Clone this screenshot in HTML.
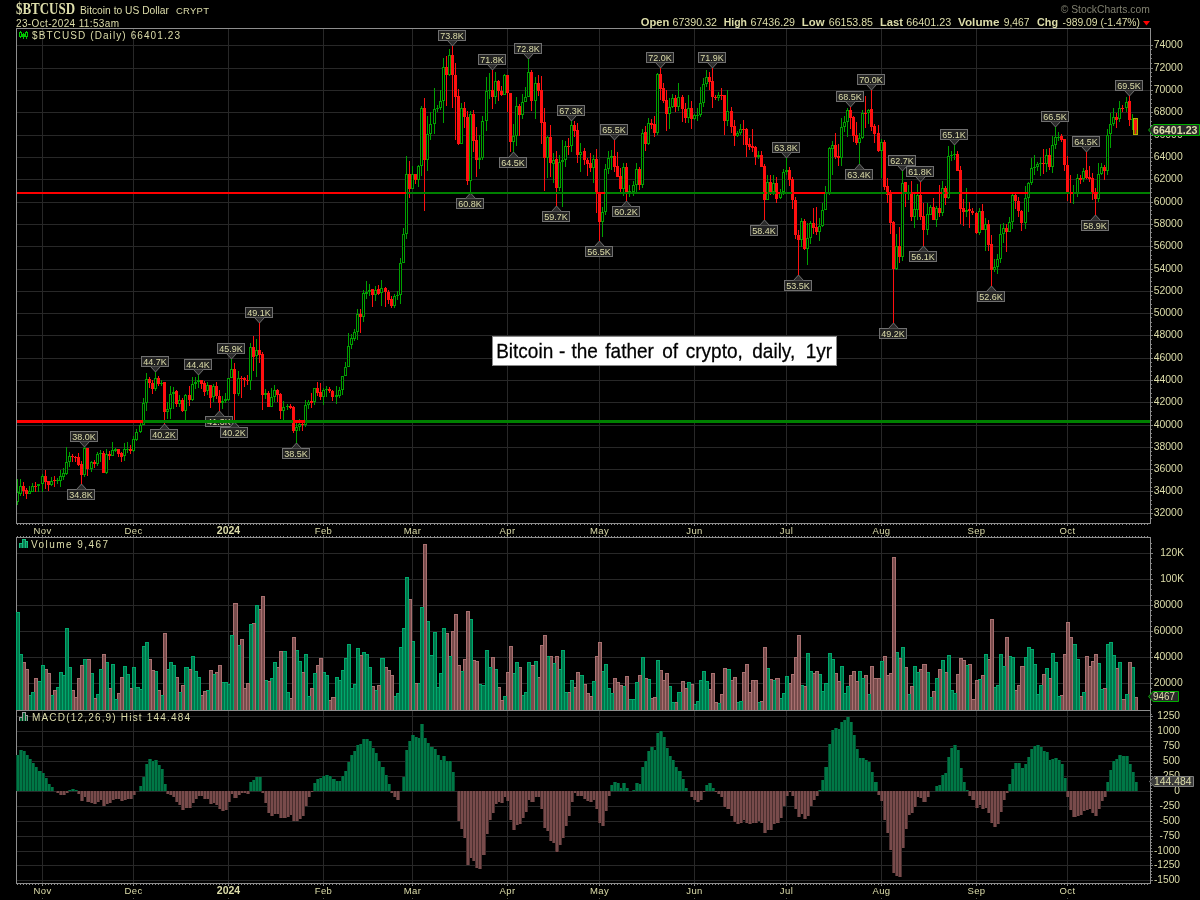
<!DOCTYPE html><html><head><meta charset="utf-8"><title>$BTCUSD</title><style>html,body{margin:0;padding:0;background:#000;width:1200px;height:900px;overflow:hidden}</style></head><body><svg width="1200" height="900" viewBox="0 0 1200 900" style="position:absolute;left:0;top:0;will-change:transform" font-family="Liberation Sans, sans-serif">
<rect width="1200" height="900" fill="#000"/>
<g fill="#282828" shape-rendering="crispEdges">
<rect x="17" y="45" width="1133" height="1"/>
<rect x="17" y="68" width="1133" height="1"/>
<rect x="17" y="90" width="1133" height="1"/>
<rect x="17" y="112" width="1133" height="1"/>
<rect x="17" y="135" width="1133" height="1"/>
<rect x="17" y="157" width="1133" height="1"/>
<rect x="17" y="179" width="1133" height="1"/>
<rect x="17" y="202" width="1133" height="1"/>
<rect x="17" y="224" width="1133" height="1"/>
<rect x="17" y="246" width="1133" height="1"/>
<rect x="17" y="269" width="1133" height="1"/>
<rect x="17" y="291" width="1133" height="1"/>
<rect x="17" y="313" width="1133" height="1"/>
<rect x="17" y="335" width="1133" height="1"/>
<rect x="17" y="358" width="1133" height="1"/>
<rect x="17" y="380" width="1133" height="1"/>
<rect x="17" y="402" width="1133" height="1"/>
<rect x="17" y="425" width="1133" height="1"/>
<rect x="17" y="447" width="1133" height="1"/>
<rect x="17" y="469" width="1133" height="1"/>
<rect x="17" y="491" width="1133" height="1"/>
<rect x="17" y="513" width="1133" height="1"/>
<rect x="42" y="29" width="1" height="494"/>
<rect x="42" y="538" width="1" height="172"/>
<rect x="42" y="711" width="1" height="172"/>
<rect x="133" y="29" width="1" height="494"/>
<rect x="133" y="538" width="1" height="172"/>
<rect x="133" y="711" width="1" height="172"/>
<rect x="228" y="29" width="1" height="494"/>
<rect x="228" y="538" width="1" height="172"/>
<rect x="228" y="711" width="1" height="172"/>
<rect x="323" y="29" width="1" height="494"/>
<rect x="323" y="538" width="1" height="172"/>
<rect x="323" y="711" width="1" height="172"/>
<rect x="412" y="29" width="1" height="494"/>
<rect x="412" y="538" width="1" height="172"/>
<rect x="412" y="711" width="1" height="172"/>
<rect x="507" y="29" width="1" height="494"/>
<rect x="507" y="538" width="1" height="172"/>
<rect x="507" y="711" width="1" height="172"/>
<rect x="599" y="29" width="1" height="494"/>
<rect x="599" y="538" width="1" height="172"/>
<rect x="599" y="711" width="1" height="172"/>
<rect x="694" y="29" width="1" height="494"/>
<rect x="694" y="538" width="1" height="172"/>
<rect x="694" y="711" width="1" height="172"/>
<rect x="786" y="29" width="1" height="494"/>
<rect x="786" y="538" width="1" height="172"/>
<rect x="786" y="711" width="1" height="172"/>
<rect x="881" y="29" width="1" height="494"/>
<rect x="881" y="538" width="1" height="172"/>
<rect x="881" y="711" width="1" height="172"/>
<rect x="976" y="29" width="1" height="494"/>
<rect x="976" y="538" width="1" height="172"/>
<rect x="976" y="711" width="1" height="172"/>
<rect x="1067" y="29" width="1" height="494"/>
<rect x="1067" y="538" width="1" height="172"/>
<rect x="1067" y="711" width="1" height="172"/>
<rect x="17" y="553" width="1133" height="1"/>
<rect x="17" y="579" width="1133" height="1"/>
<rect x="17" y="605" width="1133" height="1"/>
<rect x="17" y="631" width="1133" height="1"/>
<rect x="17" y="657" width="1133" height="1"/>
<rect x="17" y="683" width="1133" height="1"/>
<rect x="17" y="716" width="1133" height="1"/>
<rect x="17" y="731" width="1133" height="1"/>
<rect x="17" y="746" width="1133" height="1"/>
<rect x="17" y="761" width="1133" height="1"/>
<rect x="17" y="776" width="1133" height="1"/>
<rect x="17" y="791" width="1133" height="1"/>
<rect x="17" y="806" width="1133" height="1"/>
<rect x="17" y="821" width="1133" height="1"/>
<rect x="17" y="836" width="1133" height="1"/>
<rect x="17" y="851" width="1133" height="1"/>
<rect x="17" y="865" width="1133" height="1"/>
<rect x="17" y="880" width="1133" height="1"/>
</g>
<g shape-rendering="crispEdges">
<rect x="17" y="479" width="1" height="13" fill="#00a000"/>
<rect x="17" y="502" width="1" height="3" fill="#00a000"/>
<rect x="16" y="492" width="3" height="10" fill="#00a000"/>
<rect x="17" y="493" width="1" height="8" fill="#000"/>
<rect x="20" y="479" width="1" height="7" fill="#00a000"/>
<rect x="20" y="494" width="1" height="2" fill="#00a000"/>
<rect x="19" y="486" width="3" height="8" fill="#00a000"/>
<rect x="20" y="487" width="1" height="6" fill="#000"/>
<rect x="23" y="482" width="1" height="14" fill="#ff1010"/>
<rect x="22" y="486" width="3" height="5" fill="#ff1010"/>
<rect x="26" y="488" width="1" height="11" fill="#ff1010"/>
<rect x="25" y="490" width="3" height="4" fill="#ff1010"/>
<rect x="29" y="486" width="1" height="5" fill="#00a000"/>
<rect x="28" y="491" width="3" height="3" fill="#00a000"/>
<rect x="29" y="492" width="1" height="1" fill="#000"/>
<rect x="32" y="483" width="1" height="3" fill="#00a000"/>
<rect x="31" y="486" width="3" height="6" fill="#00a000"/>
<rect x="32" y="487" width="1" height="4" fill="#000"/>
<rect x="35" y="482" width="1" height="10" fill="#ff1010"/>
<rect x="34" y="486" width="3" height="1" fill="#ff1010"/>
<rect x="38" y="486" width="1" height="6" fill="#00a000"/>
<rect x="37" y="484" width="3" height="2" fill="#00a000"/>
<rect x="42" y="474" width="1" height="2" fill="#00a000"/>
<rect x="42" y="484" width="1" height="8" fill="#00a000"/>
<rect x="41" y="476" width="3" height="8" fill="#00a000"/>
<rect x="42" y="477" width="1" height="6" fill="#000"/>
<rect x="45" y="470" width="1" height="19" fill="#ff1010"/>
<rect x="44" y="476" width="3" height="6" fill="#ff1010"/>
<rect x="48" y="481" width="1" height="10" fill="#ff1010"/>
<rect x="47" y="481" width="3" height="4" fill="#ff1010"/>
<rect x="51" y="477" width="1" height="4" fill="#00a000"/>
<rect x="51" y="485" width="1" height="1" fill="#00a000"/>
<rect x="50" y="481" width="3" height="4" fill="#00a000"/>
<rect x="51" y="482" width="1" height="2" fill="#000"/>
<rect x="54" y="476" width="1" height="11" fill="#ff1010"/>
<rect x="53" y="480" width="3" height="1" fill="#ff1010"/>
<rect x="57" y="478" width="1" height="2" fill="#00a000"/>
<rect x="57" y="481" width="1" height="3" fill="#00a000"/>
<rect x="56" y="480" width="3" height="1" fill="#00a000"/>
<rect x="60" y="470" width="1" height="6" fill="#00a000"/>
<rect x="60" y="481" width="1" height="6" fill="#00a000"/>
<rect x="59" y="476" width="3" height="5" fill="#00a000"/>
<rect x="60" y="477" width="1" height="3" fill="#000"/>
<rect x="63" y="468" width="1" height="5" fill="#00a000"/>
<rect x="63" y="477" width="1" height="3" fill="#00a000"/>
<rect x="62" y="473" width="3" height="4" fill="#00a000"/>
<rect x="63" y="474" width="1" height="2" fill="#000"/>
<rect x="66" y="447" width="1" height="15" fill="#00a000"/>
<rect x="66" y="474" width="1" height="1" fill="#00a000"/>
<rect x="65" y="462" width="3" height="12" fill="#00a000"/>
<rect x="66" y="463" width="1" height="10" fill="#000"/>
<rect x="69" y="452" width="1" height="4" fill="#00a000"/>
<rect x="69" y="462" width="1" height="5" fill="#00a000"/>
<rect x="68" y="456" width="3" height="6" fill="#00a000"/>
<rect x="69" y="457" width="1" height="4" fill="#000"/>
<rect x="72" y="454" width="1" height="8" fill="#ff1010"/>
<rect x="71" y="456" width="3" height="1" fill="#ff1010"/>
<rect x="75" y="456" width="1" height="6" fill="#ff1010"/>
<rect x="74" y="457" width="3" height="1" fill="#ff1010"/>
<rect x="78" y="453" width="1" height="13" fill="#ff1010"/>
<rect x="77" y="457" width="3" height="8" fill="#ff1010"/>
<rect x="81" y="461" width="1" height="23" fill="#ff1010"/>
<rect x="80" y="464" width="3" height="11" fill="#ff1010"/>
<rect x="84" y="447" width="1" height="1" fill="#00a000"/>
<rect x="84" y="475" width="1" height="2" fill="#00a000"/>
<rect x="83" y="448" width="3" height="27" fill="#00a000"/>
<rect x="84" y="449" width="1" height="25" fill="#000"/>
<rect x="87" y="448" width="1" height="28" fill="#ff1010"/>
<rect x="86" y="448" width="3" height="21" fill="#ff1010"/>
<rect x="91" y="461" width="1" height="1" fill="#00a000"/>
<rect x="91" y="469" width="1" height="3" fill="#00a000"/>
<rect x="90" y="462" width="3" height="7" fill="#00a000"/>
<rect x="91" y="463" width="1" height="5" fill="#000"/>
<rect x="94" y="460" width="1" height="8" fill="#ff1010"/>
<rect x="93" y="462" width="3" height="2" fill="#ff1010"/>
<rect x="97" y="452" width="1" height="2" fill="#00a000"/>
<rect x="97" y="464" width="1" height="2" fill="#00a000"/>
<rect x="96" y="454" width="3" height="10" fill="#00a000"/>
<rect x="97" y="455" width="1" height="8" fill="#000"/>
<rect x="100" y="450" width="1" height="3" fill="#00a000"/>
<rect x="100" y="454" width="1" height="8" fill="#00a000"/>
<rect x="99" y="453" width="3" height="1" fill="#00a000"/>
<rect x="103" y="451" width="1" height="22" fill="#ff1010"/>
<rect x="102" y="453" width="3" height="20" fill="#ff1010"/>
<rect x="106" y="449" width="1" height="5" fill="#00a000"/>
<rect x="106" y="473" width="1" height="1" fill="#00a000"/>
<rect x="105" y="454" width="3" height="19" fill="#00a000"/>
<rect x="106" y="455" width="1" height="17" fill="#000"/>
<rect x="109" y="451" width="1" height="9" fill="#ff1010"/>
<rect x="108" y="454" width="3" height="2" fill="#ff1010"/>
<rect x="112" y="442" width="1" height="8" fill="#00a000"/>
<rect x="111" y="450" width="3" height="6" fill="#00a000"/>
<rect x="112" y="451" width="1" height="4" fill="#000"/>
<rect x="115" y="448" width="1" height="1" fill="#00a000"/>
<rect x="115" y="451" width="1" height="1" fill="#00a000"/>
<rect x="114" y="449" width="3" height="2" fill="#00a000"/>
<rect x="118" y="449" width="1" height="8" fill="#ff1010"/>
<rect x="117" y="449" width="3" height="5" fill="#ff1010"/>
<rect x="121" y="452" width="1" height="10" fill="#ff1010"/>
<rect x="120" y="453" width="3" height="4" fill="#ff1010"/>
<rect x="124" y="443" width="1" height="6" fill="#00a000"/>
<rect x="124" y="456" width="1" height="5" fill="#00a000"/>
<rect x="123" y="449" width="3" height="7" fill="#00a000"/>
<rect x="124" y="450" width="1" height="5" fill="#000"/>
<rect x="127" y="442" width="1" height="7" fill="#00a000"/>
<rect x="127" y="450" width="1" height="3" fill="#00a000"/>
<rect x="126" y="449" width="3" height="1" fill="#00a000"/>
<rect x="130" y="445" width="1" height="9" fill="#ff1010"/>
<rect x="129" y="449" width="3" height="2" fill="#ff1010"/>
<rect x="133" y="436" width="1" height="3" fill="#00a000"/>
<rect x="133" y="451" width="1" height="1" fill="#00a000"/>
<rect x="132" y="439" width="3" height="12" fill="#00a000"/>
<rect x="133" y="440" width="1" height="10" fill="#000"/>
<rect x="136" y="429" width="1" height="3" fill="#00a000"/>
<rect x="136" y="440" width="1" height="1" fill="#00a000"/>
<rect x="135" y="432" width="3" height="8" fill="#00a000"/>
<rect x="136" y="433" width="1" height="6" fill="#000"/>
<rect x="140" y="423" width="1" height="2" fill="#00a000"/>
<rect x="140" y="432" width="1" height="1" fill="#00a000"/>
<rect x="139" y="425" width="3" height="7" fill="#00a000"/>
<rect x="140" y="426" width="1" height="5" fill="#000"/>
<rect x="143" y="398" width="1" height="5" fill="#00a000"/>
<rect x="142" y="403" width="3" height="22" fill="#00a000"/>
<rect x="143" y="404" width="1" height="20" fill="#000"/>
<rect x="146" y="373" width="1" height="6" fill="#00a000"/>
<rect x="146" y="403" width="1" height="8" fill="#00a000"/>
<rect x="145" y="379" width="3" height="24" fill="#00a000"/>
<rect x="146" y="380" width="1" height="22" fill="#000"/>
<rect x="149" y="377" width="1" height="11" fill="#ff1010"/>
<rect x="148" y="379" width="3" height="4" fill="#ff1010"/>
<rect x="152" y="380" width="1" height="14" fill="#ff1010"/>
<rect x="151" y="383" width="3" height="6" fill="#ff1010"/>
<rect x="155" y="372" width="1" height="6" fill="#00a000"/>
<rect x="155" y="389" width="1" height="2" fill="#00a000"/>
<rect x="154" y="378" width="3" height="11" fill="#00a000"/>
<rect x="155" y="379" width="1" height="9" fill="#000"/>
<rect x="158" y="376" width="1" height="10" fill="#ff1010"/>
<rect x="157" y="378" width="3" height="6" fill="#ff1010"/>
<rect x="161" y="380" width="1" height="3" fill="#00a000"/>
<rect x="161" y="384" width="1" height="2" fill="#00a000"/>
<rect x="160" y="383" width="3" height="1" fill="#00a000"/>
<rect x="164" y="382" width="1" height="42" fill="#ff1010"/>
<rect x="163" y="382" width="3" height="30" fill="#ff1010"/>
<rect x="167" y="402" width="1" height="7" fill="#00a000"/>
<rect x="167" y="412" width="1" height="7" fill="#00a000"/>
<rect x="166" y="409" width="3" height="3" fill="#00a000"/>
<rect x="167" y="410" width="1" height="1" fill="#000"/>
<rect x="170" y="386" width="1" height="8" fill="#00a000"/>
<rect x="170" y="409" width="1" height="10" fill="#00a000"/>
<rect x="169" y="394" width="3" height="15" fill="#00a000"/>
<rect x="170" y="395" width="1" height="13" fill="#000"/>
<rect x="173" y="387" width="1" height="5" fill="#00a000"/>
<rect x="173" y="394" width="1" height="15" fill="#00a000"/>
<rect x="172" y="392" width="3" height="2" fill="#00a000"/>
<rect x="176" y="390" width="1" height="17" fill="#ff1010"/>
<rect x="175" y="391" width="3" height="13" fill="#ff1010"/>
<rect x="179" y="395" width="1" height="5" fill="#00a000"/>
<rect x="179" y="404" width="1" height="3" fill="#00a000"/>
<rect x="178" y="400" width="3" height="4" fill="#00a000"/>
<rect x="179" y="401" width="1" height="2" fill="#000"/>
<rect x="182" y="398" width="1" height="14" fill="#ff1010"/>
<rect x="181" y="400" width="3" height="11" fill="#ff1010"/>
<rect x="185" y="394" width="1" height="1" fill="#00a000"/>
<rect x="185" y="411" width="1" height="9" fill="#00a000"/>
<rect x="184" y="395" width="3" height="16" fill="#00a000"/>
<rect x="185" y="396" width="1" height="14" fill="#000"/>
<rect x="189" y="386" width="1" height="20" fill="#ff1010"/>
<rect x="188" y="395" width="3" height="5" fill="#ff1010"/>
<rect x="192" y="377" width="1" height="7" fill="#00a000"/>
<rect x="192" y="400" width="1" height="1" fill="#00a000"/>
<rect x="191" y="384" width="3" height="16" fill="#00a000"/>
<rect x="192" y="385" width="1" height="14" fill="#000"/>
<rect x="195" y="377" width="1" height="5" fill="#00a000"/>
<rect x="195" y="384" width="1" height="5" fill="#00a000"/>
<rect x="194" y="382" width="3" height="2" fill="#00a000"/>
<rect x="198" y="375" width="1" height="5" fill="#00a000"/>
<rect x="198" y="382" width="1" height="6" fill="#00a000"/>
<rect x="197" y="380" width="3" height="2" fill="#00a000"/>
<rect x="201" y="380" width="1" height="9" fill="#ff1010"/>
<rect x="200" y="380" width="3" height="4" fill="#ff1010"/>
<rect x="204" y="381" width="1" height="15" fill="#ff1010"/>
<rect x="203" y="383" width="3" height="9" fill="#ff1010"/>
<rect x="207" y="382" width="1" height="3" fill="#00a000"/>
<rect x="207" y="391" width="1" height="4" fill="#00a000"/>
<rect x="206" y="385" width="3" height="6" fill="#00a000"/>
<rect x="207" y="386" width="1" height="4" fill="#000"/>
<rect x="210" y="385" width="1" height="23" fill="#ff1010"/>
<rect x="209" y="385" width="3" height="13" fill="#ff1010"/>
<rect x="213" y="384" width="1" height="2" fill="#00a000"/>
<rect x="213" y="397" width="1" height="5" fill="#00a000"/>
<rect x="212" y="386" width="3" height="11" fill="#00a000"/>
<rect x="213" y="387" width="1" height="9" fill="#000"/>
<rect x="216" y="382" width="1" height="17" fill="#ff1010"/>
<rect x="215" y="386" width="3" height="10" fill="#ff1010"/>
<rect x="219" y="390" width="1" height="21" fill="#ff1010"/>
<rect x="218" y="396" width="3" height="7" fill="#ff1010"/>
<rect x="222" y="396" width="1" height="5" fill="#00a000"/>
<rect x="222" y="403" width="1" height="6" fill="#00a000"/>
<rect x="221" y="401" width="3" height="2" fill="#00a000"/>
<rect x="225" y="393" width="1" height="6" fill="#00a000"/>
<rect x="225" y="401" width="1" height="2" fill="#00a000"/>
<rect x="224" y="399" width="3" height="2" fill="#00a000"/>
<rect x="228" y="400" width="1" height="1" fill="#00a000"/>
<rect x="227" y="378" width="3" height="22" fill="#00a000"/>
<rect x="228" y="379" width="1" height="20" fill="#000"/>
<rect x="231" y="359" width="1" height="10" fill="#00a000"/>
<rect x="230" y="369" width="3" height="9" fill="#00a000"/>
<rect x="231" y="370" width="1" height="7" fill="#000"/>
<rect x="234" y="363" width="1" height="59" fill="#ff1010"/>
<rect x="233" y="369" width="3" height="25" fill="#ff1010"/>
<rect x="238" y="371" width="1" height="7" fill="#00a000"/>
<rect x="238" y="394" width="1" height="2" fill="#00a000"/>
<rect x="237" y="378" width="3" height="16" fill="#00a000"/>
<rect x="238" y="379" width="1" height="14" fill="#000"/>
<rect x="241" y="376" width="1" height="22" fill="#ff1010"/>
<rect x="240" y="378" width="3" height="1" fill="#ff1010"/>
<rect x="244" y="377" width="1" height="10" fill="#ff1010"/>
<rect x="243" y="378" width="3" height="2" fill="#ff1010"/>
<rect x="247" y="375" width="1" height="10" fill="#ff1010"/>
<rect x="246" y="380" width="3" height="1" fill="#ff1010"/>
<rect x="250" y="343" width="1" height="4" fill="#00a000"/>
<rect x="250" y="381" width="1" height="9" fill="#00a000"/>
<rect x="249" y="347" width="3" height="34" fill="#00a000"/>
<rect x="250" y="348" width="1" height="32" fill="#000"/>
<rect x="253" y="336" width="1" height="35" fill="#ff1010"/>
<rect x="252" y="347" width="3" height="10" fill="#ff1010"/>
<rect x="256" y="339" width="1" height="11" fill="#00a000"/>
<rect x="256" y="356" width="1" height="21" fill="#00a000"/>
<rect x="255" y="350" width="3" height="6" fill="#00a000"/>
<rect x="256" y="351" width="1" height="4" fill="#000"/>
<rect x="259" y="323" width="1" height="40" fill="#ff1010"/>
<rect x="258" y="350" width="3" height="5" fill="#ff1010"/>
<rect x="262" y="352" width="1" height="58" fill="#ff1010"/>
<rect x="261" y="354" width="3" height="41" fill="#ff1010"/>
<rect x="265" y="389" width="1" height="4" fill="#00a000"/>
<rect x="265" y="395" width="1" height="4" fill="#00a000"/>
<rect x="264" y="393" width="3" height="2" fill="#00a000"/>
<rect x="268" y="391" width="1" height="16" fill="#ff1010"/>
<rect x="267" y="393" width="3" height="14" fill="#ff1010"/>
<rect x="271" y="388" width="1" height="9" fill="#00a000"/>
<rect x="270" y="397" width="3" height="10" fill="#00a000"/>
<rect x="271" y="398" width="1" height="8" fill="#000"/>
<rect x="274" y="385" width="1" height="5" fill="#00a000"/>
<rect x="274" y="397" width="1" height="5" fill="#00a000"/>
<rect x="273" y="390" width="3" height="7" fill="#00a000"/>
<rect x="274" y="391" width="1" height="5" fill="#000"/>
<rect x="277" y="389" width="1" height="13" fill="#ff1010"/>
<rect x="276" y="390" width="3" height="5" fill="#ff1010"/>
<rect x="280" y="393" width="1" height="26" fill="#ff1010"/>
<rect x="279" y="394" width="3" height="17" fill="#ff1010"/>
<rect x="283" y="401" width="1" height="6" fill="#00a000"/>
<rect x="283" y="411" width="1" height="10" fill="#00a000"/>
<rect x="282" y="407" width="3" height="4" fill="#00a000"/>
<rect x="283" y="408" width="1" height="2" fill="#000"/>
<rect x="287" y="404" width="1" height="2" fill="#00a000"/>
<rect x="287" y="407" width="1" height="3" fill="#00a000"/>
<rect x="286" y="406" width="3" height="1" fill="#00a000"/>
<rect x="290" y="404" width="1" height="5" fill="#ff1010"/>
<rect x="289" y="406" width="3" height="2" fill="#ff1010"/>
<rect x="293" y="406" width="1" height="27" fill="#ff1010"/>
<rect x="292" y="407" width="3" height="24" fill="#ff1010"/>
<rect x="296" y="423" width="1" height="4" fill="#00a000"/>
<rect x="296" y="431" width="1" height="12" fill="#00a000"/>
<rect x="295" y="427" width="3" height="4" fill="#00a000"/>
<rect x="296" y="428" width="1" height="2" fill="#000"/>
<rect x="299" y="419" width="1" height="5" fill="#00a000"/>
<rect x="299" y="427" width="1" height="4" fill="#00a000"/>
<rect x="298" y="424" width="3" height="3" fill="#00a000"/>
<rect x="299" y="425" width="1" height="1" fill="#000"/>
<rect x="302" y="423" width="1" height="8" fill="#ff1010"/>
<rect x="301" y="424" width="3" height="1" fill="#ff1010"/>
<rect x="305" y="400" width="1" height="5" fill="#00a000"/>
<rect x="305" y="425" width="1" height="2" fill="#00a000"/>
<rect x="304" y="405" width="3" height="20" fill="#00a000"/>
<rect x="305" y="406" width="1" height="18" fill="#000"/>
<rect x="308" y="400" width="1" height="2" fill="#00a000"/>
<rect x="308" y="405" width="1" height="4" fill="#00a000"/>
<rect x="307" y="402" width="3" height="3" fill="#00a000"/>
<rect x="308" y="403" width="1" height="1" fill="#000"/>
<rect x="311" y="393" width="1" height="15" fill="#ff1010"/>
<rect x="310" y="401" width="3" height="2" fill="#ff1010"/>
<rect x="314" y="402" width="1" height="3" fill="#00a000"/>
<rect x="313" y="388" width="3" height="14" fill="#00a000"/>
<rect x="314" y="389" width="1" height="12" fill="#000"/>
<rect x="317" y="382" width="1" height="14" fill="#ff1010"/>
<rect x="316" y="388" width="3" height="5" fill="#ff1010"/>
<rect x="320" y="383" width="1" height="17" fill="#ff1010"/>
<rect x="319" y="392" width="3" height="5" fill="#ff1010"/>
<rect x="323" y="388" width="1" height="2" fill="#00a000"/>
<rect x="323" y="397" width="1" height="8" fill="#00a000"/>
<rect x="322" y="390" width="3" height="7" fill="#00a000"/>
<rect x="323" y="391" width="1" height="5" fill="#000"/>
<rect x="326" y="386" width="1" height="3" fill="#00a000"/>
<rect x="326" y="390" width="1" height="7" fill="#00a000"/>
<rect x="325" y="389" width="3" height="1" fill="#00a000"/>
<rect x="329" y="387" width="1" height="6" fill="#ff1010"/>
<rect x="328" y="389" width="3" height="2" fill="#ff1010"/>
<rect x="332" y="390" width="1" height="11" fill="#ff1010"/>
<rect x="331" y="391" width="3" height="6" fill="#ff1010"/>
<rect x="336" y="386" width="1" height="9" fill="#00a000"/>
<rect x="336" y="397" width="1" height="7" fill="#00a000"/>
<rect x="335" y="395" width="3" height="2" fill="#00a000"/>
<rect x="339" y="387" width="1" height="3" fill="#00a000"/>
<rect x="339" y="396" width="1" height="2" fill="#00a000"/>
<rect x="338" y="390" width="3" height="6" fill="#00a000"/>
<rect x="339" y="391" width="1" height="4" fill="#000"/>
<rect x="342" y="390" width="1" height="5" fill="#00a000"/>
<rect x="341" y="376" width="3" height="14" fill="#00a000"/>
<rect x="342" y="377" width="1" height="12" fill="#000"/>
<rect x="345" y="362" width="1" height="5" fill="#00a000"/>
<rect x="344" y="367" width="3" height="9" fill="#00a000"/>
<rect x="345" y="368" width="1" height="7" fill="#000"/>
<rect x="348" y="333" width="1" height="13" fill="#00a000"/>
<rect x="347" y="346" width="3" height="21" fill="#00a000"/>
<rect x="348" y="347" width="1" height="19" fill="#000"/>
<rect x="351" y="334" width="1" height="4" fill="#00a000"/>
<rect x="351" y="345" width="1" height="4" fill="#00a000"/>
<rect x="350" y="338" width="3" height="7" fill="#00a000"/>
<rect x="351" y="339" width="1" height="5" fill="#000"/>
<rect x="354" y="329" width="1" height="3" fill="#00a000"/>
<rect x="354" y="339" width="1" height="2" fill="#00a000"/>
<rect x="353" y="332" width="3" height="7" fill="#00a000"/>
<rect x="354" y="333" width="1" height="5" fill="#000"/>
<rect x="357" y="309" width="1" height="5" fill="#00a000"/>
<rect x="357" y="332" width="1" height="8" fill="#00a000"/>
<rect x="356" y="314" width="3" height="18" fill="#00a000"/>
<rect x="357" y="315" width="1" height="16" fill="#000"/>
<rect x="360" y="309" width="1" height="24" fill="#ff1010"/>
<rect x="359" y="314" width="3" height="3" fill="#ff1010"/>
<rect x="363" y="290" width="1" height="3" fill="#00a000"/>
<rect x="363" y="317" width="1" height="5" fill="#00a000"/>
<rect x="362" y="293" width="3" height="24" fill="#00a000"/>
<rect x="363" y="294" width="1" height="22" fill="#000"/>
<rect x="366" y="281" width="1" height="11" fill="#00a000"/>
<rect x="366" y="294" width="1" height="5" fill="#00a000"/>
<rect x="365" y="292" width="3" height="2" fill="#00a000"/>
<rect x="369" y="284" width="1" height="6" fill="#00a000"/>
<rect x="369" y="292" width="1" height="4" fill="#00a000"/>
<rect x="368" y="290" width="3" height="2" fill="#00a000"/>
<rect x="372" y="289" width="1" height="18" fill="#ff1010"/>
<rect x="371" y="289" width="3" height="6" fill="#ff1010"/>
<rect x="375" y="286" width="1" height="4" fill="#00a000"/>
<rect x="375" y="295" width="1" height="6" fill="#00a000"/>
<rect x="374" y="290" width="3" height="5" fill="#00a000"/>
<rect x="375" y="291" width="1" height="3" fill="#000"/>
<rect x="378" y="285" width="1" height="10" fill="#ff1010"/>
<rect x="377" y="289" width="3" height="5" fill="#ff1010"/>
<rect x="381" y="280" width="1" height="8" fill="#00a000"/>
<rect x="381" y="293" width="1" height="13" fill="#00a000"/>
<rect x="380" y="288" width="3" height="5" fill="#00a000"/>
<rect x="381" y="289" width="1" height="3" fill="#000"/>
<rect x="385" y="287" width="1" height="20" fill="#ff1010"/>
<rect x="384" y="288" width="3" height="4" fill="#ff1010"/>
<rect x="388" y="290" width="1" height="14" fill="#ff1010"/>
<rect x="387" y="292" width="3" height="8" fill="#ff1010"/>
<rect x="391" y="296" width="1" height="12" fill="#ff1010"/>
<rect x="390" y="299" width="3" height="7" fill="#ff1010"/>
<rect x="394" y="294" width="1" height="2" fill="#00a000"/>
<rect x="394" y="306" width="1" height="2" fill="#00a000"/>
<rect x="393" y="296" width="3" height="10" fill="#00a000"/>
<rect x="394" y="297" width="1" height="8" fill="#000"/>
<rect x="397" y="291" width="1" height="4" fill="#00a000"/>
<rect x="397" y="296" width="1" height="4" fill="#00a000"/>
<rect x="396" y="295" width="3" height="1" fill="#00a000"/>
<rect x="400" y="258" width="1" height="5" fill="#00a000"/>
<rect x="400" y="295" width="1" height="9" fill="#00a000"/>
<rect x="399" y="263" width="3" height="32" fill="#00a000"/>
<rect x="400" y="264" width="1" height="30" fill="#000"/>
<rect x="403" y="228" width="1" height="6" fill="#00a000"/>
<rect x="402" y="234" width="3" height="29" fill="#00a000"/>
<rect x="403" y="235" width="1" height="27" fill="#000"/>
<rect x="406" y="156" width="1" height="18" fill="#00a000"/>
<rect x="406" y="234" width="1" height="5" fill="#00a000"/>
<rect x="405" y="174" width="3" height="60" fill="#00a000"/>
<rect x="406" y="175" width="1" height="58" fill="#000"/>
<rect x="409" y="161" width="1" height="37" fill="#ff1010"/>
<rect x="408" y="174" width="3" height="15" fill="#ff1010"/>
<rect x="412" y="166" width="1" height="8" fill="#00a000"/>
<rect x="411" y="174" width="3" height="15" fill="#00a000"/>
<rect x="412" y="175" width="1" height="13" fill="#000"/>
<rect x="415" y="174" width="1" height="10" fill="#ff1010"/>
<rect x="414" y="174" width="3" height="6" fill="#ff1010"/>
<rect x="418" y="165" width="1" height="1" fill="#00a000"/>
<rect x="418" y="180" width="1" height="7" fill="#00a000"/>
<rect x="417" y="166" width="3" height="14" fill="#00a000"/>
<rect x="418" y="167" width="1" height="12" fill="#000"/>
<rect x="421" y="106" width="1" height="2" fill="#00a000"/>
<rect x="421" y="166" width="1" height="10" fill="#00a000"/>
<rect x="420" y="108" width="3" height="58" fill="#00a000"/>
<rect x="421" y="109" width="1" height="56" fill="#000"/>
<rect x="424" y="98" width="1" height="113" fill="#ff1010"/>
<rect x="423" y="108" width="3" height="52" fill="#ff1010"/>
<rect x="427" y="116" width="1" height="18" fill="#00a000"/>
<rect x="427" y="160" width="1" height="11" fill="#00a000"/>
<rect x="426" y="134" width="3" height="26" fill="#00a000"/>
<rect x="427" y="135" width="1" height="24" fill="#000"/>
<rect x="430" y="112" width="1" height="12" fill="#00a000"/>
<rect x="430" y="134" width="1" height="6" fill="#00a000"/>
<rect x="429" y="124" width="3" height="10" fill="#00a000"/>
<rect x="430" y="125" width="1" height="8" fill="#000"/>
<rect x="434" y="88" width="1" height="21" fill="#00a000"/>
<rect x="434" y="124" width="1" height="10" fill="#00a000"/>
<rect x="433" y="109" width="3" height="15" fill="#00a000"/>
<rect x="434" y="110" width="1" height="13" fill="#000"/>
<rect x="437" y="105" width="1" height="3" fill="#00a000"/>
<rect x="437" y="109" width="1" height="3" fill="#00a000"/>
<rect x="436" y="108" width="3" height="1" fill="#00a000"/>
<rect x="440" y="90" width="1" height="11" fill="#00a000"/>
<rect x="440" y="108" width="1" height="2" fill="#00a000"/>
<rect x="439" y="101" width="3" height="7" fill="#00a000"/>
<rect x="440" y="102" width="1" height="5" fill="#000"/>
<rect x="443" y="58" width="1" height="9" fill="#00a000"/>
<rect x="443" y="101" width="1" height="22" fill="#00a000"/>
<rect x="442" y="67" width="3" height="34" fill="#00a000"/>
<rect x="443" y="68" width="1" height="32" fill="#000"/>
<rect x="446" y="56" width="1" height="50" fill="#ff1010"/>
<rect x="445" y="67" width="3" height="8" fill="#ff1010"/>
<rect x="449" y="49" width="1" height="6" fill="#00a000"/>
<rect x="449" y="75" width="1" height="1" fill="#00a000"/>
<rect x="448" y="55" width="3" height="20" fill="#00a000"/>
<rect x="449" y="56" width="1" height="18" fill="#000"/>
<rect x="452" y="46" width="1" height="62" fill="#ff1010"/>
<rect x="451" y="55" width="3" height="20" fill="#ff1010"/>
<rect x="455" y="63" width="1" height="77" fill="#ff1010"/>
<rect x="454" y="75" width="3" height="22" fill="#ff1010"/>
<rect x="458" y="89" width="1" height="56" fill="#ff1010"/>
<rect x="457" y="96" width="3" height="48" fill="#ff1010"/>
<rect x="461" y="103" width="1" height="5" fill="#00a000"/>
<rect x="460" y="108" width="3" height="36" fill="#00a000"/>
<rect x="461" y="109" width="1" height="34" fill="#000"/>
<rect x="464" y="102" width="1" height="26" fill="#ff1010"/>
<rect x="463" y="108" width="3" height="9" fill="#ff1010"/>
<rect x="467" y="111" width="1" height="74" fill="#ff1010"/>
<rect x="466" y="117" width="3" height="64" fill="#ff1010"/>
<rect x="470" y="111" width="1" height="3" fill="#00a000"/>
<rect x="470" y="181" width="1" height="12" fill="#00a000"/>
<rect x="469" y="114" width="3" height="67" fill="#00a000"/>
<rect x="470" y="115" width="1" height="65" fill="#000"/>
<rect x="473" y="110" width="1" height="42" fill="#ff1010"/>
<rect x="472" y="114" width="3" height="27" fill="#ff1010"/>
<rect x="476" y="127" width="1" height="50" fill="#ff1010"/>
<rect x="475" y="140" width="3" height="20" fill="#ff1010"/>
<rect x="479" y="135" width="1" height="23" fill="#00a000"/>
<rect x="479" y="160" width="1" height="9" fill="#00a000"/>
<rect x="478" y="158" width="3" height="2" fill="#00a000"/>
<rect x="482" y="116" width="1" height="5" fill="#00a000"/>
<rect x="482" y="158" width="1" height="2" fill="#00a000"/>
<rect x="481" y="121" width="3" height="37" fill="#00a000"/>
<rect x="482" y="122" width="1" height="35" fill="#000"/>
<rect x="486" y="77" width="1" height="14" fill="#00a000"/>
<rect x="486" y="121" width="1" height="10" fill="#00a000"/>
<rect x="485" y="91" width="3" height="30" fill="#00a000"/>
<rect x="486" y="92" width="1" height="28" fill="#000"/>
<rect x="489" y="73" width="1" height="17" fill="#00a000"/>
<rect x="489" y="91" width="1" height="8" fill="#00a000"/>
<rect x="488" y="90" width="3" height="1" fill="#00a000"/>
<rect x="492" y="70" width="1" height="39" fill="#ff1010"/>
<rect x="491" y="90" width="3" height="7" fill="#ff1010"/>
<rect x="495" y="72" width="1" height="9" fill="#00a000"/>
<rect x="495" y="97" width="1" height="7" fill="#00a000"/>
<rect x="494" y="81" width="3" height="16" fill="#00a000"/>
<rect x="495" y="82" width="1" height="14" fill="#000"/>
<rect x="498" y="80" width="1" height="21" fill="#ff1010"/>
<rect x="497" y="81" width="3" height="10" fill="#ff1010"/>
<rect x="501" y="86" width="1" height="10" fill="#ff1010"/>
<rect x="500" y="91" width="3" height="4" fill="#ff1010"/>
<rect x="504" y="74" width="1" height="1" fill="#00a000"/>
<rect x="503" y="75" width="3" height="20" fill="#00a000"/>
<rect x="504" y="76" width="1" height="18" fill="#000"/>
<rect x="507" y="75" width="1" height="37" fill="#ff1010"/>
<rect x="506" y="75" width="3" height="18" fill="#ff1010"/>
<rect x="510" y="93" width="1" height="59" fill="#ff1010"/>
<rect x="509" y="93" width="3" height="49" fill="#ff1010"/>
<rect x="513" y="124" width="1" height="12" fill="#00a000"/>
<rect x="513" y="142" width="1" height="10" fill="#00a000"/>
<rect x="512" y="136" width="3" height="6" fill="#00a000"/>
<rect x="513" y="137" width="1" height="4" fill="#000"/>
<rect x="516" y="97" width="1" height="9" fill="#00a000"/>
<rect x="516" y="136" width="1" height="10" fill="#00a000"/>
<rect x="515" y="106" width="3" height="30" fill="#00a000"/>
<rect x="516" y="107" width="1" height="28" fill="#000"/>
<rect x="519" y="104" width="1" height="32" fill="#ff1010"/>
<rect x="518" y="106" width="3" height="9" fill="#ff1010"/>
<rect x="522" y="94" width="1" height="8" fill="#00a000"/>
<rect x="522" y="115" width="1" height="4" fill="#00a000"/>
<rect x="521" y="102" width="3" height="13" fill="#00a000"/>
<rect x="522" y="103" width="1" height="11" fill="#000"/>
<rect x="525" y="87" width="1" height="10" fill="#00a000"/>
<rect x="524" y="97" width="3" height="5" fill="#00a000"/>
<rect x="525" y="98" width="1" height="3" fill="#000"/>
<rect x="528" y="59" width="1" height="13" fill="#00a000"/>
<rect x="527" y="72" width="3" height="25" fill="#00a000"/>
<rect x="528" y="73" width="1" height="23" fill="#000"/>
<rect x="531" y="70" width="1" height="41" fill="#ff1010"/>
<rect x="530" y="72" width="3" height="29" fill="#ff1010"/>
<rect x="535" y="77" width="1" height="6" fill="#00a000"/>
<rect x="535" y="101" width="1" height="18" fill="#00a000"/>
<rect x="534" y="83" width="3" height="18" fill="#00a000"/>
<rect x="535" y="84" width="1" height="16" fill="#000"/>
<rect x="538" y="75" width="1" height="21" fill="#ff1010"/>
<rect x="537" y="83" width="3" height="8" fill="#ff1010"/>
<rect x="541" y="76" width="1" height="68" fill="#ff1010"/>
<rect x="540" y="90" width="3" height="33" fill="#ff1010"/>
<rect x="544" y="108" width="1" height="83" fill="#ff1010"/>
<rect x="543" y="122" width="3" height="36" fill="#ff1010"/>
<rect x="547" y="136" width="1" height="1" fill="#00a000"/>
<rect x="547" y="158" width="1" height="20" fill="#00a000"/>
<rect x="546" y="137" width="3" height="21" fill="#00a000"/>
<rect x="547" y="138" width="1" height="19" fill="#000"/>
<rect x="550" y="125" width="1" height="52" fill="#ff1010"/>
<rect x="549" y="137" width="3" height="26" fill="#ff1010"/>
<rect x="553" y="153" width="1" height="7" fill="#00a000"/>
<rect x="553" y="164" width="1" height="19" fill="#00a000"/>
<rect x="552" y="160" width="3" height="4" fill="#00a000"/>
<rect x="553" y="161" width="1" height="2" fill="#000"/>
<rect x="556" y="151" width="1" height="55" fill="#ff1010"/>
<rect x="555" y="159" width="3" height="29" fill="#ff1010"/>
<rect x="559" y="155" width="1" height="7" fill="#00a000"/>
<rect x="559" y="188" width="1" height="3" fill="#00a000"/>
<rect x="558" y="162" width="3" height="26" fill="#00a000"/>
<rect x="559" y="163" width="1" height="24" fill="#000"/>
<rect x="562" y="140" width="1" height="20" fill="#00a000"/>
<rect x="562" y="162" width="1" height="45" fill="#00a000"/>
<rect x="561" y="160" width="3" height="2" fill="#00a000"/>
<rect x="565" y="141" width="1" height="5" fill="#00a000"/>
<rect x="565" y="160" width="1" height="7" fill="#00a000"/>
<rect x="564" y="146" width="3" height="14" fill="#00a000"/>
<rect x="565" y="147" width="1" height="12" fill="#000"/>
<rect x="568" y="138" width="1" height="17" fill="#ff1010"/>
<rect x="567" y="146" width="3" height="1" fill="#ff1010"/>
<rect x="571" y="121" width="1" height="4" fill="#00a000"/>
<rect x="571" y="146" width="1" height="6" fill="#00a000"/>
<rect x="570" y="125" width="3" height="21" fill="#00a000"/>
<rect x="571" y="126" width="1" height="19" fill="#000"/>
<rect x="574" y="121" width="1" height="16" fill="#ff1010"/>
<rect x="573" y="125" width="3" height="6" fill="#ff1010"/>
<rect x="577" y="123" width="1" height="40" fill="#ff1010"/>
<rect x="576" y="130" width="3" height="25" fill="#ff1010"/>
<rect x="580" y="143" width="1" height="9" fill="#00a000"/>
<rect x="580" y="155" width="1" height="17" fill="#00a000"/>
<rect x="579" y="152" width="3" height="3" fill="#00a000"/>
<rect x="580" y="153" width="1" height="1" fill="#000"/>
<rect x="584" y="148" width="1" height="17" fill="#ff1010"/>
<rect x="583" y="151" width="3" height="9" fill="#ff1010"/>
<rect x="587" y="158" width="1" height="18" fill="#ff1010"/>
<rect x="586" y="160" width="3" height="4" fill="#ff1010"/>
<rect x="590" y="153" width="1" height="19" fill="#ff1010"/>
<rect x="589" y="163" width="3" height="5" fill="#ff1010"/>
<rect x="593" y="155" width="1" height="4" fill="#00a000"/>
<rect x="593" y="168" width="1" height="15" fill="#00a000"/>
<rect x="592" y="159" width="3" height="9" fill="#00a000"/>
<rect x="593" y="160" width="1" height="7" fill="#000"/>
<rect x="596" y="149" width="1" height="64" fill="#ff1010"/>
<rect x="595" y="159" width="3" height="34" fill="#ff1010"/>
<rect x="599" y="193" width="1" height="48" fill="#ff1010"/>
<rect x="598" y="193" width="3" height="29" fill="#ff1010"/>
<rect x="602" y="207" width="1" height="5" fill="#00a000"/>
<rect x="602" y="222" width="1" height="15" fill="#00a000"/>
<rect x="601" y="212" width="3" height="10" fill="#00a000"/>
<rect x="602" y="213" width="1" height="8" fill="#000"/>
<rect x="605" y="164" width="1" height="5" fill="#00a000"/>
<rect x="605" y="212" width="1" height="3" fill="#00a000"/>
<rect x="604" y="169" width="3" height="43" fill="#00a000"/>
<rect x="605" y="170" width="1" height="41" fill="#000"/>
<rect x="608" y="151" width="1" height="7" fill="#00a000"/>
<rect x="608" y="169" width="1" height="5" fill="#00a000"/>
<rect x="607" y="158" width="3" height="11" fill="#00a000"/>
<rect x="608" y="159" width="1" height="9" fill="#000"/>
<rect x="611" y="150" width="1" height="6" fill="#00a000"/>
<rect x="611" y="158" width="1" height="12" fill="#00a000"/>
<rect x="610" y="156" width="3" height="2" fill="#00a000"/>
<rect x="614" y="140" width="1" height="32" fill="#ff1010"/>
<rect x="613" y="156" width="3" height="11" fill="#ff1010"/>
<rect x="617" y="152" width="1" height="25" fill="#ff1010"/>
<rect x="616" y="166" width="3" height="11" fill="#ff1010"/>
<rect x="620" y="168" width="1" height="24" fill="#ff1010"/>
<rect x="619" y="176" width="3" height="13" fill="#ff1010"/>
<rect x="623" y="163" width="1" height="4" fill="#00a000"/>
<rect x="623" y="189" width="1" height="7" fill="#00a000"/>
<rect x="622" y="167" width="3" height="22" fill="#00a000"/>
<rect x="623" y="168" width="1" height="20" fill="#000"/>
<rect x="626" y="163" width="1" height="38" fill="#ff1010"/>
<rect x="625" y="167" width="3" height="25" fill="#ff1010"/>
<rect x="629" y="185" width="1" height="6" fill="#00a000"/>
<rect x="629" y="192" width="1" height="5" fill="#00a000"/>
<rect x="628" y="191" width="3" height="1" fill="#00a000"/>
<rect x="633" y="181" width="1" height="4" fill="#00a000"/>
<rect x="633" y="192" width="1" height="4" fill="#00a000"/>
<rect x="632" y="185" width="3" height="7" fill="#00a000"/>
<rect x="633" y="186" width="1" height="5" fill="#000"/>
<rect x="636" y="163" width="1" height="6" fill="#00a000"/>
<rect x="636" y="185" width="1" height="7" fill="#00a000"/>
<rect x="635" y="169" width="3" height="16" fill="#00a000"/>
<rect x="636" y="170" width="1" height="14" fill="#000"/>
<rect x="639" y="167" width="1" height="23" fill="#ff1010"/>
<rect x="638" y="169" width="3" height="16" fill="#ff1010"/>
<rect x="642" y="129" width="1" height="4" fill="#00a000"/>
<rect x="642" y="185" width="1" height="3" fill="#00a000"/>
<rect x="641" y="133" width="3" height="52" fill="#00a000"/>
<rect x="642" y="134" width="1" height="50" fill="#000"/>
<rect x="645" y="126" width="1" height="25" fill="#ff1010"/>
<rect x="644" y="132" width="3" height="12" fill="#ff1010"/>
<rect x="648" y="118" width="1" height="5" fill="#00a000"/>
<rect x="648" y="144" width="1" height="1" fill="#00a000"/>
<rect x="647" y="123" width="3" height="21" fill="#00a000"/>
<rect x="648" y="124" width="1" height="19" fill="#000"/>
<rect x="651" y="119" width="1" height="10" fill="#ff1010"/>
<rect x="650" y="123" width="3" height="2" fill="#ff1010"/>
<rect x="654" y="116" width="1" height="21" fill="#ff1010"/>
<rect x="653" y="124" width="3" height="9" fill="#ff1010"/>
<rect x="657" y="73" width="1" height="1" fill="#00a000"/>
<rect x="657" y="133" width="1" height="2" fill="#00a000"/>
<rect x="656" y="74" width="3" height="59" fill="#00a000"/>
<rect x="657" y="75" width="1" height="57" fill="#000"/>
<rect x="660" y="68" width="1" height="32" fill="#ff1010"/>
<rect x="659" y="74" width="3" height="15" fill="#ff1010"/>
<rect x="663" y="83" width="1" height="20" fill="#ff1010"/>
<rect x="662" y="88" width="3" height="13" fill="#ff1010"/>
<rect x="666" y="90" width="1" height="41" fill="#ff1010"/>
<rect x="665" y="100" width="3" height="14" fill="#ff1010"/>
<rect x="669" y="98" width="1" height="9" fill="#00a000"/>
<rect x="669" y="114" width="1" height="15" fill="#00a000"/>
<rect x="668" y="107" width="3" height="7" fill="#00a000"/>
<rect x="669" y="108" width="1" height="5" fill="#000"/>
<rect x="672" y="94" width="1" height="4" fill="#00a000"/>
<rect x="672" y="107" width="1" height="1" fill="#00a000"/>
<rect x="671" y="98" width="3" height="9" fill="#00a000"/>
<rect x="672" y="99" width="1" height="7" fill="#000"/>
<rect x="675" y="95" width="1" height="17" fill="#ff1010"/>
<rect x="674" y="98" width="3" height="9" fill="#ff1010"/>
<rect x="678" y="83" width="1" height="14" fill="#00a000"/>
<rect x="678" y="107" width="1" height="4" fill="#00a000"/>
<rect x="677" y="97" width="3" height="10" fill="#00a000"/>
<rect x="678" y="98" width="1" height="8" fill="#000"/>
<rect x="682" y="95" width="1" height="27" fill="#ff1010"/>
<rect x="681" y="97" width="3" height="12" fill="#ff1010"/>
<rect x="685" y="103" width="1" height="20" fill="#ff1010"/>
<rect x="684" y="109" width="3" height="9" fill="#ff1010"/>
<rect x="688" y="95" width="1" height="13" fill="#00a000"/>
<rect x="688" y="118" width="1" height="5" fill="#00a000"/>
<rect x="687" y="108" width="3" height="10" fill="#00a000"/>
<rect x="688" y="109" width="1" height="8" fill="#000"/>
<rect x="691" y="101" width="1" height="28" fill="#ff1010"/>
<rect x="690" y="108" width="3" height="11" fill="#ff1010"/>
<rect x="694" y="114" width="1" height="1" fill="#00a000"/>
<rect x="694" y="119" width="1" height="1" fill="#00a000"/>
<rect x="693" y="115" width="3" height="4" fill="#00a000"/>
<rect x="694" y="116" width="1" height="2" fill="#000"/>
<rect x="697" y="108" width="1" height="7" fill="#00a000"/>
<rect x="697" y="116" width="1" height="5" fill="#00a000"/>
<rect x="696" y="115" width="3" height="1" fill="#00a000"/>
<rect x="700" y="87" width="1" height="16" fill="#00a000"/>
<rect x="700" y="115" width="1" height="2" fill="#00a000"/>
<rect x="699" y="103" width="3" height="12" fill="#00a000"/>
<rect x="700" y="104" width="1" height="10" fill="#000"/>
<rect x="703" y="78" width="1" height="6" fill="#00a000"/>
<rect x="703" y="103" width="1" height="4" fill="#00a000"/>
<rect x="702" y="84" width="3" height="19" fill="#00a000"/>
<rect x="703" y="85" width="1" height="17" fill="#000"/>
<rect x="706" y="70" width="1" height="7" fill="#00a000"/>
<rect x="706" y="84" width="1" height="3" fill="#00a000"/>
<rect x="705" y="77" width="3" height="7" fill="#00a000"/>
<rect x="706" y="78" width="1" height="5" fill="#000"/>
<rect x="709" y="72" width="1" height="18" fill="#ff1010"/>
<rect x="708" y="77" width="3" height="5" fill="#ff1010"/>
<rect x="712" y="68" width="1" height="40" fill="#ff1010"/>
<rect x="711" y="81" width="3" height="16" fill="#ff1010"/>
<rect x="715" y="95" width="1" height="5" fill="#ff1010"/>
<rect x="714" y="97" width="3" height="1" fill="#ff1010"/>
<rect x="718" y="92" width="1" height="3" fill="#00a000"/>
<rect x="718" y="98" width="1" height="3" fill="#00a000"/>
<rect x="717" y="95" width="3" height="3" fill="#00a000"/>
<rect x="718" y="96" width="1" height="1" fill="#000"/>
<rect x="721" y="88" width="1" height="12" fill="#ff1010"/>
<rect x="720" y="95" width="3" height="1" fill="#ff1010"/>
<rect x="724" y="95" width="1" height="40" fill="#ff1010"/>
<rect x="723" y="95" width="3" height="26" fill="#ff1010"/>
<rect x="727" y="90" width="1" height="21" fill="#00a000"/>
<rect x="727" y="121" width="1" height="5" fill="#00a000"/>
<rect x="726" y="111" width="3" height="10" fill="#00a000"/>
<rect x="727" y="112" width="1" height="8" fill="#000"/>
<rect x="731" y="107" width="1" height="26" fill="#ff1010"/>
<rect x="730" y="111" width="3" height="16" fill="#ff1010"/>
<rect x="734" y="120" width="1" height="26" fill="#ff1010"/>
<rect x="733" y="126" width="3" height="10" fill="#ff1010"/>
<rect x="737" y="131" width="1" height="2" fill="#00a000"/>
<rect x="737" y="136" width="1" height="1" fill="#00a000"/>
<rect x="736" y="133" width="3" height="3" fill="#00a000"/>
<rect x="737" y="134" width="1" height="1" fill="#000"/>
<rect x="740" y="124" width="1" height="5" fill="#00a000"/>
<rect x="740" y="133" width="1" height="2" fill="#00a000"/>
<rect x="739" y="129" width="3" height="4" fill="#00a000"/>
<rect x="740" y="130" width="1" height="2" fill="#000"/>
<rect x="743" y="120" width="1" height="25" fill="#ff1010"/>
<rect x="742" y="129" width="3" height="1" fill="#ff1010"/>
<rect x="746" y="128" width="1" height="29" fill="#ff1010"/>
<rect x="745" y="129" width="3" height="16" fill="#ff1010"/>
<rect x="749" y="138" width="1" height="12" fill="#ff1010"/>
<rect x="748" y="144" width="3" height="3" fill="#ff1010"/>
<rect x="752" y="129" width="1" height="23" fill="#ff1010"/>
<rect x="751" y="146" width="3" height="2" fill="#ff1010"/>
<rect x="755" y="146" width="1" height="19" fill="#ff1010"/>
<rect x="754" y="147" width="3" height="10" fill="#ff1010"/>
<rect x="758" y="151" width="1" height="4" fill="#00a000"/>
<rect x="758" y="157" width="1" height="2" fill="#00a000"/>
<rect x="757" y="155" width="3" height="2" fill="#00a000"/>
<rect x="761" y="151" width="1" height="16" fill="#ff1010"/>
<rect x="760" y="155" width="3" height="12" fill="#ff1010"/>
<rect x="764" y="164" width="1" height="56" fill="#ff1010"/>
<rect x="763" y="166" width="3" height="34" fill="#ff1010"/>
<rect x="767" y="175" width="1" height="7" fill="#00a000"/>
<rect x="766" y="182" width="3" height="18" fill="#00a000"/>
<rect x="767" y="183" width="1" height="16" fill="#000"/>
<rect x="770" y="175" width="1" height="20" fill="#ff1010"/>
<rect x="769" y="182" width="3" height="10" fill="#ff1010"/>
<rect x="773" y="175" width="1" height="8" fill="#00a000"/>
<rect x="773" y="192" width="1" height="3" fill="#00a000"/>
<rect x="772" y="183" width="3" height="9" fill="#00a000"/>
<rect x="773" y="184" width="1" height="7" fill="#000"/>
<rect x="776" y="177" width="1" height="26" fill="#ff1010"/>
<rect x="775" y="183" width="3" height="16" fill="#ff1010"/>
<rect x="780" y="189" width="1" height="3" fill="#00a000"/>
<rect x="780" y="198" width="1" height="1" fill="#00a000"/>
<rect x="779" y="192" width="3" height="6" fill="#00a000"/>
<rect x="780" y="193" width="1" height="4" fill="#000"/>
<rect x="783" y="169" width="1" height="3" fill="#00a000"/>
<rect x="783" y="192" width="1" height="3" fill="#00a000"/>
<rect x="782" y="172" width="3" height="20" fill="#00a000"/>
<rect x="783" y="173" width="1" height="18" fill="#000"/>
<rect x="786" y="158" width="1" height="12" fill="#00a000"/>
<rect x="786" y="172" width="1" height="3" fill="#00a000"/>
<rect x="785" y="170" width="3" height="2" fill="#00a000"/>
<rect x="789" y="167" width="1" height="19" fill="#ff1010"/>
<rect x="788" y="170" width="3" height="10" fill="#ff1010"/>
<rect x="792" y="177" width="1" height="32" fill="#ff1010"/>
<rect x="791" y="179" width="3" height="21" fill="#ff1010"/>
<rect x="795" y="197" width="1" height="42" fill="#ff1010"/>
<rect x="794" y="200" width="3" height="35" fill="#ff1010"/>
<rect x="798" y="230" width="1" height="45" fill="#ff1010"/>
<rect x="797" y="235" width="3" height="5" fill="#ff1010"/>
<rect x="801" y="218" width="1" height="3" fill="#00a000"/>
<rect x="801" y="240" width="1" height="7" fill="#00a000"/>
<rect x="800" y="221" width="3" height="19" fill="#00a000"/>
<rect x="801" y="222" width="1" height="17" fill="#000"/>
<rect x="804" y="219" width="1" height="31" fill="#ff1010"/>
<rect x="803" y="221" width="3" height="28" fill="#ff1010"/>
<rect x="807" y="223" width="1" height="15" fill="#00a000"/>
<rect x="807" y="249" width="1" height="16" fill="#00a000"/>
<rect x="806" y="238" width="3" height="11" fill="#00a000"/>
<rect x="807" y="239" width="1" height="9" fill="#000"/>
<rect x="810" y="221" width="1" height="2" fill="#00a000"/>
<rect x="810" y="238" width="1" height="6" fill="#00a000"/>
<rect x="809" y="223" width="3" height="15" fill="#00a000"/>
<rect x="810" y="224" width="1" height="13" fill="#000"/>
<rect x="813" y="208" width="1" height="26" fill="#ff1010"/>
<rect x="812" y="223" width="3" height="5" fill="#ff1010"/>
<rect x="816" y="207" width="1" height="28" fill="#ff1010"/>
<rect x="815" y="227" width="3" height="5" fill="#ff1010"/>
<rect x="819" y="218" width="1" height="8" fill="#00a000"/>
<rect x="819" y="232" width="1" height="9" fill="#00a000"/>
<rect x="818" y="226" width="3" height="6" fill="#00a000"/>
<rect x="819" y="227" width="1" height="4" fill="#000"/>
<rect x="822" y="203" width="1" height="7" fill="#00a000"/>
<rect x="822" y="226" width="1" height="1" fill="#00a000"/>
<rect x="821" y="210" width="3" height="16" fill="#00a000"/>
<rect x="822" y="211" width="1" height="14" fill="#000"/>
<rect x="825" y="186" width="1" height="7" fill="#00a000"/>
<rect x="824" y="193" width="3" height="17" fill="#00a000"/>
<rect x="825" y="194" width="1" height="15" fill="#000"/>
<rect x="829" y="147" width="1" height="1" fill="#00a000"/>
<rect x="829" y="193" width="1" height="2" fill="#00a000"/>
<rect x="828" y="148" width="3" height="45" fill="#00a000"/>
<rect x="829" y="149" width="1" height="43" fill="#000"/>
<rect x="832" y="141" width="1" height="4" fill="#00a000"/>
<rect x="832" y="149" width="1" height="26" fill="#00a000"/>
<rect x="831" y="145" width="3" height="4" fill="#00a000"/>
<rect x="832" y="146" width="1" height="2" fill="#000"/>
<rect x="835" y="133" width="1" height="26" fill="#ff1010"/>
<rect x="834" y="145" width="3" height="12" fill="#ff1010"/>
<rect x="838" y="144" width="1" height="22" fill="#ff1010"/>
<rect x="837" y="156" width="3" height="2" fill="#ff1010"/>
<rect x="841" y="118" width="1" height="9" fill="#00a000"/>
<rect x="841" y="158" width="1" height="8" fill="#00a000"/>
<rect x="840" y="127" width="3" height="31" fill="#00a000"/>
<rect x="841" y="128" width="1" height="29" fill="#000"/>
<rect x="844" y="116" width="1" height="6" fill="#00a000"/>
<rect x="844" y="127" width="1" height="5" fill="#00a000"/>
<rect x="843" y="122" width="3" height="5" fill="#00a000"/>
<rect x="844" y="123" width="1" height="3" fill="#000"/>
<rect x="847" y="108" width="1" height="2" fill="#00a000"/>
<rect x="847" y="122" width="1" height="15" fill="#00a000"/>
<rect x="846" y="110" width="3" height="12" fill="#00a000"/>
<rect x="847" y="111" width="1" height="10" fill="#000"/>
<rect x="850" y="107" width="1" height="22" fill="#ff1010"/>
<rect x="849" y="110" width="3" height="8" fill="#ff1010"/>
<rect x="853" y="116" width="1" height="26" fill="#ff1010"/>
<rect x="852" y="117" width="3" height="19" fill="#ff1010"/>
<rect x="856" y="122" width="1" height="23" fill="#ff1010"/>
<rect x="855" y="135" width="3" height="8" fill="#ff1010"/>
<rect x="859" y="133" width="1" height="5" fill="#00a000"/>
<rect x="859" y="143" width="1" height="21" fill="#00a000"/>
<rect x="858" y="138" width="3" height="5" fill="#00a000"/>
<rect x="859" y="139" width="1" height="3" fill="#000"/>
<rect x="862" y="110" width="1" height="3" fill="#00a000"/>
<rect x="862" y="138" width="1" height="1" fill="#00a000"/>
<rect x="861" y="113" width="3" height="25" fill="#00a000"/>
<rect x="862" y="114" width="1" height="23" fill="#000"/>
<rect x="865" y="96" width="1" height="32" fill="#ff1010"/>
<rect x="864" y="113" width="3" height="1" fill="#ff1010"/>
<rect x="868" y="109" width="1" height="1" fill="#00a000"/>
<rect x="868" y="113" width="1" height="11" fill="#00a000"/>
<rect x="867" y="110" width="3" height="3" fill="#00a000"/>
<rect x="868" y="111" width="1" height="1" fill="#000"/>
<rect x="871" y="90" width="1" height="41" fill="#ff1010"/>
<rect x="870" y="109" width="3" height="18" fill="#ff1010"/>
<rect x="874" y="124" width="1" height="19" fill="#ff1010"/>
<rect x="873" y="126" width="3" height="8" fill="#ff1010"/>
<rect x="878" y="125" width="1" height="27" fill="#ff1010"/>
<rect x="877" y="133" width="3" height="18" fill="#ff1010"/>
<rect x="881" y="139" width="1" height="3" fill="#00a000"/>
<rect x="881" y="151" width="1" height="27" fill="#00a000"/>
<rect x="880" y="142" width="3" height="9" fill="#00a000"/>
<rect x="881" y="143" width="1" height="7" fill="#000"/>
<rect x="884" y="140" width="1" height="50" fill="#ff1010"/>
<rect x="883" y="142" width="3" height="45" fill="#ff1010"/>
<rect x="887" y="178" width="1" height="25" fill="#ff1010"/>
<rect x="886" y="186" width="3" height="9" fill="#ff1010"/>
<rect x="890" y="190" width="1" height="44" fill="#ff1010"/>
<rect x="889" y="194" width="3" height="29" fill="#ff1010"/>
<rect x="893" y="221" width="1" height="102" fill="#ff1010"/>
<rect x="892" y="222" width="3" height="47" fill="#ff1010"/>
<rect x="896" y="234" width="1" height="12" fill="#00a000"/>
<rect x="896" y="269" width="1" height="1" fill="#00a000"/>
<rect x="895" y="246" width="3" height="23" fill="#00a000"/>
<rect x="896" y="247" width="1" height="21" fill="#000"/>
<rect x="899" y="227" width="1" height="36" fill="#ff1010"/>
<rect x="898" y="246" width="3" height="11" fill="#ff1010"/>
<rect x="902" y="171" width="1" height="12" fill="#00a000"/>
<rect x="902" y="257" width="1" height="4" fill="#00a000"/>
<rect x="901" y="183" width="3" height="74" fill="#00a000"/>
<rect x="902" y="184" width="1" height="72" fill="#000"/>
<rect x="905" y="182" width="1" height="25" fill="#ff1010"/>
<rect x="904" y="182" width="3" height="10" fill="#ff1010"/>
<rect x="908" y="185" width="1" height="7" fill="#00a000"/>
<rect x="908" y="193" width="1" height="7" fill="#00a000"/>
<rect x="907" y="192" width="3" height="1" fill="#00a000"/>
<rect x="911" y="181" width="1" height="40" fill="#ff1010"/>
<rect x="910" y="192" width="3" height="25" fill="#ff1010"/>
<rect x="914" y="194" width="1" height="15" fill="#00a000"/>
<rect x="914" y="217" width="1" height="11" fill="#00a000"/>
<rect x="913" y="209" width="3" height="8" fill="#00a000"/>
<rect x="914" y="210" width="1" height="6" fill="#000"/>
<rect x="917" y="184" width="1" height="11" fill="#00a000"/>
<rect x="917" y="210" width="1" height="10" fill="#00a000"/>
<rect x="916" y="195" width="3" height="15" fill="#00a000"/>
<rect x="917" y="196" width="1" height="13" fill="#000"/>
<rect x="920" y="182" width="1" height="38" fill="#ff1010"/>
<rect x="919" y="195" width="3" height="22" fill="#ff1010"/>
<rect x="923" y="203" width="1" height="43" fill="#ff1010"/>
<rect x="922" y="216" width="3" height="14" fill="#ff1010"/>
<rect x="927" y="203" width="1" height="11" fill="#00a000"/>
<rect x="927" y="230" width="1" height="5" fill="#00a000"/>
<rect x="926" y="214" width="3" height="16" fill="#00a000"/>
<rect x="927" y="215" width="1" height="14" fill="#000"/>
<rect x="930" y="205" width="1" height="2" fill="#00a000"/>
<rect x="929" y="207" width="3" height="8" fill="#00a000"/>
<rect x="930" y="208" width="1" height="6" fill="#000"/>
<rect x="933" y="198" width="1" height="22" fill="#ff1010"/>
<rect x="932" y="207" width="3" height="13" fill="#ff1010"/>
<rect x="936" y="206" width="1" height="2" fill="#00a000"/>
<rect x="936" y="220" width="1" height="7" fill="#00a000"/>
<rect x="935" y="208" width="3" height="12" fill="#00a000"/>
<rect x="936" y="209" width="1" height="10" fill="#000"/>
<rect x="939" y="185" width="1" height="32" fill="#ff1010"/>
<rect x="938" y="208" width="3" height="5" fill="#ff1010"/>
<rect x="942" y="181" width="1" height="7" fill="#00a000"/>
<rect x="942" y="213" width="1" height="3" fill="#00a000"/>
<rect x="941" y="188" width="3" height="25" fill="#00a000"/>
<rect x="942" y="189" width="1" height="23" fill="#000"/>
<rect x="945" y="186" width="1" height="19" fill="#ff1010"/>
<rect x="944" y="188" width="3" height="10" fill="#ff1010"/>
<rect x="948" y="146" width="1" height="10" fill="#00a000"/>
<rect x="948" y="198" width="1" height="1" fill="#00a000"/>
<rect x="947" y="156" width="3" height="42" fill="#00a000"/>
<rect x="948" y="157" width="1" height="40" fill="#000"/>
<rect x="951" y="151" width="1" height="4" fill="#00a000"/>
<rect x="951" y="156" width="1" height="5" fill="#00a000"/>
<rect x="950" y="155" width="3" height="1" fill="#00a000"/>
<rect x="954" y="145" width="1" height="9" fill="#00a000"/>
<rect x="954" y="155" width="1" height="5" fill="#00a000"/>
<rect x="953" y="154" width="3" height="1" fill="#00a000"/>
<rect x="957" y="151" width="1" height="20" fill="#ff1010"/>
<rect x="956" y="154" width="3" height="17" fill="#ff1010"/>
<rect x="960" y="166" width="1" height="58" fill="#ff1010"/>
<rect x="959" y="170" width="3" height="39" fill="#ff1010"/>
<rect x="963" y="199" width="1" height="27" fill="#ff1010"/>
<rect x="962" y="208" width="3" height="4" fill="#ff1010"/>
<rect x="966" y="188" width="1" height="22" fill="#00a000"/>
<rect x="966" y="212" width="1" height="5" fill="#00a000"/>
<rect x="965" y="210" width="3" height="2" fill="#00a000"/>
<rect x="969" y="202" width="1" height="26" fill="#ff1010"/>
<rect x="968" y="209" width="3" height="2" fill="#ff1010"/>
<rect x="972" y="208" width="1" height="7" fill="#ff1010"/>
<rect x="971" y="211" width="3" height="2" fill="#ff1010"/>
<rect x="976" y="212" width="1" height="22" fill="#ff1010"/>
<rect x="975" y="213" width="3" height="20" fill="#ff1010"/>
<rect x="979" y="208" width="1" height="3" fill="#00a000"/>
<rect x="979" y="233" width="1" height="2" fill="#00a000"/>
<rect x="978" y="211" width="3" height="22" fill="#00a000"/>
<rect x="979" y="212" width="1" height="20" fill="#000"/>
<rect x="982" y="204" width="1" height="26" fill="#ff1010"/>
<rect x="981" y="211" width="3" height="19" fill="#ff1010"/>
<rect x="985" y="218" width="1" height="6" fill="#00a000"/>
<rect x="985" y="230" width="1" height="21" fill="#00a000"/>
<rect x="984" y="224" width="3" height="6" fill="#00a000"/>
<rect x="985" y="225" width="1" height="4" fill="#000"/>
<rect x="988" y="220" width="1" height="31" fill="#ff1010"/>
<rect x="987" y="224" width="3" height="21" fill="#ff1010"/>
<rect x="991" y="235" width="1" height="51" fill="#ff1010"/>
<rect x="990" y="244" width="3" height="26" fill="#ff1010"/>
<rect x="994" y="259" width="1" height="8" fill="#00a000"/>
<rect x="994" y="270" width="1" height="2" fill="#00a000"/>
<rect x="993" y="267" width="3" height="3" fill="#00a000"/>
<rect x="994" y="268" width="1" height="1" fill="#000"/>
<rect x="997" y="254" width="1" height="5" fill="#00a000"/>
<rect x="997" y="267" width="1" height="7" fill="#00a000"/>
<rect x="996" y="259" width="3" height="8" fill="#00a000"/>
<rect x="997" y="260" width="1" height="6" fill="#000"/>
<rect x="1000" y="224" width="1" height="10" fill="#00a000"/>
<rect x="1000" y="259" width="1" height="4" fill="#00a000"/>
<rect x="999" y="234" width="3" height="25" fill="#00a000"/>
<rect x="1000" y="235" width="1" height="23" fill="#000"/>
<rect x="1003" y="223" width="1" height="5" fill="#00a000"/>
<rect x="1003" y="234" width="1" height="9" fill="#00a000"/>
<rect x="1002" y="228" width="3" height="6" fill="#00a000"/>
<rect x="1003" y="229" width="1" height="4" fill="#000"/>
<rect x="1006" y="224" width="1" height="28" fill="#ff1010"/>
<rect x="1005" y="228" width="3" height="4" fill="#ff1010"/>
<rect x="1009" y="217" width="1" height="5" fill="#00a000"/>
<rect x="1008" y="222" width="3" height="10" fill="#00a000"/>
<rect x="1009" y="223" width="1" height="8" fill="#000"/>
<rect x="1012" y="194" width="1" height="1" fill="#00a000"/>
<rect x="1012" y="222" width="1" height="7" fill="#00a000"/>
<rect x="1011" y="195" width="3" height="27" fill="#00a000"/>
<rect x="1012" y="196" width="1" height="25" fill="#000"/>
<rect x="1015" y="194" width="1" height="15" fill="#ff1010"/>
<rect x="1014" y="195" width="3" height="6" fill="#ff1010"/>
<rect x="1018" y="197" width="1" height="20" fill="#ff1010"/>
<rect x="1017" y="201" width="3" height="10" fill="#ff1010"/>
<rect x="1021" y="210" width="1" height="21" fill="#ff1010"/>
<rect x="1020" y="211" width="3" height="12" fill="#ff1010"/>
<rect x="1025" y="186" width="1" height="12" fill="#00a000"/>
<rect x="1025" y="223" width="1" height="6" fill="#00a000"/>
<rect x="1024" y="198" width="3" height="25" fill="#00a000"/>
<rect x="1025" y="199" width="1" height="23" fill="#000"/>
<rect x="1028" y="182" width="1" height="1" fill="#00a000"/>
<rect x="1028" y="198" width="1" height="14" fill="#00a000"/>
<rect x="1027" y="183" width="3" height="15" fill="#00a000"/>
<rect x="1028" y="184" width="1" height="13" fill="#000"/>
<rect x="1031" y="158" width="1" height="10" fill="#00a000"/>
<rect x="1031" y="183" width="1" height="2" fill="#00a000"/>
<rect x="1030" y="168" width="3" height="15" fill="#00a000"/>
<rect x="1031" y="169" width="1" height="13" fill="#000"/>
<rect x="1034" y="155" width="1" height="12" fill="#00a000"/>
<rect x="1034" y="168" width="1" height="7" fill="#00a000"/>
<rect x="1033" y="167" width="3" height="1" fill="#00a000"/>
<rect x="1037" y="162" width="1" height="2" fill="#00a000"/>
<rect x="1037" y="167" width="1" height="4" fill="#00a000"/>
<rect x="1036" y="164" width="3" height="3" fill="#00a000"/>
<rect x="1037" y="165" width="1" height="1" fill="#000"/>
<rect x="1040" y="157" width="1" height="6" fill="#00a000"/>
<rect x="1040" y="164" width="1" height="12" fill="#00a000"/>
<rect x="1039" y="163" width="3" height="1" fill="#00a000"/>
<rect x="1043" y="149" width="1" height="25" fill="#ff1010"/>
<rect x="1042" y="163" width="3" height="1" fill="#ff1010"/>
<rect x="1046" y="149" width="1" height="6" fill="#00a000"/>
<rect x="1046" y="164" width="1" height="8" fill="#00a000"/>
<rect x="1045" y="155" width="3" height="9" fill="#00a000"/>
<rect x="1046" y="156" width="1" height="7" fill="#000"/>
<rect x="1049" y="148" width="1" height="22" fill="#ff1010"/>
<rect x="1048" y="155" width="3" height="12" fill="#ff1010"/>
<rect x="1052" y="136" width="1" height="9" fill="#00a000"/>
<rect x="1052" y="167" width="1" height="6" fill="#00a000"/>
<rect x="1051" y="145" width="3" height="22" fill="#00a000"/>
<rect x="1052" y="146" width="1" height="20" fill="#000"/>
<rect x="1055" y="127" width="1" height="10" fill="#00a000"/>
<rect x="1055" y="145" width="1" height="4" fill="#00a000"/>
<rect x="1054" y="137" width="3" height="8" fill="#00a000"/>
<rect x="1055" y="138" width="1" height="6" fill="#000"/>
<rect x="1058" y="132" width="1" height="5" fill="#00a000"/>
<rect x="1058" y="138" width="1" height="3" fill="#00a000"/>
<rect x="1057" y="137" width="3" height="1" fill="#00a000"/>
<rect x="1061" y="134" width="1" height="8" fill="#ff1010"/>
<rect x="1060" y="136" width="3" height="4" fill="#ff1010"/>
<rect x="1064" y="139" width="1" height="32" fill="#ff1010"/>
<rect x="1063" y="139" width="3" height="26" fill="#ff1010"/>
<rect x="1067" y="156" width="1" height="45" fill="#ff1010"/>
<rect x="1066" y="165" width="3" height="28" fill="#ff1010"/>
<rect x="1070" y="175" width="1" height="28" fill="#ff1010"/>
<rect x="1069" y="193" width="3" height="1" fill="#ff1010"/>
<rect x="1073" y="185" width="1" height="8" fill="#00a000"/>
<rect x="1073" y="194" width="1" height="10" fill="#00a000"/>
<rect x="1072" y="193" width="3" height="1" fill="#00a000"/>
<rect x="1077" y="174" width="1" height="4" fill="#00a000"/>
<rect x="1077" y="193" width="1" height="4" fill="#00a000"/>
<rect x="1076" y="178" width="3" height="15" fill="#00a000"/>
<rect x="1077" y="179" width="1" height="13" fill="#000"/>
<rect x="1080" y="175" width="1" height="9" fill="#ff1010"/>
<rect x="1079" y="178" width="3" height="2" fill="#ff1010"/>
<rect x="1083" y="168" width="1" height="3" fill="#00a000"/>
<rect x="1083" y="179" width="1" height="3" fill="#00a000"/>
<rect x="1082" y="171" width="3" height="8" fill="#00a000"/>
<rect x="1083" y="172" width="1" height="6" fill="#000"/>
<rect x="1086" y="152" width="1" height="27" fill="#ff1010"/>
<rect x="1085" y="170" width="3" height="8" fill="#ff1010"/>
<rect x="1089" y="166" width="1" height="16" fill="#ff1010"/>
<rect x="1088" y="177" width="3" height="2" fill="#ff1010"/>
<rect x="1092" y="173" width="1" height="27" fill="#ff1010"/>
<rect x="1091" y="178" width="3" height="15" fill="#ff1010"/>
<rect x="1095" y="188" width="1" height="27" fill="#ff1010"/>
<rect x="1094" y="193" width="3" height="6" fill="#ff1010"/>
<rect x="1098" y="163" width="1" height="11" fill="#00a000"/>
<rect x="1098" y="199" width="1" height="3" fill="#00a000"/>
<rect x="1097" y="174" width="3" height="25" fill="#00a000"/>
<rect x="1098" y="175" width="1" height="23" fill="#000"/>
<rect x="1101" y="163" width="1" height="4" fill="#00a000"/>
<rect x="1101" y="174" width="1" height="1" fill="#00a000"/>
<rect x="1100" y="167" width="3" height="7" fill="#00a000"/>
<rect x="1101" y="168" width="1" height="5" fill="#000"/>
<rect x="1104" y="165" width="1" height="15" fill="#ff1010"/>
<rect x="1103" y="167" width="3" height="4" fill="#ff1010"/>
<rect x="1107" y="129" width="1" height="6" fill="#00a000"/>
<rect x="1107" y="171" width="1" height="4" fill="#00a000"/>
<rect x="1106" y="135" width="3" height="36" fill="#00a000"/>
<rect x="1107" y="136" width="1" height="34" fill="#000"/>
<rect x="1110" y="113" width="1" height="11" fill="#00a000"/>
<rect x="1110" y="134" width="1" height="14" fill="#00a000"/>
<rect x="1109" y="124" width="3" height="10" fill="#00a000"/>
<rect x="1110" y="125" width="1" height="8" fill="#000"/>
<rect x="1113" y="108" width="1" height="9" fill="#00a000"/>
<rect x="1113" y="124" width="1" height="2" fill="#00a000"/>
<rect x="1112" y="117" width="3" height="7" fill="#00a000"/>
<rect x="1113" y="118" width="1" height="5" fill="#000"/>
<rect x="1116" y="113" width="1" height="15" fill="#ff1010"/>
<rect x="1115" y="117" width="3" height="3" fill="#ff1010"/>
<rect x="1119" y="101" width="1" height="7" fill="#00a000"/>
<rect x="1119" y="119" width="1" height="3" fill="#00a000"/>
<rect x="1118" y="108" width="3" height="11" fill="#00a000"/>
<rect x="1119" y="109" width="1" height="9" fill="#000"/>
<rect x="1122" y="105" width="1" height="7" fill="#ff1010"/>
<rect x="1121" y="108" width="3" height="1" fill="#ff1010"/>
<rect x="1126" y="97" width="1" height="5" fill="#00a000"/>
<rect x="1126" y="108" width="1" height="4" fill="#00a000"/>
<rect x="1125" y="102" width="3" height="6" fill="#00a000"/>
<rect x="1126" y="103" width="1" height="4" fill="#000"/>
<rect x="1129" y="96" width="1" height="30" fill="#ff1010"/>
<rect x="1128" y="101" width="3" height="19" fill="#ff1010"/>
<rect x="1132" y="114" width="1" height="5" fill="#00a000"/>
<rect x="1132" y="120" width="1" height="10" fill="#00a000"/>
<rect x="1131" y="119" width="3" height="1" fill="#00a000"/>
<rect x="1135" y="119" width="1" height="15" fill="#ff1010"/>
<rect x="1134" y="120" width="3" height="10" fill="#ff1010"/>
</g>
<rect x="1133.5" y="118.5" width="4" height="16" fill="#6c6c00" stroke="#b0b000" stroke-width="1" shape-rendering="crispEdges"/>
<rect x="1135" y="119" width="1" height="15" fill="#ff1010" shape-rendering="crispEdges"/>
<rect x="1134" y="120" width="3" height="10" fill="#ff1010" shape-rendering="crispEdges"/>
<rect x="70.5" y="431.5" width="27" height="10" fill="#222" stroke="#707070" stroke-width="1" shape-rendering="crispEdges"/>
<path d="M79.5 441.5 L84.5 447.0 L89.5 441.5" fill="#2c2c2c" stroke="#707070" stroke-width="1"/>
<text x="84.0" y="440.3" font-size="9.5" fill="#ddddaa" text-anchor="middle" textLength="23.5" lengthAdjust="spacingAndGlyphs">38.0K</text>
<rect x="141.5" y="356.5" width="27" height="10" fill="#222" stroke="#707070" stroke-width="1" shape-rendering="crispEdges"/>
<path d="M150.5 366.5 L155.5 372.0 L160.5 366.5" fill="#2c2c2c" stroke="#707070" stroke-width="1"/>
<text x="155.0" y="365.3" font-size="9.5" fill="#ddddaa" text-anchor="middle" textLength="23.5" lengthAdjust="spacingAndGlyphs">44.7K</text>
<rect x="184.5" y="359.5" width="27" height="10" fill="#222" stroke="#707070" stroke-width="1" shape-rendering="crispEdges"/>
<path d="M193.5 369.5 L198.5 375.0 L203.5 369.5" fill="#2c2c2c" stroke="#707070" stroke-width="1"/>
<text x="198.0" y="368.3" font-size="9.5" fill="#ddddaa" text-anchor="middle" textLength="23.5" lengthAdjust="spacingAndGlyphs">44.4K</text>
<rect x="217.5" y="343.5" width="27" height="10" fill="#222" stroke="#707070" stroke-width="1" shape-rendering="crispEdges"/>
<path d="M226.5 353.5 L231.5 359.0 L236.5 353.5" fill="#2c2c2c" stroke="#707070" stroke-width="1"/>
<text x="231.0" y="352.3" font-size="9.5" fill="#ddddaa" text-anchor="middle" textLength="23.5" lengthAdjust="spacingAndGlyphs">45.9K</text>
<rect x="245.5" y="307.5" width="27" height="10" fill="#222" stroke="#707070" stroke-width="1" shape-rendering="crispEdges"/>
<path d="M254.5 317.5 L259.5 323.0 L264.5 317.5" fill="#2c2c2c" stroke="#707070" stroke-width="1"/>
<text x="259.0" y="316.3" font-size="9.5" fill="#ddddaa" text-anchor="middle" textLength="23.5" lengthAdjust="spacingAndGlyphs">49.1K</text>
<rect x="438.5" y="30.5" width="27" height="10" fill="#222" stroke="#707070" stroke-width="1" shape-rendering="crispEdges"/>
<path d="M447.5 40.5 L452.5 46.0 L457.5 40.5" fill="#2c2c2c" stroke="#707070" stroke-width="1"/>
<text x="452.0" y="39.3" font-size="9.5" fill="#ddddaa" text-anchor="middle" textLength="23.5" lengthAdjust="spacingAndGlyphs">73.8K</text>
<rect x="478.5" y="54.5" width="27" height="10" fill="#222" stroke="#707070" stroke-width="1" shape-rendering="crispEdges"/>
<path d="M487.5 64.5 L492.5 70.0 L497.5 64.5" fill="#2c2c2c" stroke="#707070" stroke-width="1"/>
<text x="492.0" y="63.3" font-size="9.5" fill="#ddddaa" text-anchor="middle" textLength="23.5" lengthAdjust="spacingAndGlyphs">71.8K</text>
<rect x="514.5" y="43.5" width="27" height="10" fill="#222" stroke="#707070" stroke-width="1" shape-rendering="crispEdges"/>
<path d="M523.5 53.5 L528.5 59.0 L533.5 53.5" fill="#2c2c2c" stroke="#707070" stroke-width="1"/>
<text x="528.0" y="52.3" font-size="9.5" fill="#ddddaa" text-anchor="middle" textLength="23.5" lengthAdjust="spacingAndGlyphs">72.8K</text>
<rect x="557.5" y="105.5" width="27" height="10" fill="#222" stroke="#707070" stroke-width="1" shape-rendering="crispEdges"/>
<path d="M566.5 115.5 L571.5 121.0 L576.5 115.5" fill="#2c2c2c" stroke="#707070" stroke-width="1"/>
<text x="571.0" y="114.3" font-size="9.5" fill="#ddddaa" text-anchor="middle" textLength="23.5" lengthAdjust="spacingAndGlyphs">67.3K</text>
<rect x="600.5" y="124.5" width="27" height="10" fill="#222" stroke="#707070" stroke-width="1" shape-rendering="crispEdges"/>
<path d="M609.5 134.5 L614.5 140.0 L619.5 134.5" fill="#2c2c2c" stroke="#707070" stroke-width="1"/>
<text x="614.0" y="133.3" font-size="9.5" fill="#ddddaa" text-anchor="middle" textLength="23.5" lengthAdjust="spacingAndGlyphs">65.5K</text>
<rect x="646.5" y="52.5" width="27" height="10" fill="#222" stroke="#707070" stroke-width="1" shape-rendering="crispEdges"/>
<path d="M655.5 62.5 L660.5 68.0 L665.5 62.5" fill="#2c2c2c" stroke="#707070" stroke-width="1"/>
<text x="660.0" y="61.3" font-size="9.5" fill="#ddddaa" text-anchor="middle" textLength="23.5" lengthAdjust="spacingAndGlyphs">72.0K</text>
<rect x="698.5" y="52.5" width="27" height="10" fill="#222" stroke="#707070" stroke-width="1" shape-rendering="crispEdges"/>
<path d="M707.5 62.5 L712.5 68.0 L717.5 62.5" fill="#2c2c2c" stroke="#707070" stroke-width="1"/>
<text x="712.0" y="61.3" font-size="9.5" fill="#ddddaa" text-anchor="middle" textLength="23.5" lengthAdjust="spacingAndGlyphs">71.9K</text>
<rect x="772.5" y="142.5" width="27" height="10" fill="#222" stroke="#707070" stroke-width="1" shape-rendering="crispEdges"/>
<path d="M781.5 152.5 L786.5 158.0 L791.5 152.5" fill="#2c2c2c" stroke="#707070" stroke-width="1"/>
<text x="786.0" y="151.3" font-size="9.5" fill="#ddddaa" text-anchor="middle" textLength="23.5" lengthAdjust="spacingAndGlyphs">63.8K</text>
<rect x="836.5" y="91.5" width="27" height="10" fill="#222" stroke="#707070" stroke-width="1" shape-rendering="crispEdges"/>
<path d="M845.5 101.5 L850.5 107.0 L855.5 101.5" fill="#2c2c2c" stroke="#707070" stroke-width="1"/>
<text x="850.0" y="100.3" font-size="9.5" fill="#ddddaa" text-anchor="middle" textLength="23.5" lengthAdjust="spacingAndGlyphs">68.5K</text>
<rect x="857.5" y="74.5" width="27" height="10" fill="#222" stroke="#707070" stroke-width="1" shape-rendering="crispEdges"/>
<path d="M866.5 84.5 L871.5 90.0 L876.5 84.5" fill="#2c2c2c" stroke="#707070" stroke-width="1"/>
<text x="871.0" y="83.3" font-size="9.5" fill="#ddddaa" text-anchor="middle" textLength="23.5" lengthAdjust="spacingAndGlyphs">70.0K</text>
<rect x="888.5" y="155.5" width="27" height="10" fill="#222" stroke="#707070" stroke-width="1" shape-rendering="crispEdges"/>
<path d="M897.5 165.5 L902.5 171.0 L907.5 165.5" fill="#2c2c2c" stroke="#707070" stroke-width="1"/>
<text x="902.0" y="164.3" font-size="9.5" fill="#ddddaa" text-anchor="middle" textLength="23.5" lengthAdjust="spacingAndGlyphs">62.7K</text>
<rect x="906.5" y="166.5" width="27" height="10" fill="#222" stroke="#707070" stroke-width="1" shape-rendering="crispEdges"/>
<path d="M915.5 176.5 L920.5 182.0 L925.5 176.5" fill="#2c2c2c" stroke="#707070" stroke-width="1"/>
<text x="920.0" y="175.3" font-size="9.5" fill="#ddddaa" text-anchor="middle" textLength="23.5" lengthAdjust="spacingAndGlyphs">61.8K</text>
<rect x="940.5" y="129.5" width="27" height="10" fill="#222" stroke="#707070" stroke-width="1" shape-rendering="crispEdges"/>
<path d="M949.5 139.5 L954.5 145.0 L959.5 139.5" fill="#2c2c2c" stroke="#707070" stroke-width="1"/>
<text x="954.0" y="138.3" font-size="9.5" fill="#ddddaa" text-anchor="middle" textLength="23.5" lengthAdjust="spacingAndGlyphs">65.1K</text>
<rect x="1041.5" y="111.5" width="27" height="10" fill="#222" stroke="#707070" stroke-width="1" shape-rendering="crispEdges"/>
<path d="M1050.5 121.5 L1055.5 127.0 L1060.5 121.5" fill="#2c2c2c" stroke="#707070" stroke-width="1"/>
<text x="1055.0" y="120.3" font-size="9.5" fill="#ddddaa" text-anchor="middle" textLength="23.5" lengthAdjust="spacingAndGlyphs">66.5K</text>
<rect x="1072.5" y="136.5" width="27" height="10" fill="#222" stroke="#707070" stroke-width="1" shape-rendering="crispEdges"/>
<path d="M1081.5 146.5 L1086.5 152.0 L1091.5 146.5" fill="#2c2c2c" stroke="#707070" stroke-width="1"/>
<text x="1086.0" y="145.3" font-size="9.5" fill="#ddddaa" text-anchor="middle" textLength="23.5" lengthAdjust="spacingAndGlyphs">64.5K</text>
<rect x="1115.5" y="80.5" width="27" height="10" fill="#222" stroke="#707070" stroke-width="1" shape-rendering="crispEdges"/>
<path d="M1124.5 90.5 L1129.5 96.0 L1134.5 90.5" fill="#2c2c2c" stroke="#707070" stroke-width="1"/>
<text x="1129.0" y="89.3" font-size="9.5" fill="#ddddaa" text-anchor="middle" textLength="23.5" lengthAdjust="spacingAndGlyphs">69.5K</text>
<rect x="67.5" y="489.5" width="27" height="10" fill="#222" stroke="#707070" stroke-width="1" shape-rendering="crispEdges"/>
<path d="M76.5 489.5 L81.5 484.0 L86.5 489.5" fill="#2c2c2c" stroke="#707070" stroke-width="1"/>
<text x="81.0" y="498.3" font-size="9.5" fill="#ddddaa" text-anchor="middle" textLength="23.5" lengthAdjust="spacingAndGlyphs">34.8K</text>
<rect x="150.5" y="429.5" width="27" height="10" fill="#222" stroke="#707070" stroke-width="1" shape-rendering="crispEdges"/>
<path d="M159.5 429.5 L164.5 424.0 L169.5 429.5" fill="#2c2c2c" stroke="#707070" stroke-width="1"/>
<text x="164.0" y="438.3" font-size="9.5" fill="#ddddaa" text-anchor="middle" textLength="23.5" lengthAdjust="spacingAndGlyphs">40.2K</text>
<rect x="205.5" y="416.5" width="27" height="10" fill="#222" stroke="#707070" stroke-width="1" shape-rendering="crispEdges"/>
<path d="M214.5 416.5 L219.5 411.0 L224.5 416.5" fill="#2c2c2c" stroke="#707070" stroke-width="1"/>
<text x="219.0" y="425.3" font-size="9.5" fill="#ddddaa" text-anchor="middle" textLength="23.5" lengthAdjust="spacingAndGlyphs">41.3K</text>
<rect x="220.5" y="427.5" width="27" height="10" fill="#222" stroke="#707070" stroke-width="1" shape-rendering="crispEdges"/>
<path d="M229.5 427.5 L234.5 422.0 L239.5 427.5" fill="#2c2c2c" stroke="#707070" stroke-width="1"/>
<text x="234.0" y="436.3" font-size="9.5" fill="#ddddaa" text-anchor="middle" textLength="23.5" lengthAdjust="spacingAndGlyphs">40.2K</text>
<rect x="282.5" y="448.5" width="27" height="10" fill="#222" stroke="#707070" stroke-width="1" shape-rendering="crispEdges"/>
<path d="M291.5 448.5 L296.5 443.0 L301.5 448.5" fill="#2c2c2c" stroke="#707070" stroke-width="1"/>
<text x="296.0" y="457.3" font-size="9.5" fill="#ddddaa" text-anchor="middle" textLength="23.5" lengthAdjust="spacingAndGlyphs">38.5K</text>
<rect x="456.5" y="198.5" width="27" height="10" fill="#222" stroke="#707070" stroke-width="1" shape-rendering="crispEdges"/>
<path d="M465.5 198.5 L470.5 193.0 L475.5 198.5" fill="#2c2c2c" stroke="#707070" stroke-width="1"/>
<text x="470.0" y="207.3" font-size="9.5" fill="#ddddaa" text-anchor="middle" textLength="23.5" lengthAdjust="spacingAndGlyphs">60.8K</text>
<rect x="499.5" y="157.5" width="27" height="10" fill="#222" stroke="#707070" stroke-width="1" shape-rendering="crispEdges"/>
<path d="M508.5 157.5 L513.5 152.0 L518.5 157.5" fill="#2c2c2c" stroke="#707070" stroke-width="1"/>
<text x="513.0" y="166.3" font-size="9.5" fill="#ddddaa" text-anchor="middle" textLength="23.5" lengthAdjust="spacingAndGlyphs">64.5K</text>
<rect x="542.5" y="211.5" width="27" height="10" fill="#222" stroke="#707070" stroke-width="1" shape-rendering="crispEdges"/>
<path d="M551.5 211.5 L556.5 206.0 L561.5 211.5" fill="#2c2c2c" stroke="#707070" stroke-width="1"/>
<text x="556.0" y="220.3" font-size="9.5" fill="#ddddaa" text-anchor="middle" textLength="23.5" lengthAdjust="spacingAndGlyphs">59.7K</text>
<rect x="585.5" y="246.5" width="27" height="10" fill="#222" stroke="#707070" stroke-width="1" shape-rendering="crispEdges"/>
<path d="M594.5 246.5 L599.5 241.0 L604.5 246.5" fill="#2c2c2c" stroke="#707070" stroke-width="1"/>
<text x="599.0" y="255.3" font-size="9.5" fill="#ddddaa" text-anchor="middle" textLength="23.5" lengthAdjust="spacingAndGlyphs">56.5K</text>
<rect x="612.5" y="206.5" width="27" height="10" fill="#222" stroke="#707070" stroke-width="1" shape-rendering="crispEdges"/>
<path d="M621.5 206.5 L626.5 201.0 L631.5 206.5" fill="#2c2c2c" stroke="#707070" stroke-width="1"/>
<text x="626.0" y="215.3" font-size="9.5" fill="#ddddaa" text-anchor="middle" textLength="23.5" lengthAdjust="spacingAndGlyphs">60.2K</text>
<rect x="750.5" y="225.5" width="27" height="10" fill="#222" stroke="#707070" stroke-width="1" shape-rendering="crispEdges"/>
<path d="M759.5 225.5 L764.5 220.0 L769.5 225.5" fill="#2c2c2c" stroke="#707070" stroke-width="1"/>
<text x="764.0" y="234.3" font-size="9.5" fill="#ddddaa" text-anchor="middle" textLength="23.5" lengthAdjust="spacingAndGlyphs">58.4K</text>
<rect x="784.5" y="280.5" width="27" height="10" fill="#222" stroke="#707070" stroke-width="1" shape-rendering="crispEdges"/>
<path d="M793.5 280.5 L798.5 275.0 L803.5 280.5" fill="#2c2c2c" stroke="#707070" stroke-width="1"/>
<text x="798.0" y="289.3" font-size="9.5" fill="#ddddaa" text-anchor="middle" textLength="23.5" lengthAdjust="spacingAndGlyphs">53.5K</text>
<rect x="845.5" y="169.5" width="27" height="10" fill="#222" stroke="#707070" stroke-width="1" shape-rendering="crispEdges"/>
<path d="M854.5 169.5 L859.5 164.0 L864.5 169.5" fill="#2c2c2c" stroke="#707070" stroke-width="1"/>
<text x="859.0" y="178.3" font-size="9.5" fill="#ddddaa" text-anchor="middle" textLength="23.5" lengthAdjust="spacingAndGlyphs">63.4K</text>
<rect x="879.5" y="328.5" width="27" height="10" fill="#222" stroke="#707070" stroke-width="1" shape-rendering="crispEdges"/>
<path d="M888.5 328.5 L893.5 323.0 L898.5 328.5" fill="#2c2c2c" stroke="#707070" stroke-width="1"/>
<text x="893.0" y="337.3" font-size="9.5" fill="#ddddaa" text-anchor="middle" textLength="23.5" lengthAdjust="spacingAndGlyphs">49.2K</text>
<rect x="909.5" y="251.5" width="27" height="10" fill="#222" stroke="#707070" stroke-width="1" shape-rendering="crispEdges"/>
<path d="M918.5 251.5 L923.5 246.0 L928.5 251.5" fill="#2c2c2c" stroke="#707070" stroke-width="1"/>
<text x="923.0" y="260.3" font-size="9.5" fill="#ddddaa" text-anchor="middle" textLength="23.5" lengthAdjust="spacingAndGlyphs">56.1K</text>
<rect x="977.5" y="291.5" width="27" height="10" fill="#222" stroke="#707070" stroke-width="1" shape-rendering="crispEdges"/>
<path d="M986.5 291.5 L991.5 286.0 L996.5 291.5" fill="#2c2c2c" stroke="#707070" stroke-width="1"/>
<text x="991.0" y="300.3" font-size="9.5" fill="#ddddaa" text-anchor="middle" textLength="23.5" lengthAdjust="spacingAndGlyphs">52.6K</text>
<rect x="1081.5" y="220.5" width="27" height="10" fill="#222" stroke="#707070" stroke-width="1" shape-rendering="crispEdges"/>
<path d="M1090.5 220.5 L1095.5 215.0 L1100.5 220.5" fill="#2c2c2c" stroke="#707070" stroke-width="1"/>
<text x="1095.0" y="229.3" font-size="9.5" fill="#ddddaa" text-anchor="middle" textLength="23.5" lengthAdjust="spacingAndGlyphs">58.9K</text>
<rect x="17.0" y="192" width="389.0" height="2" fill="#ff0000" shape-rendering="crispEdges"/>
<rect x="406.0" y="192" width="190.0" height="2" fill="#008000" shape-rendering="crispEdges"/>
<rect x="596.0" y="192" width="9.0" height="2" fill="#ff0000" shape-rendering="crispEdges"/>
<rect x="605.0" y="192" width="159.0" height="2" fill="#008000" shape-rendering="crispEdges"/>
<rect x="764.0" y="192" width="3.0" height="2" fill="#ff0000" shape-rendering="crispEdges"/>
<rect x="767.0" y="192" width="9.0" height="2" fill="#008000" shape-rendering="crispEdges"/>
<rect x="776.0" y="192" width="4.0" height="2" fill="#ff0000" shape-rendering="crispEdges"/>
<rect x="780.0" y="192" width="12.0" height="2" fill="#008000" shape-rendering="crispEdges"/>
<rect x="792.0" y="192" width="33.0" height="2" fill="#ff0000" shape-rendering="crispEdges"/>
<rect x="825.0" y="192" width="62.0" height="2" fill="#008000" shape-rendering="crispEdges"/>
<rect x="887.0" y="192" width="15.0" height="2" fill="#ff0000" shape-rendering="crispEdges"/>
<rect x="902.0" y="192" width="9.0" height="2" fill="#008000" shape-rendering="crispEdges"/>
<rect x="911.0" y="192" width="31.0" height="2" fill="#ff0000" shape-rendering="crispEdges"/>
<rect x="942.0" y="192" width="3.0" height="2" fill="#008000" shape-rendering="crispEdges"/>
<rect x="945.0" y="192" width="3.0" height="2" fill="#ff0000" shape-rendering="crispEdges"/>
<rect x="948.0" y="192" width="12.0" height="2" fill="#008000" shape-rendering="crispEdges"/>
<rect x="960.0" y="192" width="68.0" height="2" fill="#ff0000" shape-rendering="crispEdges"/>
<rect x="1028.0" y="192" width="42.0" height="2" fill="#008000" shape-rendering="crispEdges"/>
<rect x="1070.0" y="192" width="3.0" height="2" fill="#ff0000" shape-rendering="crispEdges"/>
<rect x="1073.0" y="192" width="19.0" height="2" fill="#008000" shape-rendering="crispEdges"/>
<rect x="1092.0" y="192" width="6.0" height="2" fill="#ff0000" shape-rendering="crispEdges"/>
<rect x="1098.0" y="192" width="52.0" height="2" fill="#008000" shape-rendering="crispEdges"/>
<rect x="17.0" y="420" width="126.0" height="3" fill="#ff0000" shape-rendering="crispEdges"/>
<rect x="143.0" y="420" width="150.0" height="3" fill="#008000" shape-rendering="crispEdges"/>
<rect x="293.0" y="420" width="12.0" height="3" fill="#ff0000" shape-rendering="crispEdges"/>
<rect x="305.0" y="420" width="845.0" height="3" fill="#008000" shape-rendering="crispEdges"/>
<g fill="none" stroke="#8e8e8e" stroke-width="1" shape-rendering="crispEdges">
<rect x="16.5" y="28.5" width="1134" height="495"/>
<rect x="16.5" y="537.5" width="1134" height="173"/>
<rect x="16.5" y="710.5" width="1134" height="173"/>
</g>
<g fill="#8e8e8e" shape-rendering="crispEdges">
<rect x="17" y="524" width="1" height="1"/>
<rect x="17" y="536" width="1" height="1"/>
<rect x="17" y="884" width="1" height="1"/>
<rect x="20" y="524" width="1" height="1"/>
<rect x="20" y="536" width="1" height="1"/>
<rect x="20" y="884" width="1" height="1"/>
<rect x="23" y="524" width="1" height="1"/>
<rect x="23" y="536" width="1" height="1"/>
<rect x="23" y="884" width="1" height="1"/>
<rect x="26" y="524" width="1" height="1"/>
<rect x="26" y="536" width="1" height="1"/>
<rect x="26" y="884" width="1" height="1"/>
<rect x="29" y="524" width="1" height="1"/>
<rect x="29" y="536" width="1" height="1"/>
<rect x="29" y="884" width="1" height="1"/>
<rect x="32" y="524" width="1" height="1"/>
<rect x="32" y="536" width="1" height="1"/>
<rect x="32" y="884" width="1" height="1"/>
<rect x="35" y="524" width="1" height="1"/>
<rect x="35" y="536" width="1" height="1"/>
<rect x="35" y="884" width="1" height="1"/>
<rect x="38" y="524" width="1" height="1"/>
<rect x="38" y="536" width="1" height="1"/>
<rect x="38" y="884" width="1" height="1"/>
<rect x="42" y="524" width="1" height="1"/>
<rect x="42" y="536" width="1" height="1"/>
<rect x="42" y="884" width="1" height="1"/>
<rect x="45" y="524" width="1" height="1"/>
<rect x="45" y="536" width="1" height="1"/>
<rect x="45" y="884" width="1" height="1"/>
<rect x="48" y="524" width="1" height="1"/>
<rect x="48" y="536" width="1" height="1"/>
<rect x="48" y="884" width="1" height="1"/>
<rect x="51" y="524" width="1" height="1"/>
<rect x="51" y="536" width="1" height="1"/>
<rect x="51" y="884" width="1" height="1"/>
<rect x="54" y="524" width="1" height="1"/>
<rect x="54" y="536" width="1" height="1"/>
<rect x="54" y="884" width="1" height="1"/>
<rect x="57" y="524" width="1" height="1"/>
<rect x="57" y="536" width="1" height="1"/>
<rect x="57" y="884" width="1" height="1"/>
<rect x="60" y="524" width="1" height="1"/>
<rect x="60" y="536" width="1" height="1"/>
<rect x="60" y="884" width="1" height="1"/>
<rect x="63" y="524" width="1" height="1"/>
<rect x="63" y="536" width="1" height="1"/>
<rect x="63" y="884" width="1" height="1"/>
<rect x="66" y="524" width="1" height="1"/>
<rect x="66" y="536" width="1" height="1"/>
<rect x="66" y="884" width="1" height="1"/>
<rect x="69" y="524" width="1" height="1"/>
<rect x="69" y="536" width="1" height="1"/>
<rect x="69" y="884" width="1" height="1"/>
<rect x="72" y="524" width="1" height="1"/>
<rect x="72" y="536" width="1" height="1"/>
<rect x="72" y="884" width="1" height="1"/>
<rect x="75" y="524" width="1" height="1"/>
<rect x="75" y="536" width="1" height="1"/>
<rect x="75" y="884" width="1" height="1"/>
<rect x="78" y="524" width="1" height="1"/>
<rect x="78" y="536" width="1" height="1"/>
<rect x="78" y="884" width="1" height="1"/>
<rect x="81" y="524" width="1" height="1"/>
<rect x="81" y="536" width="1" height="1"/>
<rect x="81" y="884" width="1" height="1"/>
<rect x="84" y="524" width="1" height="1"/>
<rect x="84" y="536" width="1" height="1"/>
<rect x="84" y="884" width="1" height="1"/>
<rect x="87" y="524" width="1" height="1"/>
<rect x="87" y="536" width="1" height="1"/>
<rect x="87" y="884" width="1" height="1"/>
<rect x="91" y="524" width="1" height="1"/>
<rect x="91" y="536" width="1" height="1"/>
<rect x="91" y="884" width="1" height="1"/>
<rect x="94" y="524" width="1" height="1"/>
<rect x="94" y="536" width="1" height="1"/>
<rect x="94" y="884" width="1" height="1"/>
<rect x="97" y="524" width="1" height="1"/>
<rect x="97" y="536" width="1" height="1"/>
<rect x="97" y="884" width="1" height="1"/>
<rect x="100" y="524" width="1" height="1"/>
<rect x="100" y="536" width="1" height="1"/>
<rect x="100" y="884" width="1" height="1"/>
<rect x="103" y="524" width="1" height="1"/>
<rect x="103" y="536" width="1" height="1"/>
<rect x="103" y="884" width="1" height="1"/>
<rect x="106" y="524" width="1" height="1"/>
<rect x="106" y="536" width="1" height="1"/>
<rect x="106" y="884" width="1" height="1"/>
<rect x="109" y="524" width="1" height="1"/>
<rect x="109" y="536" width="1" height="1"/>
<rect x="109" y="884" width="1" height="1"/>
<rect x="112" y="524" width="1" height="1"/>
<rect x="112" y="536" width="1" height="1"/>
<rect x="112" y="884" width="1" height="1"/>
<rect x="115" y="524" width="1" height="1"/>
<rect x="115" y="536" width="1" height="1"/>
<rect x="115" y="884" width="1" height="1"/>
<rect x="118" y="524" width="1" height="1"/>
<rect x="118" y="536" width="1" height="1"/>
<rect x="118" y="884" width="1" height="1"/>
<rect x="121" y="524" width="1" height="1"/>
<rect x="121" y="536" width="1" height="1"/>
<rect x="121" y="884" width="1" height="1"/>
<rect x="124" y="524" width="1" height="1"/>
<rect x="124" y="536" width="1" height="1"/>
<rect x="124" y="884" width="1" height="1"/>
<rect x="127" y="524" width="1" height="1"/>
<rect x="127" y="536" width="1" height="1"/>
<rect x="127" y="884" width="1" height="1"/>
<rect x="130" y="524" width="1" height="1"/>
<rect x="130" y="536" width="1" height="1"/>
<rect x="130" y="884" width="1" height="1"/>
<rect x="133" y="524" width="1" height="1"/>
<rect x="133" y="536" width="1" height="1"/>
<rect x="133" y="884" width="1" height="1"/>
<rect x="136" y="524" width="1" height="1"/>
<rect x="136" y="536" width="1" height="1"/>
<rect x="136" y="884" width="1" height="1"/>
<rect x="140" y="524" width="1" height="1"/>
<rect x="140" y="536" width="1" height="1"/>
<rect x="140" y="884" width="1" height="1"/>
<rect x="143" y="524" width="1" height="1"/>
<rect x="143" y="536" width="1" height="1"/>
<rect x="143" y="884" width="1" height="1"/>
<rect x="146" y="524" width="1" height="1"/>
<rect x="146" y="536" width="1" height="1"/>
<rect x="146" y="884" width="1" height="1"/>
<rect x="149" y="524" width="1" height="1"/>
<rect x="149" y="536" width="1" height="1"/>
<rect x="149" y="884" width="1" height="1"/>
<rect x="152" y="524" width="1" height="1"/>
<rect x="152" y="536" width="1" height="1"/>
<rect x="152" y="884" width="1" height="1"/>
<rect x="155" y="524" width="1" height="1"/>
<rect x="155" y="536" width="1" height="1"/>
<rect x="155" y="884" width="1" height="1"/>
<rect x="158" y="524" width="1" height="1"/>
<rect x="158" y="536" width="1" height="1"/>
<rect x="158" y="884" width="1" height="1"/>
<rect x="161" y="524" width="1" height="1"/>
<rect x="161" y="536" width="1" height="1"/>
<rect x="161" y="884" width="1" height="1"/>
<rect x="164" y="524" width="1" height="1"/>
<rect x="164" y="536" width="1" height="1"/>
<rect x="164" y="884" width="1" height="1"/>
<rect x="167" y="524" width="1" height="1"/>
<rect x="167" y="536" width="1" height="1"/>
<rect x="167" y="884" width="1" height="1"/>
<rect x="170" y="524" width="1" height="1"/>
<rect x="170" y="536" width="1" height="1"/>
<rect x="170" y="884" width="1" height="1"/>
<rect x="173" y="524" width="1" height="1"/>
<rect x="173" y="536" width="1" height="1"/>
<rect x="173" y="884" width="1" height="1"/>
<rect x="176" y="524" width="1" height="1"/>
<rect x="176" y="536" width="1" height="1"/>
<rect x="176" y="884" width="1" height="1"/>
<rect x="179" y="524" width="1" height="1"/>
<rect x="179" y="536" width="1" height="1"/>
<rect x="179" y="884" width="1" height="1"/>
<rect x="182" y="524" width="1" height="1"/>
<rect x="182" y="536" width="1" height="1"/>
<rect x="182" y="884" width="1" height="1"/>
<rect x="185" y="524" width="1" height="1"/>
<rect x="185" y="536" width="1" height="1"/>
<rect x="185" y="884" width="1" height="1"/>
<rect x="189" y="524" width="1" height="1"/>
<rect x="189" y="536" width="1" height="1"/>
<rect x="189" y="884" width="1" height="1"/>
<rect x="192" y="524" width="1" height="1"/>
<rect x="192" y="536" width="1" height="1"/>
<rect x="192" y="884" width="1" height="1"/>
<rect x="195" y="524" width="1" height="1"/>
<rect x="195" y="536" width="1" height="1"/>
<rect x="195" y="884" width="1" height="1"/>
<rect x="198" y="524" width="1" height="1"/>
<rect x="198" y="536" width="1" height="1"/>
<rect x="198" y="884" width="1" height="1"/>
<rect x="201" y="524" width="1" height="1"/>
<rect x="201" y="536" width="1" height="1"/>
<rect x="201" y="884" width="1" height="1"/>
<rect x="204" y="524" width="1" height="1"/>
<rect x="204" y="536" width="1" height="1"/>
<rect x="204" y="884" width="1" height="1"/>
<rect x="207" y="524" width="1" height="1"/>
<rect x="207" y="536" width="1" height="1"/>
<rect x="207" y="884" width="1" height="1"/>
<rect x="210" y="524" width="1" height="1"/>
<rect x="210" y="536" width="1" height="1"/>
<rect x="210" y="884" width="1" height="1"/>
<rect x="213" y="524" width="1" height="1"/>
<rect x="213" y="536" width="1" height="1"/>
<rect x="213" y="884" width="1" height="1"/>
<rect x="216" y="524" width="1" height="1"/>
<rect x="216" y="536" width="1" height="1"/>
<rect x="216" y="884" width="1" height="1"/>
<rect x="219" y="524" width="1" height="1"/>
<rect x="219" y="536" width="1" height="1"/>
<rect x="219" y="884" width="1" height="1"/>
<rect x="222" y="524" width="1" height="1"/>
<rect x="222" y="536" width="1" height="1"/>
<rect x="222" y="884" width="1" height="1"/>
<rect x="225" y="524" width="1" height="1"/>
<rect x="225" y="536" width="1" height="1"/>
<rect x="225" y="884" width="1" height="1"/>
<rect x="228" y="524" width="1" height="1"/>
<rect x="228" y="536" width="1" height="1"/>
<rect x="228" y="884" width="1" height="1"/>
<rect x="231" y="524" width="1" height="1"/>
<rect x="231" y="536" width="1" height="1"/>
<rect x="231" y="884" width="1" height="1"/>
<rect x="234" y="524" width="1" height="1"/>
<rect x="234" y="536" width="1" height="1"/>
<rect x="234" y="884" width="1" height="1"/>
<rect x="238" y="524" width="1" height="1"/>
<rect x="238" y="536" width="1" height="1"/>
<rect x="238" y="884" width="1" height="1"/>
<rect x="241" y="524" width="1" height="1"/>
<rect x="241" y="536" width="1" height="1"/>
<rect x="241" y="884" width="1" height="1"/>
<rect x="244" y="524" width="1" height="1"/>
<rect x="244" y="536" width="1" height="1"/>
<rect x="244" y="884" width="1" height="1"/>
<rect x="247" y="524" width="1" height="1"/>
<rect x="247" y="536" width="1" height="1"/>
<rect x="247" y="884" width="1" height="1"/>
<rect x="250" y="524" width="1" height="1"/>
<rect x="250" y="536" width="1" height="1"/>
<rect x="250" y="884" width="1" height="1"/>
<rect x="253" y="524" width="1" height="1"/>
<rect x="253" y="536" width="1" height="1"/>
<rect x="253" y="884" width="1" height="1"/>
<rect x="256" y="524" width="1" height="1"/>
<rect x="256" y="536" width="1" height="1"/>
<rect x="256" y="884" width="1" height="1"/>
<rect x="259" y="524" width="1" height="1"/>
<rect x="259" y="536" width="1" height="1"/>
<rect x="259" y="884" width="1" height="1"/>
<rect x="262" y="524" width="1" height="1"/>
<rect x="262" y="536" width="1" height="1"/>
<rect x="262" y="884" width="1" height="1"/>
<rect x="265" y="524" width="1" height="1"/>
<rect x="265" y="536" width="1" height="1"/>
<rect x="265" y="884" width="1" height="1"/>
<rect x="268" y="524" width="1" height="1"/>
<rect x="268" y="536" width="1" height="1"/>
<rect x="268" y="884" width="1" height="1"/>
<rect x="271" y="524" width="1" height="1"/>
<rect x="271" y="536" width="1" height="1"/>
<rect x="271" y="884" width="1" height="1"/>
<rect x="274" y="524" width="1" height="1"/>
<rect x="274" y="536" width="1" height="1"/>
<rect x="274" y="884" width="1" height="1"/>
<rect x="277" y="524" width="1" height="1"/>
<rect x="277" y="536" width="1" height="1"/>
<rect x="277" y="884" width="1" height="1"/>
<rect x="280" y="524" width="1" height="1"/>
<rect x="280" y="536" width="1" height="1"/>
<rect x="280" y="884" width="1" height="1"/>
<rect x="283" y="524" width="1" height="1"/>
<rect x="283" y="536" width="1" height="1"/>
<rect x="283" y="884" width="1" height="1"/>
<rect x="287" y="524" width="1" height="1"/>
<rect x="287" y="536" width="1" height="1"/>
<rect x="287" y="884" width="1" height="1"/>
<rect x="290" y="524" width="1" height="1"/>
<rect x="290" y="536" width="1" height="1"/>
<rect x="290" y="884" width="1" height="1"/>
<rect x="293" y="524" width="1" height="1"/>
<rect x="293" y="536" width="1" height="1"/>
<rect x="293" y="884" width="1" height="1"/>
<rect x="296" y="524" width="1" height="1"/>
<rect x="296" y="536" width="1" height="1"/>
<rect x="296" y="884" width="1" height="1"/>
<rect x="299" y="524" width="1" height="1"/>
<rect x="299" y="536" width="1" height="1"/>
<rect x="299" y="884" width="1" height="1"/>
<rect x="302" y="524" width="1" height="1"/>
<rect x="302" y="536" width="1" height="1"/>
<rect x="302" y="884" width="1" height="1"/>
<rect x="305" y="524" width="1" height="1"/>
<rect x="305" y="536" width="1" height="1"/>
<rect x="305" y="884" width="1" height="1"/>
<rect x="308" y="524" width="1" height="1"/>
<rect x="308" y="536" width="1" height="1"/>
<rect x="308" y="884" width="1" height="1"/>
<rect x="311" y="524" width="1" height="1"/>
<rect x="311" y="536" width="1" height="1"/>
<rect x="311" y="884" width="1" height="1"/>
<rect x="314" y="524" width="1" height="1"/>
<rect x="314" y="536" width="1" height="1"/>
<rect x="314" y="884" width="1" height="1"/>
<rect x="317" y="524" width="1" height="1"/>
<rect x="317" y="536" width="1" height="1"/>
<rect x="317" y="884" width="1" height="1"/>
<rect x="320" y="524" width="1" height="1"/>
<rect x="320" y="536" width="1" height="1"/>
<rect x="320" y="884" width="1" height="1"/>
<rect x="323" y="524" width="1" height="1"/>
<rect x="323" y="536" width="1" height="1"/>
<rect x="323" y="884" width="1" height="1"/>
<rect x="326" y="524" width="1" height="1"/>
<rect x="326" y="536" width="1" height="1"/>
<rect x="326" y="884" width="1" height="1"/>
<rect x="329" y="524" width="1" height="1"/>
<rect x="329" y="536" width="1" height="1"/>
<rect x="329" y="884" width="1" height="1"/>
<rect x="332" y="524" width="1" height="1"/>
<rect x="332" y="536" width="1" height="1"/>
<rect x="332" y="884" width="1" height="1"/>
<rect x="336" y="524" width="1" height="1"/>
<rect x="336" y="536" width="1" height="1"/>
<rect x="336" y="884" width="1" height="1"/>
<rect x="339" y="524" width="1" height="1"/>
<rect x="339" y="536" width="1" height="1"/>
<rect x="339" y="884" width="1" height="1"/>
<rect x="342" y="524" width="1" height="1"/>
<rect x="342" y="536" width="1" height="1"/>
<rect x="342" y="884" width="1" height="1"/>
<rect x="345" y="524" width="1" height="1"/>
<rect x="345" y="536" width="1" height="1"/>
<rect x="345" y="884" width="1" height="1"/>
<rect x="348" y="524" width="1" height="1"/>
<rect x="348" y="536" width="1" height="1"/>
<rect x="348" y="884" width="1" height="1"/>
<rect x="351" y="524" width="1" height="1"/>
<rect x="351" y="536" width="1" height="1"/>
<rect x="351" y="884" width="1" height="1"/>
<rect x="354" y="524" width="1" height="1"/>
<rect x="354" y="536" width="1" height="1"/>
<rect x="354" y="884" width="1" height="1"/>
<rect x="357" y="524" width="1" height="1"/>
<rect x="357" y="536" width="1" height="1"/>
<rect x="357" y="884" width="1" height="1"/>
<rect x="360" y="524" width="1" height="1"/>
<rect x="360" y="536" width="1" height="1"/>
<rect x="360" y="884" width="1" height="1"/>
<rect x="363" y="524" width="1" height="1"/>
<rect x="363" y="536" width="1" height="1"/>
<rect x="363" y="884" width="1" height="1"/>
<rect x="366" y="524" width="1" height="1"/>
<rect x="366" y="536" width="1" height="1"/>
<rect x="366" y="884" width="1" height="1"/>
<rect x="369" y="524" width="1" height="1"/>
<rect x="369" y="536" width="1" height="1"/>
<rect x="369" y="884" width="1" height="1"/>
<rect x="372" y="524" width="1" height="1"/>
<rect x="372" y="536" width="1" height="1"/>
<rect x="372" y="884" width="1" height="1"/>
<rect x="375" y="524" width="1" height="1"/>
<rect x="375" y="536" width="1" height="1"/>
<rect x="375" y="884" width="1" height="1"/>
<rect x="378" y="524" width="1" height="1"/>
<rect x="378" y="536" width="1" height="1"/>
<rect x="378" y="884" width="1" height="1"/>
<rect x="381" y="524" width="1" height="1"/>
<rect x="381" y="536" width="1" height="1"/>
<rect x="381" y="884" width="1" height="1"/>
<rect x="385" y="524" width="1" height="1"/>
<rect x="385" y="536" width="1" height="1"/>
<rect x="385" y="884" width="1" height="1"/>
<rect x="388" y="524" width="1" height="1"/>
<rect x="388" y="536" width="1" height="1"/>
<rect x="388" y="884" width="1" height="1"/>
<rect x="391" y="524" width="1" height="1"/>
<rect x="391" y="536" width="1" height="1"/>
<rect x="391" y="884" width="1" height="1"/>
<rect x="394" y="524" width="1" height="1"/>
<rect x="394" y="536" width="1" height="1"/>
<rect x="394" y="884" width="1" height="1"/>
<rect x="397" y="524" width="1" height="1"/>
<rect x="397" y="536" width="1" height="1"/>
<rect x="397" y="884" width="1" height="1"/>
<rect x="400" y="524" width="1" height="1"/>
<rect x="400" y="536" width="1" height="1"/>
<rect x="400" y="884" width="1" height="1"/>
<rect x="403" y="524" width="1" height="1"/>
<rect x="403" y="536" width="1" height="1"/>
<rect x="403" y="884" width="1" height="1"/>
<rect x="406" y="524" width="1" height="1"/>
<rect x="406" y="536" width="1" height="1"/>
<rect x="406" y="884" width="1" height="1"/>
<rect x="409" y="524" width="1" height="1"/>
<rect x="409" y="536" width="1" height="1"/>
<rect x="409" y="884" width="1" height="1"/>
<rect x="412" y="524" width="1" height="1"/>
<rect x="412" y="536" width="1" height="1"/>
<rect x="412" y="884" width="1" height="1"/>
<rect x="415" y="524" width="1" height="1"/>
<rect x="415" y="536" width="1" height="1"/>
<rect x="415" y="884" width="1" height="1"/>
<rect x="418" y="524" width="1" height="1"/>
<rect x="418" y="536" width="1" height="1"/>
<rect x="418" y="884" width="1" height="1"/>
<rect x="421" y="524" width="1" height="1"/>
<rect x="421" y="536" width="1" height="1"/>
<rect x="421" y="884" width="1" height="1"/>
<rect x="424" y="524" width="1" height="1"/>
<rect x="424" y="536" width="1" height="1"/>
<rect x="424" y="884" width="1" height="1"/>
<rect x="427" y="524" width="1" height="1"/>
<rect x="427" y="536" width="1" height="1"/>
<rect x="427" y="884" width="1" height="1"/>
<rect x="430" y="524" width="1" height="1"/>
<rect x="430" y="536" width="1" height="1"/>
<rect x="430" y="884" width="1" height="1"/>
<rect x="434" y="524" width="1" height="1"/>
<rect x="434" y="536" width="1" height="1"/>
<rect x="434" y="884" width="1" height="1"/>
<rect x="437" y="524" width="1" height="1"/>
<rect x="437" y="536" width="1" height="1"/>
<rect x="437" y="884" width="1" height="1"/>
<rect x="440" y="524" width="1" height="1"/>
<rect x="440" y="536" width="1" height="1"/>
<rect x="440" y="884" width="1" height="1"/>
<rect x="443" y="524" width="1" height="1"/>
<rect x="443" y="536" width="1" height="1"/>
<rect x="443" y="884" width="1" height="1"/>
<rect x="446" y="524" width="1" height="1"/>
<rect x="446" y="536" width="1" height="1"/>
<rect x="446" y="884" width="1" height="1"/>
<rect x="449" y="524" width="1" height="1"/>
<rect x="449" y="536" width="1" height="1"/>
<rect x="449" y="884" width="1" height="1"/>
<rect x="452" y="524" width="1" height="1"/>
<rect x="452" y="536" width="1" height="1"/>
<rect x="452" y="884" width="1" height="1"/>
<rect x="455" y="524" width="1" height="1"/>
<rect x="455" y="536" width="1" height="1"/>
<rect x="455" y="884" width="1" height="1"/>
<rect x="458" y="524" width="1" height="1"/>
<rect x="458" y="536" width="1" height="1"/>
<rect x="458" y="884" width="1" height="1"/>
<rect x="461" y="524" width="1" height="1"/>
<rect x="461" y="536" width="1" height="1"/>
<rect x="461" y="884" width="1" height="1"/>
<rect x="464" y="524" width="1" height="1"/>
<rect x="464" y="536" width="1" height="1"/>
<rect x="464" y="884" width="1" height="1"/>
<rect x="467" y="524" width="1" height="1"/>
<rect x="467" y="536" width="1" height="1"/>
<rect x="467" y="884" width="1" height="1"/>
<rect x="470" y="524" width="1" height="1"/>
<rect x="470" y="536" width="1" height="1"/>
<rect x="470" y="884" width="1" height="1"/>
<rect x="473" y="524" width="1" height="1"/>
<rect x="473" y="536" width="1" height="1"/>
<rect x="473" y="884" width="1" height="1"/>
<rect x="476" y="524" width="1" height="1"/>
<rect x="476" y="536" width="1" height="1"/>
<rect x="476" y="884" width="1" height="1"/>
<rect x="479" y="524" width="1" height="1"/>
<rect x="479" y="536" width="1" height="1"/>
<rect x="479" y="884" width="1" height="1"/>
<rect x="482" y="524" width="1" height="1"/>
<rect x="482" y="536" width="1" height="1"/>
<rect x="482" y="884" width="1" height="1"/>
<rect x="486" y="524" width="1" height="1"/>
<rect x="486" y="536" width="1" height="1"/>
<rect x="486" y="884" width="1" height="1"/>
<rect x="489" y="524" width="1" height="1"/>
<rect x="489" y="536" width="1" height="1"/>
<rect x="489" y="884" width="1" height="1"/>
<rect x="492" y="524" width="1" height="1"/>
<rect x="492" y="536" width="1" height="1"/>
<rect x="492" y="884" width="1" height="1"/>
<rect x="495" y="524" width="1" height="1"/>
<rect x="495" y="536" width="1" height="1"/>
<rect x="495" y="884" width="1" height="1"/>
<rect x="498" y="524" width="1" height="1"/>
<rect x="498" y="536" width="1" height="1"/>
<rect x="498" y="884" width="1" height="1"/>
<rect x="501" y="524" width="1" height="1"/>
<rect x="501" y="536" width="1" height="1"/>
<rect x="501" y="884" width="1" height="1"/>
<rect x="504" y="524" width="1" height="1"/>
<rect x="504" y="536" width="1" height="1"/>
<rect x="504" y="884" width="1" height="1"/>
<rect x="507" y="524" width="1" height="1"/>
<rect x="507" y="536" width="1" height="1"/>
<rect x="507" y="884" width="1" height="1"/>
<rect x="510" y="524" width="1" height="1"/>
<rect x="510" y="536" width="1" height="1"/>
<rect x="510" y="884" width="1" height="1"/>
<rect x="513" y="524" width="1" height="1"/>
<rect x="513" y="536" width="1" height="1"/>
<rect x="513" y="884" width="1" height="1"/>
<rect x="516" y="524" width="1" height="1"/>
<rect x="516" y="536" width="1" height="1"/>
<rect x="516" y="884" width="1" height="1"/>
<rect x="519" y="524" width="1" height="1"/>
<rect x="519" y="536" width="1" height="1"/>
<rect x="519" y="884" width="1" height="1"/>
<rect x="522" y="524" width="1" height="1"/>
<rect x="522" y="536" width="1" height="1"/>
<rect x="522" y="884" width="1" height="1"/>
<rect x="525" y="524" width="1" height="1"/>
<rect x="525" y="536" width="1" height="1"/>
<rect x="525" y="884" width="1" height="1"/>
<rect x="528" y="524" width="1" height="1"/>
<rect x="528" y="536" width="1" height="1"/>
<rect x="528" y="884" width="1" height="1"/>
<rect x="531" y="524" width="1" height="1"/>
<rect x="531" y="536" width="1" height="1"/>
<rect x="531" y="884" width="1" height="1"/>
<rect x="535" y="524" width="1" height="1"/>
<rect x="535" y="536" width="1" height="1"/>
<rect x="535" y="884" width="1" height="1"/>
<rect x="538" y="524" width="1" height="1"/>
<rect x="538" y="536" width="1" height="1"/>
<rect x="538" y="884" width="1" height="1"/>
<rect x="541" y="524" width="1" height="1"/>
<rect x="541" y="536" width="1" height="1"/>
<rect x="541" y="884" width="1" height="1"/>
<rect x="544" y="524" width="1" height="1"/>
<rect x="544" y="536" width="1" height="1"/>
<rect x="544" y="884" width="1" height="1"/>
<rect x="547" y="524" width="1" height="1"/>
<rect x="547" y="536" width="1" height="1"/>
<rect x="547" y="884" width="1" height="1"/>
<rect x="550" y="524" width="1" height="1"/>
<rect x="550" y="536" width="1" height="1"/>
<rect x="550" y="884" width="1" height="1"/>
<rect x="553" y="524" width="1" height="1"/>
<rect x="553" y="536" width="1" height="1"/>
<rect x="553" y="884" width="1" height="1"/>
<rect x="556" y="524" width="1" height="1"/>
<rect x="556" y="536" width="1" height="1"/>
<rect x="556" y="884" width="1" height="1"/>
<rect x="559" y="524" width="1" height="1"/>
<rect x="559" y="536" width="1" height="1"/>
<rect x="559" y="884" width="1" height="1"/>
<rect x="562" y="524" width="1" height="1"/>
<rect x="562" y="536" width="1" height="1"/>
<rect x="562" y="884" width="1" height="1"/>
<rect x="565" y="524" width="1" height="1"/>
<rect x="565" y="536" width="1" height="1"/>
<rect x="565" y="884" width="1" height="1"/>
<rect x="568" y="524" width="1" height="1"/>
<rect x="568" y="536" width="1" height="1"/>
<rect x="568" y="884" width="1" height="1"/>
<rect x="571" y="524" width="1" height="1"/>
<rect x="571" y="536" width="1" height="1"/>
<rect x="571" y="884" width="1" height="1"/>
<rect x="574" y="524" width="1" height="1"/>
<rect x="574" y="536" width="1" height="1"/>
<rect x="574" y="884" width="1" height="1"/>
<rect x="577" y="524" width="1" height="1"/>
<rect x="577" y="536" width="1" height="1"/>
<rect x="577" y="884" width="1" height="1"/>
<rect x="580" y="524" width="1" height="1"/>
<rect x="580" y="536" width="1" height="1"/>
<rect x="580" y="884" width="1" height="1"/>
<rect x="584" y="524" width="1" height="1"/>
<rect x="584" y="536" width="1" height="1"/>
<rect x="584" y="884" width="1" height="1"/>
<rect x="587" y="524" width="1" height="1"/>
<rect x="587" y="536" width="1" height="1"/>
<rect x="587" y="884" width="1" height="1"/>
<rect x="590" y="524" width="1" height="1"/>
<rect x="590" y="536" width="1" height="1"/>
<rect x="590" y="884" width="1" height="1"/>
<rect x="593" y="524" width="1" height="1"/>
<rect x="593" y="536" width="1" height="1"/>
<rect x="593" y="884" width="1" height="1"/>
<rect x="596" y="524" width="1" height="1"/>
<rect x="596" y="536" width="1" height="1"/>
<rect x="596" y="884" width="1" height="1"/>
<rect x="599" y="524" width="1" height="1"/>
<rect x="599" y="536" width="1" height="1"/>
<rect x="599" y="884" width="1" height="1"/>
<rect x="602" y="524" width="1" height="1"/>
<rect x="602" y="536" width="1" height="1"/>
<rect x="602" y="884" width="1" height="1"/>
<rect x="605" y="524" width="1" height="1"/>
<rect x="605" y="536" width="1" height="1"/>
<rect x="605" y="884" width="1" height="1"/>
<rect x="608" y="524" width="1" height="1"/>
<rect x="608" y="536" width="1" height="1"/>
<rect x="608" y="884" width="1" height="1"/>
<rect x="611" y="524" width="1" height="1"/>
<rect x="611" y="536" width="1" height="1"/>
<rect x="611" y="884" width="1" height="1"/>
<rect x="614" y="524" width="1" height="1"/>
<rect x="614" y="536" width="1" height="1"/>
<rect x="614" y="884" width="1" height="1"/>
<rect x="617" y="524" width="1" height="1"/>
<rect x="617" y="536" width="1" height="1"/>
<rect x="617" y="884" width="1" height="1"/>
<rect x="620" y="524" width="1" height="1"/>
<rect x="620" y="536" width="1" height="1"/>
<rect x="620" y="884" width="1" height="1"/>
<rect x="623" y="524" width="1" height="1"/>
<rect x="623" y="536" width="1" height="1"/>
<rect x="623" y="884" width="1" height="1"/>
<rect x="626" y="524" width="1" height="1"/>
<rect x="626" y="536" width="1" height="1"/>
<rect x="626" y="884" width="1" height="1"/>
<rect x="629" y="524" width="1" height="1"/>
<rect x="629" y="536" width="1" height="1"/>
<rect x="629" y="884" width="1" height="1"/>
<rect x="633" y="524" width="1" height="1"/>
<rect x="633" y="536" width="1" height="1"/>
<rect x="633" y="884" width="1" height="1"/>
<rect x="636" y="524" width="1" height="1"/>
<rect x="636" y="536" width="1" height="1"/>
<rect x="636" y="884" width="1" height="1"/>
<rect x="639" y="524" width="1" height="1"/>
<rect x="639" y="536" width="1" height="1"/>
<rect x="639" y="884" width="1" height="1"/>
<rect x="642" y="524" width="1" height="1"/>
<rect x="642" y="536" width="1" height="1"/>
<rect x="642" y="884" width="1" height="1"/>
<rect x="645" y="524" width="1" height="1"/>
<rect x="645" y="536" width="1" height="1"/>
<rect x="645" y="884" width="1" height="1"/>
<rect x="648" y="524" width="1" height="1"/>
<rect x="648" y="536" width="1" height="1"/>
<rect x="648" y="884" width="1" height="1"/>
<rect x="651" y="524" width="1" height="1"/>
<rect x="651" y="536" width="1" height="1"/>
<rect x="651" y="884" width="1" height="1"/>
<rect x="654" y="524" width="1" height="1"/>
<rect x="654" y="536" width="1" height="1"/>
<rect x="654" y="884" width="1" height="1"/>
<rect x="657" y="524" width="1" height="1"/>
<rect x="657" y="536" width="1" height="1"/>
<rect x="657" y="884" width="1" height="1"/>
<rect x="660" y="524" width="1" height="1"/>
<rect x="660" y="536" width="1" height="1"/>
<rect x="660" y="884" width="1" height="1"/>
<rect x="663" y="524" width="1" height="1"/>
<rect x="663" y="536" width="1" height="1"/>
<rect x="663" y="884" width="1" height="1"/>
<rect x="666" y="524" width="1" height="1"/>
<rect x="666" y="536" width="1" height="1"/>
<rect x="666" y="884" width="1" height="1"/>
<rect x="669" y="524" width="1" height="1"/>
<rect x="669" y="536" width="1" height="1"/>
<rect x="669" y="884" width="1" height="1"/>
<rect x="672" y="524" width="1" height="1"/>
<rect x="672" y="536" width="1" height="1"/>
<rect x="672" y="884" width="1" height="1"/>
<rect x="675" y="524" width="1" height="1"/>
<rect x="675" y="536" width="1" height="1"/>
<rect x="675" y="884" width="1" height="1"/>
<rect x="678" y="524" width="1" height="1"/>
<rect x="678" y="536" width="1" height="1"/>
<rect x="678" y="884" width="1" height="1"/>
<rect x="682" y="524" width="1" height="1"/>
<rect x="682" y="536" width="1" height="1"/>
<rect x="682" y="884" width="1" height="1"/>
<rect x="685" y="524" width="1" height="1"/>
<rect x="685" y="536" width="1" height="1"/>
<rect x="685" y="884" width="1" height="1"/>
<rect x="688" y="524" width="1" height="1"/>
<rect x="688" y="536" width="1" height="1"/>
<rect x="688" y="884" width="1" height="1"/>
<rect x="691" y="524" width="1" height="1"/>
<rect x="691" y="536" width="1" height="1"/>
<rect x="691" y="884" width="1" height="1"/>
<rect x="694" y="524" width="1" height="1"/>
<rect x="694" y="536" width="1" height="1"/>
<rect x="694" y="884" width="1" height="1"/>
<rect x="697" y="524" width="1" height="1"/>
<rect x="697" y="536" width="1" height="1"/>
<rect x="697" y="884" width="1" height="1"/>
<rect x="700" y="524" width="1" height="1"/>
<rect x="700" y="536" width="1" height="1"/>
<rect x="700" y="884" width="1" height="1"/>
<rect x="703" y="524" width="1" height="1"/>
<rect x="703" y="536" width="1" height="1"/>
<rect x="703" y="884" width="1" height="1"/>
<rect x="706" y="524" width="1" height="1"/>
<rect x="706" y="536" width="1" height="1"/>
<rect x="706" y="884" width="1" height="1"/>
<rect x="709" y="524" width="1" height="1"/>
<rect x="709" y="536" width="1" height="1"/>
<rect x="709" y="884" width="1" height="1"/>
<rect x="712" y="524" width="1" height="1"/>
<rect x="712" y="536" width="1" height="1"/>
<rect x="712" y="884" width="1" height="1"/>
<rect x="715" y="524" width="1" height="1"/>
<rect x="715" y="536" width="1" height="1"/>
<rect x="715" y="884" width="1" height="1"/>
<rect x="718" y="524" width="1" height="1"/>
<rect x="718" y="536" width="1" height="1"/>
<rect x="718" y="884" width="1" height="1"/>
<rect x="721" y="524" width="1" height="1"/>
<rect x="721" y="536" width="1" height="1"/>
<rect x="721" y="884" width="1" height="1"/>
<rect x="724" y="524" width="1" height="1"/>
<rect x="724" y="536" width="1" height="1"/>
<rect x="724" y="884" width="1" height="1"/>
<rect x="727" y="524" width="1" height="1"/>
<rect x="727" y="536" width="1" height="1"/>
<rect x="727" y="884" width="1" height="1"/>
<rect x="731" y="524" width="1" height="1"/>
<rect x="731" y="536" width="1" height="1"/>
<rect x="731" y="884" width="1" height="1"/>
<rect x="734" y="524" width="1" height="1"/>
<rect x="734" y="536" width="1" height="1"/>
<rect x="734" y="884" width="1" height="1"/>
<rect x="737" y="524" width="1" height="1"/>
<rect x="737" y="536" width="1" height="1"/>
<rect x="737" y="884" width="1" height="1"/>
<rect x="740" y="524" width="1" height="1"/>
<rect x="740" y="536" width="1" height="1"/>
<rect x="740" y="884" width="1" height="1"/>
<rect x="743" y="524" width="1" height="1"/>
<rect x="743" y="536" width="1" height="1"/>
<rect x="743" y="884" width="1" height="1"/>
<rect x="746" y="524" width="1" height="1"/>
<rect x="746" y="536" width="1" height="1"/>
<rect x="746" y="884" width="1" height="1"/>
<rect x="749" y="524" width="1" height="1"/>
<rect x="749" y="536" width="1" height="1"/>
<rect x="749" y="884" width="1" height="1"/>
<rect x="752" y="524" width="1" height="1"/>
<rect x="752" y="536" width="1" height="1"/>
<rect x="752" y="884" width="1" height="1"/>
<rect x="755" y="524" width="1" height="1"/>
<rect x="755" y="536" width="1" height="1"/>
<rect x="755" y="884" width="1" height="1"/>
<rect x="758" y="524" width="1" height="1"/>
<rect x="758" y="536" width="1" height="1"/>
<rect x="758" y="884" width="1" height="1"/>
<rect x="761" y="524" width="1" height="1"/>
<rect x="761" y="536" width="1" height="1"/>
<rect x="761" y="884" width="1" height="1"/>
<rect x="764" y="524" width="1" height="1"/>
<rect x="764" y="536" width="1" height="1"/>
<rect x="764" y="884" width="1" height="1"/>
<rect x="767" y="524" width="1" height="1"/>
<rect x="767" y="536" width="1" height="1"/>
<rect x="767" y="884" width="1" height="1"/>
<rect x="770" y="524" width="1" height="1"/>
<rect x="770" y="536" width="1" height="1"/>
<rect x="770" y="884" width="1" height="1"/>
<rect x="773" y="524" width="1" height="1"/>
<rect x="773" y="536" width="1" height="1"/>
<rect x="773" y="884" width="1" height="1"/>
<rect x="776" y="524" width="1" height="1"/>
<rect x="776" y="536" width="1" height="1"/>
<rect x="776" y="884" width="1" height="1"/>
<rect x="780" y="524" width="1" height="1"/>
<rect x="780" y="536" width="1" height="1"/>
<rect x="780" y="884" width="1" height="1"/>
<rect x="783" y="524" width="1" height="1"/>
<rect x="783" y="536" width="1" height="1"/>
<rect x="783" y="884" width="1" height="1"/>
<rect x="786" y="524" width="1" height="1"/>
<rect x="786" y="536" width="1" height="1"/>
<rect x="786" y="884" width="1" height="1"/>
<rect x="789" y="524" width="1" height="1"/>
<rect x="789" y="536" width="1" height="1"/>
<rect x="789" y="884" width="1" height="1"/>
<rect x="792" y="524" width="1" height="1"/>
<rect x="792" y="536" width="1" height="1"/>
<rect x="792" y="884" width="1" height="1"/>
<rect x="795" y="524" width="1" height="1"/>
<rect x="795" y="536" width="1" height="1"/>
<rect x="795" y="884" width="1" height="1"/>
<rect x="798" y="524" width="1" height="1"/>
<rect x="798" y="536" width="1" height="1"/>
<rect x="798" y="884" width="1" height="1"/>
<rect x="801" y="524" width="1" height="1"/>
<rect x="801" y="536" width="1" height="1"/>
<rect x="801" y="884" width="1" height="1"/>
<rect x="804" y="524" width="1" height="1"/>
<rect x="804" y="536" width="1" height="1"/>
<rect x="804" y="884" width="1" height="1"/>
<rect x="807" y="524" width="1" height="1"/>
<rect x="807" y="536" width="1" height="1"/>
<rect x="807" y="884" width="1" height="1"/>
<rect x="810" y="524" width="1" height="1"/>
<rect x="810" y="536" width="1" height="1"/>
<rect x="810" y="884" width="1" height="1"/>
<rect x="813" y="524" width="1" height="1"/>
<rect x="813" y="536" width="1" height="1"/>
<rect x="813" y="884" width="1" height="1"/>
<rect x="816" y="524" width="1" height="1"/>
<rect x="816" y="536" width="1" height="1"/>
<rect x="816" y="884" width="1" height="1"/>
<rect x="819" y="524" width="1" height="1"/>
<rect x="819" y="536" width="1" height="1"/>
<rect x="819" y="884" width="1" height="1"/>
<rect x="822" y="524" width="1" height="1"/>
<rect x="822" y="536" width="1" height="1"/>
<rect x="822" y="884" width="1" height="1"/>
<rect x="825" y="524" width="1" height="1"/>
<rect x="825" y="536" width="1" height="1"/>
<rect x="825" y="884" width="1" height="1"/>
<rect x="829" y="524" width="1" height="1"/>
<rect x="829" y="536" width="1" height="1"/>
<rect x="829" y="884" width="1" height="1"/>
<rect x="832" y="524" width="1" height="1"/>
<rect x="832" y="536" width="1" height="1"/>
<rect x="832" y="884" width="1" height="1"/>
<rect x="835" y="524" width="1" height="1"/>
<rect x="835" y="536" width="1" height="1"/>
<rect x="835" y="884" width="1" height="1"/>
<rect x="838" y="524" width="1" height="1"/>
<rect x="838" y="536" width="1" height="1"/>
<rect x="838" y="884" width="1" height="1"/>
<rect x="841" y="524" width="1" height="1"/>
<rect x="841" y="536" width="1" height="1"/>
<rect x="841" y="884" width="1" height="1"/>
<rect x="844" y="524" width="1" height="1"/>
<rect x="844" y="536" width="1" height="1"/>
<rect x="844" y="884" width="1" height="1"/>
<rect x="847" y="524" width="1" height="1"/>
<rect x="847" y="536" width="1" height="1"/>
<rect x="847" y="884" width="1" height="1"/>
<rect x="850" y="524" width="1" height="1"/>
<rect x="850" y="536" width="1" height="1"/>
<rect x="850" y="884" width="1" height="1"/>
<rect x="853" y="524" width="1" height="1"/>
<rect x="853" y="536" width="1" height="1"/>
<rect x="853" y="884" width="1" height="1"/>
<rect x="856" y="524" width="1" height="1"/>
<rect x="856" y="536" width="1" height="1"/>
<rect x="856" y="884" width="1" height="1"/>
<rect x="859" y="524" width="1" height="1"/>
<rect x="859" y="536" width="1" height="1"/>
<rect x="859" y="884" width="1" height="1"/>
<rect x="862" y="524" width="1" height="1"/>
<rect x="862" y="536" width="1" height="1"/>
<rect x="862" y="884" width="1" height="1"/>
<rect x="865" y="524" width="1" height="1"/>
<rect x="865" y="536" width="1" height="1"/>
<rect x="865" y="884" width="1" height="1"/>
<rect x="868" y="524" width="1" height="1"/>
<rect x="868" y="536" width="1" height="1"/>
<rect x="868" y="884" width="1" height="1"/>
<rect x="871" y="524" width="1" height="1"/>
<rect x="871" y="536" width="1" height="1"/>
<rect x="871" y="884" width="1" height="1"/>
<rect x="874" y="524" width="1" height="1"/>
<rect x="874" y="536" width="1" height="1"/>
<rect x="874" y="884" width="1" height="1"/>
<rect x="878" y="524" width="1" height="1"/>
<rect x="878" y="536" width="1" height="1"/>
<rect x="878" y="884" width="1" height="1"/>
<rect x="881" y="524" width="1" height="1"/>
<rect x="881" y="536" width="1" height="1"/>
<rect x="881" y="884" width="1" height="1"/>
<rect x="884" y="524" width="1" height="1"/>
<rect x="884" y="536" width="1" height="1"/>
<rect x="884" y="884" width="1" height="1"/>
<rect x="887" y="524" width="1" height="1"/>
<rect x="887" y="536" width="1" height="1"/>
<rect x="887" y="884" width="1" height="1"/>
<rect x="890" y="524" width="1" height="1"/>
<rect x="890" y="536" width="1" height="1"/>
<rect x="890" y="884" width="1" height="1"/>
<rect x="893" y="524" width="1" height="1"/>
<rect x="893" y="536" width="1" height="1"/>
<rect x="893" y="884" width="1" height="1"/>
<rect x="896" y="524" width="1" height="1"/>
<rect x="896" y="536" width="1" height="1"/>
<rect x="896" y="884" width="1" height="1"/>
<rect x="899" y="524" width="1" height="1"/>
<rect x="899" y="536" width="1" height="1"/>
<rect x="899" y="884" width="1" height="1"/>
<rect x="902" y="524" width="1" height="1"/>
<rect x="902" y="536" width="1" height="1"/>
<rect x="902" y="884" width="1" height="1"/>
<rect x="905" y="524" width="1" height="1"/>
<rect x="905" y="536" width="1" height="1"/>
<rect x="905" y="884" width="1" height="1"/>
<rect x="908" y="524" width="1" height="1"/>
<rect x="908" y="536" width="1" height="1"/>
<rect x="908" y="884" width="1" height="1"/>
<rect x="911" y="524" width="1" height="1"/>
<rect x="911" y="536" width="1" height="1"/>
<rect x="911" y="884" width="1" height="1"/>
<rect x="914" y="524" width="1" height="1"/>
<rect x="914" y="536" width="1" height="1"/>
<rect x="914" y="884" width="1" height="1"/>
<rect x="917" y="524" width="1" height="1"/>
<rect x="917" y="536" width="1" height="1"/>
<rect x="917" y="884" width="1" height="1"/>
<rect x="920" y="524" width="1" height="1"/>
<rect x="920" y="536" width="1" height="1"/>
<rect x="920" y="884" width="1" height="1"/>
<rect x="923" y="524" width="1" height="1"/>
<rect x="923" y="536" width="1" height="1"/>
<rect x="923" y="884" width="1" height="1"/>
<rect x="927" y="524" width="1" height="1"/>
<rect x="927" y="536" width="1" height="1"/>
<rect x="927" y="884" width="1" height="1"/>
<rect x="930" y="524" width="1" height="1"/>
<rect x="930" y="536" width="1" height="1"/>
<rect x="930" y="884" width="1" height="1"/>
<rect x="933" y="524" width="1" height="1"/>
<rect x="933" y="536" width="1" height="1"/>
<rect x="933" y="884" width="1" height="1"/>
<rect x="936" y="524" width="1" height="1"/>
<rect x="936" y="536" width="1" height="1"/>
<rect x="936" y="884" width="1" height="1"/>
<rect x="939" y="524" width="1" height="1"/>
<rect x="939" y="536" width="1" height="1"/>
<rect x="939" y="884" width="1" height="1"/>
<rect x="942" y="524" width="1" height="1"/>
<rect x="942" y="536" width="1" height="1"/>
<rect x="942" y="884" width="1" height="1"/>
<rect x="945" y="524" width="1" height="1"/>
<rect x="945" y="536" width="1" height="1"/>
<rect x="945" y="884" width="1" height="1"/>
<rect x="948" y="524" width="1" height="1"/>
<rect x="948" y="536" width="1" height="1"/>
<rect x="948" y="884" width="1" height="1"/>
<rect x="951" y="524" width="1" height="1"/>
<rect x="951" y="536" width="1" height="1"/>
<rect x="951" y="884" width="1" height="1"/>
<rect x="954" y="524" width="1" height="1"/>
<rect x="954" y="536" width="1" height="1"/>
<rect x="954" y="884" width="1" height="1"/>
<rect x="957" y="524" width="1" height="1"/>
<rect x="957" y="536" width="1" height="1"/>
<rect x="957" y="884" width="1" height="1"/>
<rect x="960" y="524" width="1" height="1"/>
<rect x="960" y="536" width="1" height="1"/>
<rect x="960" y="884" width="1" height="1"/>
<rect x="963" y="524" width="1" height="1"/>
<rect x="963" y="536" width="1" height="1"/>
<rect x="963" y="884" width="1" height="1"/>
<rect x="966" y="524" width="1" height="1"/>
<rect x="966" y="536" width="1" height="1"/>
<rect x="966" y="884" width="1" height="1"/>
<rect x="969" y="524" width="1" height="1"/>
<rect x="969" y="536" width="1" height="1"/>
<rect x="969" y="884" width="1" height="1"/>
<rect x="972" y="524" width="1" height="1"/>
<rect x="972" y="536" width="1" height="1"/>
<rect x="972" y="884" width="1" height="1"/>
<rect x="976" y="524" width="1" height="1"/>
<rect x="976" y="536" width="1" height="1"/>
<rect x="976" y="884" width="1" height="1"/>
<rect x="979" y="524" width="1" height="1"/>
<rect x="979" y="536" width="1" height="1"/>
<rect x="979" y="884" width="1" height="1"/>
<rect x="982" y="524" width="1" height="1"/>
<rect x="982" y="536" width="1" height="1"/>
<rect x="982" y="884" width="1" height="1"/>
<rect x="985" y="524" width="1" height="1"/>
<rect x="985" y="536" width="1" height="1"/>
<rect x="985" y="884" width="1" height="1"/>
<rect x="988" y="524" width="1" height="1"/>
<rect x="988" y="536" width="1" height="1"/>
<rect x="988" y="884" width="1" height="1"/>
<rect x="991" y="524" width="1" height="1"/>
<rect x="991" y="536" width="1" height="1"/>
<rect x="991" y="884" width="1" height="1"/>
<rect x="994" y="524" width="1" height="1"/>
<rect x="994" y="536" width="1" height="1"/>
<rect x="994" y="884" width="1" height="1"/>
<rect x="997" y="524" width="1" height="1"/>
<rect x="997" y="536" width="1" height="1"/>
<rect x="997" y="884" width="1" height="1"/>
<rect x="1000" y="524" width="1" height="1"/>
<rect x="1000" y="536" width="1" height="1"/>
<rect x="1000" y="884" width="1" height="1"/>
<rect x="1003" y="524" width="1" height="1"/>
<rect x="1003" y="536" width="1" height="1"/>
<rect x="1003" y="884" width="1" height="1"/>
<rect x="1006" y="524" width="1" height="1"/>
<rect x="1006" y="536" width="1" height="1"/>
<rect x="1006" y="884" width="1" height="1"/>
<rect x="1009" y="524" width="1" height="1"/>
<rect x="1009" y="536" width="1" height="1"/>
<rect x="1009" y="884" width="1" height="1"/>
<rect x="1012" y="524" width="1" height="1"/>
<rect x="1012" y="536" width="1" height="1"/>
<rect x="1012" y="884" width="1" height="1"/>
<rect x="1015" y="524" width="1" height="1"/>
<rect x="1015" y="536" width="1" height="1"/>
<rect x="1015" y="884" width="1" height="1"/>
<rect x="1018" y="524" width="1" height="1"/>
<rect x="1018" y="536" width="1" height="1"/>
<rect x="1018" y="884" width="1" height="1"/>
<rect x="1021" y="524" width="1" height="1"/>
<rect x="1021" y="536" width="1" height="1"/>
<rect x="1021" y="884" width="1" height="1"/>
<rect x="1025" y="524" width="1" height="1"/>
<rect x="1025" y="536" width="1" height="1"/>
<rect x="1025" y="884" width="1" height="1"/>
<rect x="1028" y="524" width="1" height="1"/>
<rect x="1028" y="536" width="1" height="1"/>
<rect x="1028" y="884" width="1" height="1"/>
<rect x="1031" y="524" width="1" height="1"/>
<rect x="1031" y="536" width="1" height="1"/>
<rect x="1031" y="884" width="1" height="1"/>
<rect x="1034" y="524" width="1" height="1"/>
<rect x="1034" y="536" width="1" height="1"/>
<rect x="1034" y="884" width="1" height="1"/>
<rect x="1037" y="524" width="1" height="1"/>
<rect x="1037" y="536" width="1" height="1"/>
<rect x="1037" y="884" width="1" height="1"/>
<rect x="1040" y="524" width="1" height="1"/>
<rect x="1040" y="536" width="1" height="1"/>
<rect x="1040" y="884" width="1" height="1"/>
<rect x="1043" y="524" width="1" height="1"/>
<rect x="1043" y="536" width="1" height="1"/>
<rect x="1043" y="884" width="1" height="1"/>
<rect x="1046" y="524" width="1" height="1"/>
<rect x="1046" y="536" width="1" height="1"/>
<rect x="1046" y="884" width="1" height="1"/>
<rect x="1049" y="524" width="1" height="1"/>
<rect x="1049" y="536" width="1" height="1"/>
<rect x="1049" y="884" width="1" height="1"/>
<rect x="1052" y="524" width="1" height="1"/>
<rect x="1052" y="536" width="1" height="1"/>
<rect x="1052" y="884" width="1" height="1"/>
<rect x="1055" y="524" width="1" height="1"/>
<rect x="1055" y="536" width="1" height="1"/>
<rect x="1055" y="884" width="1" height="1"/>
<rect x="1058" y="524" width="1" height="1"/>
<rect x="1058" y="536" width="1" height="1"/>
<rect x="1058" y="884" width="1" height="1"/>
<rect x="1061" y="524" width="1" height="1"/>
<rect x="1061" y="536" width="1" height="1"/>
<rect x="1061" y="884" width="1" height="1"/>
<rect x="1064" y="524" width="1" height="1"/>
<rect x="1064" y="536" width="1" height="1"/>
<rect x="1064" y="884" width="1" height="1"/>
<rect x="1067" y="524" width="1" height="1"/>
<rect x="1067" y="536" width="1" height="1"/>
<rect x="1067" y="884" width="1" height="1"/>
<rect x="1070" y="524" width="1" height="1"/>
<rect x="1070" y="536" width="1" height="1"/>
<rect x="1070" y="884" width="1" height="1"/>
<rect x="1073" y="524" width="1" height="1"/>
<rect x="1073" y="536" width="1" height="1"/>
<rect x="1073" y="884" width="1" height="1"/>
<rect x="1077" y="524" width="1" height="1"/>
<rect x="1077" y="536" width="1" height="1"/>
<rect x="1077" y="884" width="1" height="1"/>
<rect x="1080" y="524" width="1" height="1"/>
<rect x="1080" y="536" width="1" height="1"/>
<rect x="1080" y="884" width="1" height="1"/>
<rect x="1083" y="524" width="1" height="1"/>
<rect x="1083" y="536" width="1" height="1"/>
<rect x="1083" y="884" width="1" height="1"/>
<rect x="1086" y="524" width="1" height="1"/>
<rect x="1086" y="536" width="1" height="1"/>
<rect x="1086" y="884" width="1" height="1"/>
<rect x="1089" y="524" width="1" height="1"/>
<rect x="1089" y="536" width="1" height="1"/>
<rect x="1089" y="884" width="1" height="1"/>
<rect x="1092" y="524" width="1" height="1"/>
<rect x="1092" y="536" width="1" height="1"/>
<rect x="1092" y="884" width="1" height="1"/>
<rect x="1095" y="524" width="1" height="1"/>
<rect x="1095" y="536" width="1" height="1"/>
<rect x="1095" y="884" width="1" height="1"/>
<rect x="1098" y="524" width="1" height="1"/>
<rect x="1098" y="536" width="1" height="1"/>
<rect x="1098" y="884" width="1" height="1"/>
<rect x="1101" y="524" width="1" height="1"/>
<rect x="1101" y="536" width="1" height="1"/>
<rect x="1101" y="884" width="1" height="1"/>
<rect x="1104" y="524" width="1" height="1"/>
<rect x="1104" y="536" width="1" height="1"/>
<rect x="1104" y="884" width="1" height="1"/>
<rect x="1107" y="524" width="1" height="1"/>
<rect x="1107" y="536" width="1" height="1"/>
<rect x="1107" y="884" width="1" height="1"/>
<rect x="1110" y="524" width="1" height="1"/>
<rect x="1110" y="536" width="1" height="1"/>
<rect x="1110" y="884" width="1" height="1"/>
<rect x="1113" y="524" width="1" height="1"/>
<rect x="1113" y="536" width="1" height="1"/>
<rect x="1113" y="884" width="1" height="1"/>
<rect x="1116" y="524" width="1" height="1"/>
<rect x="1116" y="536" width="1" height="1"/>
<rect x="1116" y="884" width="1" height="1"/>
<rect x="1119" y="524" width="1" height="1"/>
<rect x="1119" y="536" width="1" height="1"/>
<rect x="1119" y="884" width="1" height="1"/>
<rect x="1122" y="524" width="1" height="1"/>
<rect x="1122" y="536" width="1" height="1"/>
<rect x="1122" y="884" width="1" height="1"/>
<rect x="1126" y="524" width="1" height="1"/>
<rect x="1126" y="536" width="1" height="1"/>
<rect x="1126" y="884" width="1" height="1"/>
<rect x="1129" y="524" width="1" height="1"/>
<rect x="1129" y="536" width="1" height="1"/>
<rect x="1129" y="884" width="1" height="1"/>
<rect x="1132" y="524" width="1" height="1"/>
<rect x="1132" y="536" width="1" height="1"/>
<rect x="1132" y="884" width="1" height="1"/>
<rect x="1135" y="524" width="1" height="1"/>
<rect x="1135" y="536" width="1" height="1"/>
<rect x="1135" y="884" width="1" height="1"/>
<rect x="1138" y="524" width="1" height="1"/>
<rect x="1138" y="536" width="1" height="1"/>
<rect x="1138" y="884" width="1" height="1"/>
<rect x="1141" y="524" width="1" height="1"/>
<rect x="1141" y="536" width="1" height="1"/>
<rect x="1141" y="884" width="1" height="1"/>
<rect x="1144" y="524" width="1" height="1"/>
<rect x="1144" y="536" width="1" height="1"/>
<rect x="1144" y="884" width="1" height="1"/>
<rect x="1147" y="524" width="1" height="1"/>
<rect x="1147" y="536" width="1" height="1"/>
<rect x="1147" y="884" width="1" height="1"/>
<rect x="42" y="524" width="1" height="2"/>
<rect x="42" y="535" width="1" height="2"/>
<rect x="42" y="884" width="1" height="2"/>
<rect x="133" y="524" width="1" height="2"/>
<rect x="133" y="535" width="1" height="2"/>
<rect x="133" y="884" width="1" height="2"/>
<rect x="228" y="524" width="1" height="2"/>
<rect x="228" y="535" width="1" height="2"/>
<rect x="228" y="884" width="1" height="2"/>
<rect x="323" y="524" width="1" height="2"/>
<rect x="323" y="535" width="1" height="2"/>
<rect x="323" y="884" width="1" height="2"/>
<rect x="412" y="524" width="1" height="2"/>
<rect x="412" y="535" width="1" height="2"/>
<rect x="412" y="884" width="1" height="2"/>
<rect x="507" y="524" width="1" height="2"/>
<rect x="507" y="535" width="1" height="2"/>
<rect x="507" y="884" width="1" height="2"/>
<rect x="599" y="524" width="1" height="2"/>
<rect x="599" y="535" width="1" height="2"/>
<rect x="599" y="884" width="1" height="2"/>
<rect x="694" y="524" width="1" height="2"/>
<rect x="694" y="535" width="1" height="2"/>
<rect x="694" y="884" width="1" height="2"/>
<rect x="786" y="524" width="1" height="2"/>
<rect x="786" y="535" width="1" height="2"/>
<rect x="786" y="884" width="1" height="2"/>
<rect x="881" y="524" width="1" height="2"/>
<rect x="881" y="535" width="1" height="2"/>
<rect x="881" y="884" width="1" height="2"/>
<rect x="976" y="524" width="1" height="2"/>
<rect x="976" y="535" width="1" height="2"/>
<rect x="976" y="884" width="1" height="2"/>
<rect x="1067" y="524" width="1" height="2"/>
<rect x="1067" y="535" width="1" height="2"/>
<rect x="1067" y="884" width="1" height="2"/>
</g>
<g shape-rendering="crispEdges">
<rect x="1134" y="697" width="4" height="13" fill="#a87070"/>
<rect x="1135" y="698" width="2" height="12" fill="#784c4c"/>
<rect x="1131" y="667" width="4" height="43" fill="#00a86c"/>
<rect x="1132" y="668" width="2" height="42" fill="#00774c"/>
<rect x="1128" y="662" width="4" height="48" fill="#a87070"/>
<rect x="1129" y="663" width="2" height="47" fill="#784c4c"/>
<rect x="1125" y="694" width="4" height="16" fill="#00a86c"/>
<rect x="1126" y="695" width="2" height="15" fill="#00774c"/>
<rect x="1121" y="699" width="5" height="11" fill="#a87070"/>
<rect x="1122" y="700" width="3" height="10" fill="#784c4c"/>
<rect x="1118" y="662" width="4" height="48" fill="#00a86c"/>
<rect x="1119" y="663" width="2" height="47" fill="#00774c"/>
<rect x="1115" y="668" width="4" height="42" fill="#a87070"/>
<rect x="1116" y="669" width="2" height="41" fill="#784c4c"/>
<rect x="1112" y="655" width="4" height="55" fill="#00a86c"/>
<rect x="1113" y="656" width="2" height="54" fill="#00774c"/>
<rect x="1109" y="642" width="4" height="68" fill="#00a86c"/>
<rect x="1110" y="643" width="2" height="67" fill="#00774c"/>
<rect x="1106" y="644" width="4" height="66" fill="#00a86c"/>
<rect x="1107" y="645" width="2" height="65" fill="#00774c"/>
<rect x="1103" y="688" width="4" height="22" fill="#a87070"/>
<rect x="1104" y="689" width="2" height="21" fill="#784c4c"/>
<rect x="1100" y="689" width="4" height="21" fill="#00a86c"/>
<rect x="1101" y="690" width="2" height="20" fill="#00774c"/>
<rect x="1097" y="663" width="4" height="47" fill="#00a86c"/>
<rect x="1098" y="664" width="2" height="46" fill="#00774c"/>
<rect x="1094" y="654" width="4" height="56" fill="#a87070"/>
<rect x="1095" y="655" width="2" height="55" fill="#784c4c"/>
<rect x="1091" y="661" width="4" height="49" fill="#a87070"/>
<rect x="1092" y="662" width="2" height="48" fill="#784c4c"/>
<rect x="1088" y="666" width="4" height="44" fill="#a87070"/>
<rect x="1089" y="667" width="2" height="43" fill="#784c4c"/>
<rect x="1085" y="656" width="4" height="54" fill="#a87070"/>
<rect x="1086" y="657" width="2" height="53" fill="#784c4c"/>
<rect x="1082" y="692" width="4" height="18" fill="#00a86c"/>
<rect x="1083" y="693" width="2" height="17" fill="#00774c"/>
<rect x="1079" y="696" width="4" height="14" fill="#a87070"/>
<rect x="1080" y="697" width="2" height="13" fill="#784c4c"/>
<rect x="1076" y="659" width="4" height="51" fill="#00a86c"/>
<rect x="1077" y="660" width="2" height="50" fill="#00774c"/>
<rect x="1072" y="644" width="5" height="66" fill="#00a86c"/>
<rect x="1073" y="645" width="3" height="65" fill="#00774c"/>
<rect x="1069" y="637" width="4" height="73" fill="#a87070"/>
<rect x="1070" y="638" width="2" height="72" fill="#784c4c"/>
<rect x="1066" y="622" width="4" height="88" fill="#a87070"/>
<rect x="1067" y="623" width="2" height="87" fill="#784c4c"/>
<rect x="1063" y="654" width="4" height="56" fill="#a87070"/>
<rect x="1064" y="655" width="2" height="55" fill="#784c4c"/>
<rect x="1060" y="695" width="4" height="15" fill="#a87070"/>
<rect x="1061" y="696" width="2" height="14" fill="#784c4c"/>
<rect x="1057" y="696" width="4" height="14" fill="#00a86c"/>
<rect x="1058" y="697" width="2" height="13" fill="#00774c"/>
<rect x="1054" y="662" width="4" height="48" fill="#00a86c"/>
<rect x="1055" y="663" width="2" height="47" fill="#00774c"/>
<rect x="1051" y="653" width="4" height="57" fill="#00a86c"/>
<rect x="1052" y="654" width="2" height="56" fill="#00774c"/>
<rect x="1048" y="678" width="4" height="32" fill="#a87070"/>
<rect x="1049" y="679" width="2" height="31" fill="#784c4c"/>
<rect x="1045" y="668" width="4" height="42" fill="#00a86c"/>
<rect x="1046" y="669" width="2" height="41" fill="#00774c"/>
<rect x="1042" y="674" width="4" height="36" fill="#a87070"/>
<rect x="1043" y="675" width="2" height="35" fill="#784c4c"/>
<rect x="1039" y="685" width="4" height="25" fill="#00a86c"/>
<rect x="1040" y="686" width="2" height="24" fill="#00774c"/>
<rect x="1036" y="694" width="4" height="16" fill="#00a86c"/>
<rect x="1037" y="695" width="2" height="15" fill="#00774c"/>
<rect x="1033" y="664" width="4" height="46" fill="#00a86c"/>
<rect x="1034" y="665" width="2" height="45" fill="#00774c"/>
<rect x="1030" y="649" width="4" height="61" fill="#00a86c"/>
<rect x="1031" y="650" width="2" height="60" fill="#00774c"/>
<rect x="1027" y="647" width="4" height="63" fill="#00a86c"/>
<rect x="1028" y="648" width="2" height="62" fill="#00774c"/>
<rect x="1024" y="657" width="4" height="53" fill="#00a86c"/>
<rect x="1025" y="658" width="2" height="52" fill="#00774c"/>
<rect x="1020" y="666" width="5" height="44" fill="#a87070"/>
<rect x="1021" y="667" width="3" height="43" fill="#784c4c"/>
<rect x="1017" y="685" width="4" height="25" fill="#a87070"/>
<rect x="1018" y="686" width="2" height="24" fill="#784c4c"/>
<rect x="1014" y="690" width="4" height="20" fill="#a87070"/>
<rect x="1015" y="691" width="2" height="19" fill="#784c4c"/>
<rect x="1011" y="657" width="4" height="53" fill="#00a86c"/>
<rect x="1012" y="658" width="2" height="52" fill="#00774c"/>
<rect x="1008" y="656" width="4" height="54" fill="#00a86c"/>
<rect x="1009" y="657" width="2" height="53" fill="#00774c"/>
<rect x="1005" y="637" width="4" height="73" fill="#a87070"/>
<rect x="1006" y="638" width="2" height="72" fill="#784c4c"/>
<rect x="1002" y="666" width="4" height="44" fill="#00a86c"/>
<rect x="1003" y="667" width="2" height="43" fill="#00774c"/>
<rect x="999" y="654" width="4" height="56" fill="#00a86c"/>
<rect x="1000" y="655" width="2" height="55" fill="#00774c"/>
<rect x="996" y="685" width="4" height="25" fill="#00a86c"/>
<rect x="997" y="686" width="2" height="24" fill="#00774c"/>
<rect x="993" y="687" width="4" height="23" fill="#00a86c"/>
<rect x="994" y="688" width="2" height="22" fill="#00774c"/>
<rect x="990" y="619" width="4" height="91" fill="#a87070"/>
<rect x="991" y="620" width="2" height="90" fill="#784c4c"/>
<rect x="987" y="659" width="4" height="51" fill="#a87070"/>
<rect x="988" y="660" width="2" height="50" fill="#784c4c"/>
<rect x="984" y="654" width="4" height="56" fill="#00a86c"/>
<rect x="985" y="655" width="2" height="55" fill="#00774c"/>
<rect x="981" y="675" width="4" height="35" fill="#a87070"/>
<rect x="982" y="676" width="2" height="34" fill="#784c4c"/>
<rect x="978" y="679" width="4" height="31" fill="#00a86c"/>
<rect x="979" y="680" width="2" height="30" fill="#00774c"/>
<rect x="975" y="680" width="4" height="30" fill="#a87070"/>
<rect x="976" y="681" width="2" height="29" fill="#784c4c"/>
<rect x="971" y="699" width="5" height="11" fill="#a87070"/>
<rect x="972" y="700" width="3" height="10" fill="#784c4c"/>
<rect x="968" y="664" width="4" height="46" fill="#a87070"/>
<rect x="969" y="665" width="2" height="45" fill="#784c4c"/>
<rect x="965" y="665" width="4" height="45" fill="#00a86c"/>
<rect x="966" y="666" width="2" height="44" fill="#00774c"/>
<rect x="962" y="660" width="4" height="50" fill="#a87070"/>
<rect x="963" y="661" width="2" height="49" fill="#784c4c"/>
<rect x="959" y="658" width="4" height="52" fill="#a87070"/>
<rect x="960" y="659" width="2" height="51" fill="#784c4c"/>
<rect x="956" y="674" width="4" height="36" fill="#a87070"/>
<rect x="957" y="675" width="2" height="35" fill="#784c4c"/>
<rect x="953" y="693" width="4" height="17" fill="#00a86c"/>
<rect x="954" y="694" width="2" height="16" fill="#00774c"/>
<rect x="950" y="690" width="4" height="20" fill="#00a86c"/>
<rect x="951" y="691" width="2" height="19" fill="#00774c"/>
<rect x="947" y="655" width="4" height="55" fill="#00a86c"/>
<rect x="948" y="656" width="2" height="54" fill="#00774c"/>
<rect x="944" y="672" width="4" height="38" fill="#a87070"/>
<rect x="945" y="673" width="2" height="37" fill="#784c4c"/>
<rect x="941" y="660" width="4" height="50" fill="#00a86c"/>
<rect x="942" y="661" width="2" height="49" fill="#00774c"/>
<rect x="938" y="669" width="4" height="41" fill="#a87070"/>
<rect x="939" y="670" width="2" height="40" fill="#784c4c"/>
<rect x="935" y="678" width="4" height="32" fill="#00a86c"/>
<rect x="936" y="679" width="2" height="31" fill="#00774c"/>
<rect x="932" y="691" width="4" height="19" fill="#a87070"/>
<rect x="933" y="692" width="2" height="18" fill="#784c4c"/>
<rect x="929" y="697" width="4" height="13" fill="#00a86c"/>
<rect x="930" y="698" width="2" height="12" fill="#00774c"/>
<rect x="926" y="672" width="4" height="38" fill="#00a86c"/>
<rect x="927" y="673" width="2" height="37" fill="#00774c"/>
<rect x="922" y="664" width="5" height="46" fill="#a87070"/>
<rect x="923" y="665" width="3" height="45" fill="#784c4c"/>
<rect x="919" y="669" width="4" height="41" fill="#a87070"/>
<rect x="920" y="670" width="2" height="40" fill="#784c4c"/>
<rect x="916" y="672" width="4" height="38" fill="#00a86c"/>
<rect x="917" y="673" width="2" height="37" fill="#00774c"/>
<rect x="913" y="666" width="4" height="44" fill="#00a86c"/>
<rect x="914" y="667" width="2" height="43" fill="#00774c"/>
<rect x="910" y="686" width="4" height="24" fill="#a87070"/>
<rect x="911" y="687" width="2" height="23" fill="#784c4c"/>
<rect x="907" y="694" width="4" height="16" fill="#00a86c"/>
<rect x="908" y="695" width="2" height="15" fill="#00774c"/>
<rect x="904" y="667" width="4" height="43" fill="#a87070"/>
<rect x="905" y="668" width="2" height="42" fill="#784c4c"/>
<rect x="901" y="647" width="4" height="63" fill="#00a86c"/>
<rect x="902" y="648" width="2" height="62" fill="#00774c"/>
<rect x="898" y="658" width="4" height="52" fill="#a87070"/>
<rect x="899" y="659" width="2" height="51" fill="#784c4c"/>
<rect x="895" y="652" width="4" height="58" fill="#00a86c"/>
<rect x="896" y="653" width="2" height="57" fill="#00774c"/>
<rect x="892" y="557" width="4" height="153" fill="#a87070"/>
<rect x="893" y="558" width="2" height="152" fill="#784c4c"/>
<rect x="889" y="673" width="4" height="37" fill="#a87070"/>
<rect x="890" y="674" width="2" height="36" fill="#784c4c"/>
<rect x="886" y="675" width="4" height="35" fill="#a87070"/>
<rect x="887" y="676" width="2" height="34" fill="#784c4c"/>
<rect x="883" y="656" width="4" height="54" fill="#a87070"/>
<rect x="884" y="657" width="2" height="53" fill="#784c4c"/>
<rect x="880" y="661" width="4" height="49" fill="#00a86c"/>
<rect x="881" y="662" width="2" height="48" fill="#00774c"/>
<rect x="877" y="678" width="4" height="32" fill="#a87070"/>
<rect x="878" y="679" width="2" height="31" fill="#784c4c"/>
<rect x="873" y="678" width="5" height="32" fill="#a87070"/>
<rect x="874" y="679" width="3" height="31" fill="#784c4c"/>
<rect x="870" y="666" width="4" height="44" fill="#a87070"/>
<rect x="871" y="667" width="2" height="43" fill="#784c4c"/>
<rect x="867" y="694" width="4" height="16" fill="#00a86c"/>
<rect x="868" y="695" width="2" height="15" fill="#00774c"/>
<rect x="864" y="675" width="4" height="35" fill="#a87070"/>
<rect x="865" y="676" width="2" height="34" fill="#784c4c"/>
<rect x="861" y="678" width="4" height="32" fill="#00a86c"/>
<rect x="862" y="679" width="2" height="31" fill="#00774c"/>
<rect x="858" y="671" width="4" height="39" fill="#00a86c"/>
<rect x="859" y="672" width="2" height="38" fill="#00774c"/>
<rect x="855" y="681" width="4" height="29" fill="#a87070"/>
<rect x="856" y="682" width="2" height="28" fill="#784c4c"/>
<rect x="852" y="671" width="4" height="39" fill="#a87070"/>
<rect x="853" y="672" width="2" height="38" fill="#784c4c"/>
<rect x="849" y="675" width="4" height="35" fill="#a87070"/>
<rect x="850" y="676" width="2" height="34" fill="#784c4c"/>
<rect x="846" y="686" width="4" height="24" fill="#00a86c"/>
<rect x="847" y="687" width="2" height="23" fill="#00774c"/>
<rect x="843" y="693" width="4" height="17" fill="#00a86c"/>
<rect x="844" y="694" width="2" height="16" fill="#00774c"/>
<rect x="840" y="666" width="4" height="44" fill="#00a86c"/>
<rect x="841" y="667" width="2" height="43" fill="#00774c"/>
<rect x="837" y="681" width="4" height="29" fill="#a87070"/>
<rect x="838" y="682" width="2" height="28" fill="#784c4c"/>
<rect x="834" y="673" width="4" height="37" fill="#a87070"/>
<rect x="835" y="674" width="2" height="36" fill="#784c4c"/>
<rect x="831" y="659" width="4" height="51" fill="#00a86c"/>
<rect x="832" y="660" width="2" height="50" fill="#00774c"/>
<rect x="828" y="653" width="4" height="57" fill="#00a86c"/>
<rect x="829" y="654" width="2" height="56" fill="#00774c"/>
<rect x="824" y="683" width="5" height="27" fill="#00a86c"/>
<rect x="825" y="684" width="3" height="26" fill="#00774c"/>
<rect x="821" y="691" width="4" height="19" fill="#00a86c"/>
<rect x="822" y="692" width="2" height="18" fill="#00774c"/>
<rect x="818" y="674" width="4" height="36" fill="#00a86c"/>
<rect x="819" y="675" width="2" height="35" fill="#00774c"/>
<rect x="815" y="671" width="4" height="39" fill="#a87070"/>
<rect x="816" y="672" width="2" height="38" fill="#784c4c"/>
<rect x="812" y="673" width="4" height="37" fill="#a87070"/>
<rect x="813" y="674" width="2" height="36" fill="#784c4c"/>
<rect x="809" y="671" width="4" height="39" fill="#00a86c"/>
<rect x="810" y="672" width="2" height="38" fill="#00774c"/>
<rect x="806" y="653" width="4" height="57" fill="#00a86c"/>
<rect x="807" y="654" width="2" height="56" fill="#00774c"/>
<rect x="803" y="686" width="4" height="24" fill="#a87070"/>
<rect x="804" y="687" width="2" height="23" fill="#784c4c"/>
<rect x="800" y="685" width="4" height="25" fill="#00a86c"/>
<rect x="801" y="686" width="2" height="24" fill="#00774c"/>
<rect x="797" y="635" width="4" height="75" fill="#a87070"/>
<rect x="798" y="636" width="2" height="74" fill="#784c4c"/>
<rect x="794" y="657" width="4" height="53" fill="#a87070"/>
<rect x="795" y="658" width="2" height="52" fill="#784c4c"/>
<rect x="791" y="674" width="4" height="36" fill="#a87070"/>
<rect x="792" y="675" width="2" height="35" fill="#784c4c"/>
<rect x="788" y="683" width="4" height="27" fill="#a87070"/>
<rect x="789" y="684" width="2" height="26" fill="#784c4c"/>
<rect x="785" y="676" width="4" height="34" fill="#00a86c"/>
<rect x="786" y="677" width="2" height="33" fill="#00774c"/>
<rect x="782" y="693" width="4" height="17" fill="#00a86c"/>
<rect x="783" y="694" width="2" height="16" fill="#00774c"/>
<rect x="779" y="698" width="4" height="12" fill="#00a86c"/>
<rect x="780" y="699" width="2" height="11" fill="#00774c"/>
<rect x="775" y="678" width="5" height="32" fill="#a87070"/>
<rect x="776" y="679" width="3" height="31" fill="#784c4c"/>
<rect x="772" y="680" width="4" height="30" fill="#00a86c"/>
<rect x="773" y="681" width="2" height="29" fill="#00774c"/>
<rect x="769" y="679" width="4" height="31" fill="#a87070"/>
<rect x="770" y="680" width="2" height="30" fill="#784c4c"/>
<rect x="766" y="668" width="4" height="42" fill="#00a86c"/>
<rect x="767" y="669" width="2" height="41" fill="#00774c"/>
<rect x="763" y="647" width="4" height="63" fill="#a87070"/>
<rect x="764" y="648" width="2" height="62" fill="#784c4c"/>
<rect x="760" y="701" width="4" height="9" fill="#a87070"/>
<rect x="761" y="702" width="2" height="8" fill="#784c4c"/>
<rect x="757" y="702" width="4" height="8" fill="#00a86c"/>
<rect x="758" y="703" width="2" height="7" fill="#00774c"/>
<rect x="754" y="680" width="4" height="30" fill="#a87070"/>
<rect x="755" y="681" width="2" height="29" fill="#784c4c"/>
<rect x="751" y="680" width="4" height="30" fill="#a87070"/>
<rect x="752" y="681" width="2" height="29" fill="#784c4c"/>
<rect x="748" y="692" width="4" height="18" fill="#a87070"/>
<rect x="749" y="693" width="2" height="17" fill="#784c4c"/>
<rect x="745" y="664" width="4" height="46" fill="#a87070"/>
<rect x="746" y="665" width="2" height="45" fill="#784c4c"/>
<rect x="742" y="672" width="4" height="38" fill="#a87070"/>
<rect x="743" y="673" width="2" height="37" fill="#784c4c"/>
<rect x="739" y="701" width="4" height="9" fill="#00a86c"/>
<rect x="740" y="702" width="2" height="8" fill="#00774c"/>
<rect x="736" y="702" width="4" height="8" fill="#00a86c"/>
<rect x="737" y="703" width="2" height="7" fill="#00774c"/>
<rect x="733" y="677" width="4" height="33" fill="#a87070"/>
<rect x="734" y="678" width="2" height="32" fill="#784c4c"/>
<rect x="730" y="680" width="4" height="30" fill="#a87070"/>
<rect x="731" y="681" width="2" height="29" fill="#784c4c"/>
<rect x="726" y="669" width="5" height="41" fill="#00a86c"/>
<rect x="727" y="670" width="3" height="40" fill="#00774c"/>
<rect x="723" y="668" width="4" height="42" fill="#a87070"/>
<rect x="724" y="669" width="2" height="41" fill="#784c4c"/>
<rect x="720" y="694" width="4" height="16" fill="#a87070"/>
<rect x="721" y="695" width="2" height="15" fill="#784c4c"/>
<rect x="717" y="703" width="4" height="7" fill="#00a86c"/>
<rect x="718" y="704" width="2" height="6" fill="#00774c"/>
<rect x="714" y="702" width="4" height="8" fill="#a87070"/>
<rect x="715" y="703" width="2" height="7" fill="#784c4c"/>
<rect x="711" y="673" width="4" height="37" fill="#a87070"/>
<rect x="712" y="674" width="2" height="36" fill="#784c4c"/>
<rect x="708" y="689" width="4" height="21" fill="#a87070"/>
<rect x="709" y="690" width="2" height="20" fill="#784c4c"/>
<rect x="705" y="681" width="4" height="29" fill="#00a86c"/>
<rect x="706" y="682" width="2" height="28" fill="#00774c"/>
<rect x="702" y="671" width="4" height="39" fill="#00a86c"/>
<rect x="703" y="672" width="2" height="38" fill="#00774c"/>
<rect x="699" y="680" width="4" height="30" fill="#00a86c"/>
<rect x="700" y="681" width="2" height="29" fill="#00774c"/>
<rect x="696" y="701" width="4" height="9" fill="#00a86c"/>
<rect x="697" y="702" width="2" height="8" fill="#00774c"/>
<rect x="693" y="704" width="4" height="6" fill="#00a86c"/>
<rect x="694" y="705" width="2" height="5" fill="#00774c"/>
<rect x="690" y="684" width="4" height="26" fill="#a87070"/>
<rect x="691" y="685" width="2" height="25" fill="#784c4c"/>
<rect x="687" y="682" width="4" height="28" fill="#00a86c"/>
<rect x="688" y="683" width="2" height="27" fill="#00774c"/>
<rect x="684" y="688" width="4" height="22" fill="#a87070"/>
<rect x="685" y="689" width="2" height="21" fill="#784c4c"/>
<rect x="681" y="681" width="4" height="29" fill="#a87070"/>
<rect x="682" y="682" width="2" height="28" fill="#784c4c"/>
<rect x="677" y="692" width="5" height="18" fill="#00a86c"/>
<rect x="678" y="693" width="3" height="17" fill="#00774c"/>
<rect x="674" y="702" width="4" height="8" fill="#a87070"/>
<rect x="675" y="703" width="2" height="7" fill="#784c4c"/>
<rect x="671" y="702" width="4" height="8" fill="#00a86c"/>
<rect x="672" y="703" width="2" height="7" fill="#00774c"/>
<rect x="668" y="686" width="4" height="24" fill="#00a86c"/>
<rect x="669" y="687" width="2" height="23" fill="#00774c"/>
<rect x="665" y="673" width="4" height="37" fill="#a87070"/>
<rect x="666" y="674" width="2" height="36" fill="#784c4c"/>
<rect x="662" y="680" width="4" height="30" fill="#a87070"/>
<rect x="663" y="681" width="2" height="29" fill="#784c4c"/>
<rect x="659" y="670" width="4" height="40" fill="#a87070"/>
<rect x="660" y="671" width="2" height="39" fill="#784c4c"/>
<rect x="656" y="660" width="4" height="50" fill="#00a86c"/>
<rect x="657" y="661" width="2" height="49" fill="#00774c"/>
<rect x="653" y="697" width="4" height="13" fill="#a87070"/>
<rect x="654" y="698" width="2" height="12" fill="#784c4c"/>
<rect x="650" y="698" width="4" height="12" fill="#a87070"/>
<rect x="651" y="699" width="2" height="11" fill="#784c4c"/>
<rect x="647" y="679" width="4" height="31" fill="#00a86c"/>
<rect x="648" y="680" width="2" height="30" fill="#00774c"/>
<rect x="644" y="678" width="4" height="32" fill="#a87070"/>
<rect x="645" y="679" width="2" height="31" fill="#784c4c"/>
<rect x="641" y="657" width="4" height="53" fill="#00a86c"/>
<rect x="642" y="658" width="2" height="52" fill="#00774c"/>
<rect x="638" y="675" width="4" height="35" fill="#a87070"/>
<rect x="639" y="676" width="2" height="34" fill="#784c4c"/>
<rect x="635" y="682" width="4" height="28" fill="#00a86c"/>
<rect x="636" y="683" width="2" height="27" fill="#00774c"/>
<rect x="632" y="699" width="4" height="11" fill="#00a86c"/>
<rect x="633" y="700" width="2" height="10" fill="#00774c"/>
<rect x="628" y="699" width="5" height="11" fill="#00a86c"/>
<rect x="629" y="700" width="3" height="10" fill="#00774c"/>
<rect x="625" y="676" width="4" height="34" fill="#a87070"/>
<rect x="626" y="677" width="2" height="33" fill="#784c4c"/>
<rect x="622" y="686" width="4" height="24" fill="#00a86c"/>
<rect x="623" y="687" width="2" height="23" fill="#00774c"/>
<rect x="619" y="685" width="4" height="25" fill="#a87070"/>
<rect x="620" y="686" width="2" height="24" fill="#784c4c"/>
<rect x="616" y="682" width="4" height="28" fill="#a87070"/>
<rect x="617" y="683" width="2" height="27" fill="#784c4c"/>
<rect x="613" y="678" width="4" height="32" fill="#a87070"/>
<rect x="614" y="679" width="2" height="31" fill="#784c4c"/>
<rect x="610" y="693" width="4" height="17" fill="#00a86c"/>
<rect x="611" y="694" width="2" height="16" fill="#00774c"/>
<rect x="607" y="688" width="4" height="22" fill="#00a86c"/>
<rect x="608" y="689" width="2" height="21" fill="#00774c"/>
<rect x="604" y="664" width="4" height="46" fill="#00a86c"/>
<rect x="605" y="665" width="2" height="45" fill="#00774c"/>
<rect x="601" y="671" width="4" height="39" fill="#00a86c"/>
<rect x="602" y="672" width="2" height="38" fill="#00774c"/>
<rect x="598" y="642" width="4" height="68" fill="#a87070"/>
<rect x="599" y="643" width="2" height="67" fill="#784c4c"/>
<rect x="595" y="656" width="4" height="54" fill="#a87070"/>
<rect x="596" y="657" width="2" height="53" fill="#784c4c"/>
<rect x="592" y="681" width="4" height="29" fill="#00a86c"/>
<rect x="593" y="682" width="2" height="28" fill="#00774c"/>
<rect x="589" y="696" width="4" height="14" fill="#a87070"/>
<rect x="590" y="697" width="2" height="13" fill="#784c4c"/>
<rect x="586" y="693" width="4" height="17" fill="#a87070"/>
<rect x="587" y="694" width="2" height="16" fill="#784c4c"/>
<rect x="583" y="684" width="4" height="26" fill="#a87070"/>
<rect x="584" y="685" width="2" height="25" fill="#784c4c"/>
<rect x="579" y="675" width="5" height="35" fill="#00a86c"/>
<rect x="580" y="676" width="3" height="34" fill="#00774c"/>
<rect x="576" y="672" width="4" height="38" fill="#a87070"/>
<rect x="577" y="673" width="2" height="37" fill="#784c4c"/>
<rect x="573" y="687" width="4" height="23" fill="#a87070"/>
<rect x="574" y="688" width="2" height="22" fill="#784c4c"/>
<rect x="570" y="680" width="4" height="30" fill="#00a86c"/>
<rect x="571" y="681" width="2" height="29" fill="#00774c"/>
<rect x="567" y="692" width="4" height="18" fill="#a87070"/>
<rect x="568" y="693" width="2" height="17" fill="#784c4c"/>
<rect x="564" y="692" width="4" height="18" fill="#00a86c"/>
<rect x="565" y="693" width="2" height="17" fill="#00774c"/>
<rect x="561" y="650" width="4" height="60" fill="#00a86c"/>
<rect x="562" y="651" width="2" height="59" fill="#00774c"/>
<rect x="558" y="669" width="4" height="41" fill="#00a86c"/>
<rect x="559" y="670" width="2" height="40" fill="#00774c"/>
<rect x="555" y="656" width="4" height="54" fill="#a87070"/>
<rect x="556" y="657" width="2" height="53" fill="#784c4c"/>
<rect x="552" y="663" width="4" height="47" fill="#00a86c"/>
<rect x="553" y="664" width="2" height="46" fill="#00774c"/>
<rect x="549" y="656" width="4" height="54" fill="#a87070"/>
<rect x="550" y="657" width="2" height="53" fill="#784c4c"/>
<rect x="546" y="656" width="4" height="54" fill="#00a86c"/>
<rect x="547" y="657" width="2" height="53" fill="#00774c"/>
<rect x="543" y="635" width="4" height="75" fill="#a87070"/>
<rect x="544" y="636" width="2" height="74" fill="#784c4c"/>
<rect x="540" y="645" width="4" height="65" fill="#a87070"/>
<rect x="541" y="646" width="2" height="64" fill="#784c4c"/>
<rect x="537" y="677" width="4" height="33" fill="#a87070"/>
<rect x="538" y="678" width="2" height="32" fill="#784c4c"/>
<rect x="534" y="661" width="4" height="49" fill="#00a86c"/>
<rect x="535" y="662" width="2" height="48" fill="#00774c"/>
<rect x="530" y="665" width="5" height="45" fill="#a87070"/>
<rect x="531" y="666" width="3" height="44" fill="#784c4c"/>
<rect x="527" y="662" width="4" height="48" fill="#00a86c"/>
<rect x="528" y="663" width="2" height="47" fill="#00774c"/>
<rect x="524" y="692" width="4" height="18" fill="#00a86c"/>
<rect x="525" y="693" width="2" height="17" fill="#00774c"/>
<rect x="521" y="695" width="4" height="15" fill="#00a86c"/>
<rect x="522" y="696" width="2" height="14" fill="#00774c"/>
<rect x="518" y="667" width="4" height="43" fill="#a87070"/>
<rect x="519" y="668" width="2" height="42" fill="#784c4c"/>
<rect x="515" y="662" width="4" height="48" fill="#00a86c"/>
<rect x="516" y="663" width="2" height="47" fill="#00774c"/>
<rect x="512" y="673" width="4" height="37" fill="#00a86c"/>
<rect x="513" y="674" width="2" height="36" fill="#00774c"/>
<rect x="509" y="646" width="4" height="64" fill="#a87070"/>
<rect x="510" y="647" width="2" height="63" fill="#784c4c"/>
<rect x="506" y="672" width="4" height="38" fill="#a87070"/>
<rect x="507" y="673" width="2" height="37" fill="#784c4c"/>
<rect x="503" y="696" width="4" height="14" fill="#00a86c"/>
<rect x="504" y="697" width="2" height="13" fill="#00774c"/>
<rect x="500" y="700" width="4" height="10" fill="#a87070"/>
<rect x="501" y="701" width="2" height="9" fill="#784c4c"/>
<rect x="497" y="687" width="4" height="23" fill="#a87070"/>
<rect x="498" y="688" width="2" height="22" fill="#784c4c"/>
<rect x="494" y="669" width="4" height="41" fill="#00a86c"/>
<rect x="495" y="670" width="2" height="40" fill="#00774c"/>
<rect x="491" y="657" width="4" height="53" fill="#a87070"/>
<rect x="492" y="658" width="2" height="52" fill="#784c4c"/>
<rect x="488" y="667" width="4" height="43" fill="#00a86c"/>
<rect x="489" y="668" width="2" height="42" fill="#00774c"/>
<rect x="485" y="650" width="4" height="60" fill="#00a86c"/>
<rect x="486" y="651" width="2" height="59" fill="#00774c"/>
<rect x="481" y="685" width="5" height="25" fill="#00a86c"/>
<rect x="482" y="686" width="3" height="24" fill="#00774c"/>
<rect x="478" y="684" width="4" height="26" fill="#00a86c"/>
<rect x="479" y="685" width="2" height="25" fill="#00774c"/>
<rect x="475" y="661" width="4" height="49" fill="#a87070"/>
<rect x="476" y="662" width="2" height="48" fill="#784c4c"/>
<rect x="472" y="660" width="4" height="50" fill="#a87070"/>
<rect x="473" y="661" width="2" height="49" fill="#784c4c"/>
<rect x="469" y="619" width="4" height="91" fill="#00a86c"/>
<rect x="470" y="620" width="2" height="90" fill="#00774c"/>
<rect x="466" y="611" width="4" height="99" fill="#a87070"/>
<rect x="467" y="612" width="2" height="98" fill="#784c4c"/>
<rect x="463" y="659" width="4" height="51" fill="#a87070"/>
<rect x="464" y="660" width="2" height="50" fill="#784c4c"/>
<rect x="460" y="671" width="4" height="39" fill="#00a86c"/>
<rect x="461" y="672" width="2" height="38" fill="#00774c"/>
<rect x="457" y="665" width="4" height="45" fill="#a87070"/>
<rect x="458" y="666" width="2" height="44" fill="#784c4c"/>
<rect x="454" y="614" width="4" height="96" fill="#a87070"/>
<rect x="455" y="615" width="2" height="95" fill="#784c4c"/>
<rect x="451" y="631" width="4" height="79" fill="#a87070"/>
<rect x="452" y="632" width="2" height="78" fill="#784c4c"/>
<rect x="448" y="656" width="4" height="54" fill="#00a86c"/>
<rect x="449" y="657" width="2" height="53" fill="#00774c"/>
<rect x="445" y="633" width="4" height="77" fill="#a87070"/>
<rect x="446" y="634" width="2" height="76" fill="#784c4c"/>
<rect x="442" y="628" width="4" height="82" fill="#00a86c"/>
<rect x="443" y="629" width="2" height="81" fill="#00774c"/>
<rect x="439" y="673" width="4" height="37" fill="#00a86c"/>
<rect x="440" y="674" width="2" height="36" fill="#00774c"/>
<rect x="436" y="687" width="4" height="23" fill="#00a86c"/>
<rect x="437" y="688" width="2" height="22" fill="#00774c"/>
<rect x="433" y="632" width="4" height="78" fill="#00a86c"/>
<rect x="434" y="633" width="2" height="77" fill="#00774c"/>
<rect x="429" y="655" width="5" height="55" fill="#00a86c"/>
<rect x="430" y="656" width="3" height="54" fill="#00774c"/>
<rect x="426" y="621" width="4" height="89" fill="#00a86c"/>
<rect x="427" y="622" width="2" height="88" fill="#00774c"/>
<rect x="423" y="544" width="4" height="166" fill="#a87070"/>
<rect x="424" y="545" width="2" height="165" fill="#784c4c"/>
<rect x="420" y="607" width="4" height="103" fill="#00a86c"/>
<rect x="421" y="608" width="2" height="102" fill="#00774c"/>
<rect x="417" y="683" width="4" height="27" fill="#00a86c"/>
<rect x="418" y="684" width="2" height="26" fill="#00774c"/>
<rect x="414" y="683" width="4" height="27" fill="#a87070"/>
<rect x="415" y="684" width="2" height="26" fill="#784c4c"/>
<rect x="411" y="641" width="4" height="69" fill="#00a86c"/>
<rect x="412" y="642" width="2" height="68" fill="#00774c"/>
<rect x="408" y="599" width="4" height="111" fill="#a87070"/>
<rect x="409" y="600" width="2" height="110" fill="#784c4c"/>
<rect x="405" y="577" width="4" height="133" fill="#00a86c"/>
<rect x="406" y="578" width="2" height="132" fill="#00774c"/>
<rect x="402" y="628" width="4" height="82" fill="#00a86c"/>
<rect x="403" y="629" width="2" height="81" fill="#00774c"/>
<rect x="399" y="647" width="4" height="63" fill="#00a86c"/>
<rect x="400" y="648" width="2" height="62" fill="#00774c"/>
<rect x="396" y="693" width="4" height="17" fill="#00a86c"/>
<rect x="397" y="694" width="2" height="16" fill="#00774c"/>
<rect x="393" y="696" width="4" height="14" fill="#00a86c"/>
<rect x="394" y="697" width="2" height="13" fill="#00774c"/>
<rect x="390" y="675" width="4" height="35" fill="#a87070"/>
<rect x="391" y="676" width="2" height="34" fill="#784c4c"/>
<rect x="387" y="670" width="4" height="40" fill="#a87070"/>
<rect x="388" y="671" width="2" height="39" fill="#784c4c"/>
<rect x="384" y="667" width="4" height="43" fill="#a87070"/>
<rect x="385" y="668" width="2" height="42" fill="#784c4c"/>
<rect x="380" y="658" width="5" height="52" fill="#00a86c"/>
<rect x="381" y="659" width="3" height="51" fill="#00774c"/>
<rect x="377" y="685" width="4" height="25" fill="#a87070"/>
<rect x="378" y="686" width="2" height="24" fill="#784c4c"/>
<rect x="374" y="690" width="4" height="20" fill="#00a86c"/>
<rect x="375" y="691" width="2" height="19" fill="#00774c"/>
<rect x="371" y="686" width="4" height="24" fill="#a87070"/>
<rect x="372" y="687" width="2" height="23" fill="#784c4c"/>
<rect x="368" y="667" width="4" height="43" fill="#00a86c"/>
<rect x="369" y="668" width="2" height="42" fill="#00774c"/>
<rect x="365" y="654" width="4" height="56" fill="#00a86c"/>
<rect x="366" y="655" width="2" height="55" fill="#00774c"/>
<rect x="362" y="652" width="4" height="58" fill="#00a86c"/>
<rect x="363" y="653" width="2" height="57" fill="#00774c"/>
<rect x="359" y="655" width="4" height="55" fill="#a87070"/>
<rect x="360" y="656" width="2" height="54" fill="#784c4c"/>
<rect x="356" y="648" width="4" height="62" fill="#00a86c"/>
<rect x="357" y="649" width="2" height="61" fill="#00774c"/>
<rect x="353" y="684" width="4" height="26" fill="#00a86c"/>
<rect x="354" y="685" width="2" height="25" fill="#00774c"/>
<rect x="350" y="688" width="4" height="22" fill="#00a86c"/>
<rect x="351" y="689" width="2" height="21" fill="#00774c"/>
<rect x="347" y="644" width="4" height="66" fill="#00a86c"/>
<rect x="348" y="645" width="2" height="65" fill="#00774c"/>
<rect x="344" y="658" width="4" height="52" fill="#00a86c"/>
<rect x="345" y="659" width="2" height="51" fill="#00774c"/>
<rect x="341" y="670" width="4" height="40" fill="#00a86c"/>
<rect x="342" y="671" width="2" height="39" fill="#00774c"/>
<rect x="338" y="680" width="4" height="30" fill="#00a86c"/>
<rect x="339" y="681" width="2" height="29" fill="#00774c"/>
<rect x="335" y="677" width="4" height="33" fill="#00a86c"/>
<rect x="336" y="678" width="2" height="32" fill="#00774c"/>
<rect x="331" y="697" width="5" height="13" fill="#a87070"/>
<rect x="332" y="698" width="3" height="12" fill="#784c4c"/>
<rect x="328" y="700" width="4" height="10" fill="#a87070"/>
<rect x="329" y="701" width="2" height="9" fill="#784c4c"/>
<rect x="325" y="675" width="4" height="35" fill="#00a86c"/>
<rect x="326" y="676" width="2" height="34" fill="#00774c"/>
<rect x="322" y="672" width="4" height="38" fill="#00a86c"/>
<rect x="323" y="673" width="2" height="37" fill="#00774c"/>
<rect x="319" y="658" width="4" height="52" fill="#a87070"/>
<rect x="320" y="659" width="2" height="51" fill="#784c4c"/>
<rect x="316" y="665" width="4" height="45" fill="#a87070"/>
<rect x="317" y="666" width="2" height="44" fill="#784c4c"/>
<rect x="313" y="673" width="4" height="37" fill="#00a86c"/>
<rect x="314" y="674" width="2" height="36" fill="#00774c"/>
<rect x="310" y="688" width="4" height="22" fill="#a87070"/>
<rect x="311" y="689" width="2" height="21" fill="#784c4c"/>
<rect x="307" y="696" width="4" height="14" fill="#00a86c"/>
<rect x="308" y="697" width="2" height="13" fill="#00774c"/>
<rect x="304" y="654" width="4" height="56" fill="#00a86c"/>
<rect x="305" y="655" width="2" height="55" fill="#00774c"/>
<rect x="301" y="672" width="4" height="38" fill="#a87070"/>
<rect x="302" y="673" width="2" height="37" fill="#784c4c"/>
<rect x="298" y="661" width="4" height="49" fill="#00a86c"/>
<rect x="299" y="662" width="2" height="48" fill="#00774c"/>
<rect x="295" y="650" width="4" height="60" fill="#00a86c"/>
<rect x="296" y="651" width="2" height="59" fill="#00774c"/>
<rect x="292" y="637" width="4" height="73" fill="#a87070"/>
<rect x="293" y="638" width="2" height="72" fill="#784c4c"/>
<rect x="289" y="698" width="4" height="12" fill="#a87070"/>
<rect x="290" y="699" width="2" height="11" fill="#784c4c"/>
<rect x="286" y="692" width="4" height="18" fill="#00a86c"/>
<rect x="287" y="693" width="2" height="17" fill="#00774c"/>
<rect x="282" y="651" width="5" height="59" fill="#00a86c"/>
<rect x="283" y="652" width="3" height="58" fill="#00774c"/>
<rect x="279" y="651" width="4" height="59" fill="#a87070"/>
<rect x="280" y="652" width="2" height="58" fill="#784c4c"/>
<rect x="276" y="667" width="4" height="43" fill="#a87070"/>
<rect x="277" y="668" width="2" height="42" fill="#784c4c"/>
<rect x="273" y="662" width="4" height="48" fill="#00a86c"/>
<rect x="274" y="663" width="2" height="47" fill="#00774c"/>
<rect x="270" y="678" width="4" height="32" fill="#00a86c"/>
<rect x="271" y="679" width="2" height="31" fill="#00774c"/>
<rect x="267" y="681" width="4" height="29" fill="#a87070"/>
<rect x="268" y="682" width="2" height="28" fill="#784c4c"/>
<rect x="264" y="680" width="4" height="30" fill="#00a86c"/>
<rect x="265" y="681" width="2" height="29" fill="#00774c"/>
<rect x="261" y="596" width="4" height="114" fill="#a87070"/>
<rect x="262" y="597" width="2" height="113" fill="#784c4c"/>
<rect x="258" y="609" width="4" height="101" fill="#a87070"/>
<rect x="259" y="610" width="2" height="100" fill="#784c4c"/>
<rect x="255" y="605" width="4" height="105" fill="#00a86c"/>
<rect x="256" y="606" width="2" height="104" fill="#00774c"/>
<rect x="252" y="623" width="4" height="87" fill="#a87070"/>
<rect x="253" y="624" width="2" height="86" fill="#784c4c"/>
<rect x="249" y="624" width="4" height="86" fill="#00a86c"/>
<rect x="250" y="625" width="2" height="85" fill="#00774c"/>
<rect x="246" y="683" width="4" height="27" fill="#a87070"/>
<rect x="247" y="684" width="2" height="26" fill="#784c4c"/>
<rect x="243" y="688" width="4" height="22" fill="#a87070"/>
<rect x="244" y="689" width="2" height="21" fill="#784c4c"/>
<rect x="240" y="639" width="4" height="71" fill="#a87070"/>
<rect x="241" y="640" width="2" height="70" fill="#784c4c"/>
<rect x="237" y="645" width="4" height="65" fill="#00a86c"/>
<rect x="238" y="646" width="2" height="64" fill="#00774c"/>
<rect x="233" y="603" width="5" height="107" fill="#a87070"/>
<rect x="234" y="604" width="3" height="106" fill="#784c4c"/>
<rect x="230" y="635" width="4" height="75" fill="#00a86c"/>
<rect x="231" y="636" width="2" height="74" fill="#00774c"/>
<rect x="227" y="684" width="4" height="26" fill="#00a86c"/>
<rect x="228" y="685" width="2" height="25" fill="#00774c"/>
<rect x="224" y="682" width="4" height="28" fill="#00a86c"/>
<rect x="225" y="683" width="2" height="27" fill="#00774c"/>
<rect x="221" y="682" width="4" height="28" fill="#00a86c"/>
<rect x="222" y="683" width="2" height="27" fill="#00774c"/>
<rect x="218" y="665" width="4" height="45" fill="#a87070"/>
<rect x="219" y="666" width="2" height="44" fill="#784c4c"/>
<rect x="215" y="672" width="4" height="38" fill="#a87070"/>
<rect x="216" y="673" width="2" height="37" fill="#784c4c"/>
<rect x="212" y="674" width="4" height="36" fill="#00a86c"/>
<rect x="213" y="675" width="2" height="35" fill="#00774c"/>
<rect x="209" y="670" width="4" height="40" fill="#a87070"/>
<rect x="210" y="671" width="2" height="39" fill="#784c4c"/>
<rect x="206" y="690" width="4" height="20" fill="#00a86c"/>
<rect x="207" y="691" width="2" height="19" fill="#00774c"/>
<rect x="203" y="691" width="4" height="19" fill="#a87070"/>
<rect x="204" y="692" width="2" height="18" fill="#784c4c"/>
<rect x="200" y="695" width="4" height="15" fill="#a87070"/>
<rect x="201" y="696" width="2" height="14" fill="#784c4c"/>
<rect x="197" y="677" width="4" height="33" fill="#00a86c"/>
<rect x="198" y="678" width="2" height="32" fill="#00774c"/>
<rect x="194" y="671" width="4" height="39" fill="#00a86c"/>
<rect x="195" y="672" width="2" height="38" fill="#00774c"/>
<rect x="191" y="656" width="4" height="54" fill="#00a86c"/>
<rect x="192" y="657" width="2" height="53" fill="#00774c"/>
<rect x="188" y="669" width="4" height="41" fill="#a87070"/>
<rect x="189" y="670" width="2" height="40" fill="#784c4c"/>
<rect x="184" y="667" width="5" height="43" fill="#00a86c"/>
<rect x="185" y="668" width="3" height="42" fill="#00774c"/>
<rect x="181" y="685" width="4" height="25" fill="#a87070"/>
<rect x="182" y="686" width="2" height="24" fill="#784c4c"/>
<rect x="178" y="692" width="4" height="18" fill="#00a86c"/>
<rect x="179" y="693" width="2" height="17" fill="#00774c"/>
<rect x="175" y="677" width="4" height="33" fill="#a87070"/>
<rect x="176" y="678" width="2" height="32" fill="#784c4c"/>
<rect x="172" y="665" width="4" height="45" fill="#00a86c"/>
<rect x="173" y="666" width="2" height="44" fill="#00774c"/>
<rect x="169" y="662" width="4" height="48" fill="#00a86c"/>
<rect x="170" y="663" width="2" height="47" fill="#00774c"/>
<rect x="166" y="669" width="4" height="41" fill="#00a86c"/>
<rect x="167" y="670" width="2" height="40" fill="#00774c"/>
<rect x="163" y="633" width="4" height="77" fill="#a87070"/>
<rect x="164" y="634" width="2" height="76" fill="#784c4c"/>
<rect x="160" y="695" width="4" height="15" fill="#00a86c"/>
<rect x="161" y="696" width="2" height="14" fill="#00774c"/>
<rect x="157" y="690" width="4" height="20" fill="#a87070"/>
<rect x="158" y="691" width="2" height="19" fill="#784c4c"/>
<rect x="154" y="671" width="4" height="39" fill="#00a86c"/>
<rect x="155" y="672" width="2" height="38" fill="#00774c"/>
<rect x="151" y="670" width="4" height="40" fill="#a87070"/>
<rect x="152" y="671" width="2" height="39" fill="#784c4c"/>
<rect x="148" y="659" width="4" height="51" fill="#a87070"/>
<rect x="149" y="660" width="2" height="50" fill="#784c4c"/>
<rect x="145" y="642" width="4" height="68" fill="#00a86c"/>
<rect x="146" y="643" width="2" height="67" fill="#00774c"/>
<rect x="142" y="646" width="4" height="64" fill="#00a86c"/>
<rect x="143" y="647" width="2" height="63" fill="#00774c"/>
<rect x="139" y="689" width="4" height="21" fill="#00a86c"/>
<rect x="140" y="690" width="2" height="20" fill="#00774c"/>
<rect x="135" y="687" width="5" height="23" fill="#00a86c"/>
<rect x="136" y="688" width="3" height="22" fill="#00774c"/>
<rect x="132" y="667" width="4" height="43" fill="#00a86c"/>
<rect x="133" y="668" width="2" height="42" fill="#00774c"/>
<rect x="129" y="688" width="4" height="22" fill="#a87070"/>
<rect x="130" y="689" width="2" height="21" fill="#784c4c"/>
<rect x="126" y="674" width="4" height="36" fill="#00a86c"/>
<rect x="127" y="675" width="2" height="35" fill="#00774c"/>
<rect x="123" y="666" width="4" height="44" fill="#00a86c"/>
<rect x="124" y="667" width="2" height="43" fill="#00774c"/>
<rect x="120" y="677" width="4" height="33" fill="#a87070"/>
<rect x="121" y="678" width="2" height="32" fill="#784c4c"/>
<rect x="117" y="693" width="4" height="17" fill="#a87070"/>
<rect x="118" y="694" width="2" height="16" fill="#784c4c"/>
<rect x="114" y="699" width="4" height="11" fill="#00a86c"/>
<rect x="115" y="700" width="2" height="10" fill="#00774c"/>
<rect x="111" y="664" width="4" height="46" fill="#00a86c"/>
<rect x="112" y="665" width="2" height="45" fill="#00774c"/>
<rect x="108" y="688" width="4" height="22" fill="#a87070"/>
<rect x="109" y="689" width="2" height="21" fill="#784c4c"/>
<rect x="105" y="662" width="4" height="48" fill="#00a86c"/>
<rect x="106" y="663" width="2" height="47" fill="#00774c"/>
<rect x="102" y="654" width="4" height="56" fill="#a87070"/>
<rect x="103" y="655" width="2" height="55" fill="#784c4c"/>
<rect x="99" y="669" width="4" height="41" fill="#00a86c"/>
<rect x="100" y="670" width="2" height="40" fill="#00774c"/>
<rect x="96" y="694" width="4" height="16" fill="#00a86c"/>
<rect x="97" y="695" width="2" height="15" fill="#00774c"/>
<rect x="93" y="698" width="4" height="12" fill="#a87070"/>
<rect x="94" y="699" width="2" height="11" fill="#784c4c"/>
<rect x="90" y="673" width="4" height="37" fill="#00a86c"/>
<rect x="91" y="674" width="2" height="36" fill="#00774c"/>
<rect x="86" y="659" width="5" height="51" fill="#a87070"/>
<rect x="87" y="660" width="3" height="50" fill="#784c4c"/>
<rect x="83" y="659" width="4" height="51" fill="#00a86c"/>
<rect x="84" y="660" width="2" height="50" fill="#00774c"/>
<rect x="80" y="665" width="4" height="45" fill="#a87070"/>
<rect x="81" y="666" width="2" height="44" fill="#784c4c"/>
<rect x="77" y="678" width="4" height="32" fill="#a87070"/>
<rect x="78" y="679" width="2" height="31" fill="#784c4c"/>
<rect x="74" y="697" width="4" height="13" fill="#a87070"/>
<rect x="75" y="698" width="2" height="12" fill="#784c4c"/>
<rect x="71" y="690" width="4" height="20" fill="#a87070"/>
<rect x="72" y="691" width="2" height="19" fill="#784c4c"/>
<rect x="68" y="667" width="4" height="43" fill="#00a86c"/>
<rect x="69" y="668" width="2" height="42" fill="#00774c"/>
<rect x="65" y="628" width="4" height="82" fill="#00a86c"/>
<rect x="66" y="629" width="2" height="81" fill="#00774c"/>
<rect x="62" y="675" width="4" height="35" fill="#00a86c"/>
<rect x="63" y="676" width="2" height="34" fill="#00774c"/>
<rect x="59" y="672" width="4" height="38" fill="#00a86c"/>
<rect x="60" y="673" width="2" height="37" fill="#00774c"/>
<rect x="56" y="687" width="4" height="23" fill="#00a86c"/>
<rect x="57" y="688" width="2" height="22" fill="#00774c"/>
<rect x="53" y="690" width="4" height="20" fill="#a87070"/>
<rect x="54" y="691" width="2" height="19" fill="#784c4c"/>
<rect x="50" y="695" width="4" height="15" fill="#00a86c"/>
<rect x="51" y="696" width="2" height="14" fill="#00774c"/>
<rect x="47" y="673" width="4" height="37" fill="#a87070"/>
<rect x="48" y="674" width="2" height="36" fill="#784c4c"/>
<rect x="44" y="669" width="4" height="41" fill="#a87070"/>
<rect x="45" y="670" width="2" height="40" fill="#784c4c"/>
<rect x="41" y="665" width="4" height="45" fill="#00a86c"/>
<rect x="42" y="666" width="2" height="44" fill="#00774c"/>
<rect x="37" y="681" width="5" height="29" fill="#00a86c"/>
<rect x="38" y="682" width="3" height="28" fill="#00774c"/>
<rect x="34" y="678" width="4" height="32" fill="#a87070"/>
<rect x="35" y="679" width="2" height="31" fill="#784c4c"/>
<rect x="31" y="692" width="4" height="18" fill="#00a86c"/>
<rect x="32" y="693" width="2" height="17" fill="#00774c"/>
<rect x="28" y="695" width="4" height="15" fill="#00a86c"/>
<rect x="29" y="696" width="2" height="14" fill="#00774c"/>
<rect x="25" y="669" width="4" height="41" fill="#a87070"/>
<rect x="26" y="670" width="2" height="40" fill="#784c4c"/>
<rect x="22" y="662" width="4" height="48" fill="#a87070"/>
<rect x="23" y="663" width="2" height="47" fill="#784c4c"/>
<rect x="19" y="654" width="4" height="56" fill="#00a86c"/>
<rect x="20" y="655" width="2" height="55" fill="#00774c"/>
<rect x="16" y="612" width="4" height="98" fill="#00a86c"/>
<rect x="17" y="613" width="2" height="97" fill="#00774c"/>
</g>
<g shape-rendering="crispEdges">
<rect x="1134" y="782" width="4" height="9" fill="#00502f"/>
<rect x="1135" y="782" width="2" height="9" fill="#007846"/>
<rect x="1131" y="772" width="4" height="19" fill="#00502f"/>
<rect x="1132" y="772" width="2" height="19" fill="#007846"/>
<rect x="1128" y="764" width="4" height="27" fill="#00502f"/>
<rect x="1129" y="764" width="2" height="27" fill="#007846"/>
<rect x="1125" y="756" width="4" height="35" fill="#00502f"/>
<rect x="1126" y="756" width="2" height="35" fill="#007846"/>
<rect x="1121" y="756" width="5" height="35" fill="#00502f"/>
<rect x="1122" y="756" width="3" height="35" fill="#007846"/>
<rect x="1118" y="755" width="4" height="36" fill="#00502f"/>
<rect x="1119" y="755" width="2" height="36" fill="#007846"/>
<rect x="1115" y="759" width="4" height="32" fill="#00502f"/>
<rect x="1116" y="759" width="2" height="32" fill="#007846"/>
<rect x="1112" y="761" width="4" height="30" fill="#00502f"/>
<rect x="1113" y="761" width="2" height="30" fill="#007846"/>
<rect x="1109" y="770" width="4" height="21" fill="#00502f"/>
<rect x="1110" y="770" width="2" height="21" fill="#007846"/>
<rect x="1106" y="782" width="4" height="9" fill="#00502f"/>
<rect x="1107" y="782" width="2" height="9" fill="#007846"/>
<rect x="1103" y="791" width="4" height="6" fill="#4a2e2e"/>
<rect x="1104" y="791" width="2" height="6" fill="#784b4b"/>
<rect x="1100" y="791" width="4" height="10" fill="#4a2e2e"/>
<rect x="1101" y="791" width="2" height="10" fill="#784b4b"/>
<rect x="1097" y="791" width="4" height="18" fill="#4a2e2e"/>
<rect x="1098" y="791" width="2" height="18" fill="#784b4b"/>
<rect x="1094" y="791" width="4" height="25" fill="#4a2e2e"/>
<rect x="1095" y="791" width="2" height="25" fill="#784b4b"/>
<rect x="1091" y="791" width="4" height="22" fill="#4a2e2e"/>
<rect x="1092" y="791" width="2" height="22" fill="#784b4b"/>
<rect x="1088" y="791" width="4" height="18" fill="#4a2e2e"/>
<rect x="1089" y="791" width="2" height="18" fill="#784b4b"/>
<rect x="1085" y="791" width="4" height="19" fill="#4a2e2e"/>
<rect x="1086" y="791" width="2" height="19" fill="#784b4b"/>
<rect x="1082" y="791" width="4" height="20" fill="#4a2e2e"/>
<rect x="1083" y="791" width="2" height="20" fill="#784b4b"/>
<rect x="1079" y="791" width="4" height="24" fill="#4a2e2e"/>
<rect x="1080" y="791" width="2" height="24" fill="#784b4b"/>
<rect x="1076" y="791" width="4" height="25" fill="#4a2e2e"/>
<rect x="1077" y="791" width="2" height="25" fill="#784b4b"/>
<rect x="1072" y="791" width="5" height="26" fill="#4a2e2e"/>
<rect x="1073" y="791" width="3" height="26" fill="#784b4b"/>
<rect x="1069" y="791" width="4" height="19" fill="#4a2e2e"/>
<rect x="1070" y="791" width="2" height="19" fill="#784b4b"/>
<rect x="1066" y="791" width="4" height="6" fill="#4a2e2e"/>
<rect x="1067" y="791" width="2" height="6" fill="#784b4b"/>
<rect x="1063" y="778" width="4" height="13" fill="#00502f"/>
<rect x="1064" y="778" width="2" height="13" fill="#007846"/>
<rect x="1060" y="764" width="4" height="27" fill="#00502f"/>
<rect x="1061" y="764" width="2" height="27" fill="#007846"/>
<rect x="1057" y="760" width="4" height="31" fill="#00502f"/>
<rect x="1058" y="760" width="2" height="31" fill="#007846"/>
<rect x="1054" y="758" width="4" height="33" fill="#00502f"/>
<rect x="1055" y="758" width="2" height="33" fill="#007846"/>
<rect x="1051" y="759" width="4" height="32" fill="#00502f"/>
<rect x="1052" y="759" width="2" height="32" fill="#007846"/>
<rect x="1048" y="760" width="4" height="31" fill="#00502f"/>
<rect x="1049" y="760" width="2" height="31" fill="#007846"/>
<rect x="1045" y="752" width="4" height="39" fill="#00502f"/>
<rect x="1046" y="752" width="2" height="39" fill="#007846"/>
<rect x="1042" y="751" width="4" height="40" fill="#00502f"/>
<rect x="1043" y="751" width="2" height="40" fill="#007846"/>
<rect x="1039" y="747" width="4" height="44" fill="#00502f"/>
<rect x="1040" y="747" width="2" height="44" fill="#007846"/>
<rect x="1036" y="745" width="4" height="46" fill="#00502f"/>
<rect x="1037" y="745" width="2" height="46" fill="#007846"/>
<rect x="1033" y="746" width="4" height="45" fill="#00502f"/>
<rect x="1034" y="746" width="2" height="45" fill="#007846"/>
<rect x="1030" y="749" width="4" height="42" fill="#00502f"/>
<rect x="1031" y="749" width="2" height="42" fill="#007846"/>
<rect x="1027" y="757" width="4" height="34" fill="#00502f"/>
<rect x="1028" y="757" width="2" height="34" fill="#007846"/>
<rect x="1024" y="764" width="4" height="27" fill="#00502f"/>
<rect x="1025" y="764" width="2" height="27" fill="#007846"/>
<rect x="1020" y="768" width="5" height="23" fill="#00502f"/>
<rect x="1021" y="768" width="3" height="23" fill="#007846"/>
<rect x="1017" y="763" width="4" height="28" fill="#00502f"/>
<rect x="1018" y="763" width="2" height="28" fill="#007846"/>
<rect x="1014" y="763" width="4" height="28" fill="#00502f"/>
<rect x="1015" y="763" width="2" height="28" fill="#007846"/>
<rect x="1011" y="769" width="4" height="22" fill="#00502f"/>
<rect x="1012" y="769" width="2" height="22" fill="#007846"/>
<rect x="1008" y="784" width="4" height="7" fill="#00502f"/>
<rect x="1009" y="784" width="2" height="7" fill="#007846"/>
<rect x="1005" y="791" width="4" height="2" fill="#4a2e2e"/>
<rect x="1006" y="791" width="2" height="2" fill="#784b4b"/>
<rect x="1002" y="791" width="4" height="9" fill="#4a2e2e"/>
<rect x="1003" y="791" width="2" height="9" fill="#784b4b"/>
<rect x="999" y="791" width="4" height="21" fill="#4a2e2e"/>
<rect x="1000" y="791" width="2" height="21" fill="#784b4b"/>
<rect x="996" y="791" width="4" height="33" fill="#4a2e2e"/>
<rect x="997" y="791" width="2" height="33" fill="#784b4b"/>
<rect x="993" y="791" width="4" height="36" fill="#4a2e2e"/>
<rect x="994" y="791" width="2" height="36" fill="#784b4b"/>
<rect x="990" y="791" width="4" height="32" fill="#4a2e2e"/>
<rect x="991" y="791" width="2" height="32" fill="#784b4b"/>
<rect x="987" y="791" width="4" height="22" fill="#4a2e2e"/>
<rect x="988" y="791" width="2" height="22" fill="#784b4b"/>
<rect x="984" y="791" width="4" height="17" fill="#4a2e2e"/>
<rect x="985" y="791" width="2" height="17" fill="#784b4b"/>
<rect x="981" y="791" width="4" height="18" fill="#4a2e2e"/>
<rect x="982" y="791" width="2" height="18" fill="#784b4b"/>
<rect x="978" y="791" width="4" height="14" fill="#4a2e2e"/>
<rect x="979" y="791" width="2" height="14" fill="#784b4b"/>
<rect x="975" y="791" width="4" height="17" fill="#4a2e2e"/>
<rect x="976" y="791" width="2" height="17" fill="#784b4b"/>
<rect x="971" y="791" width="5" height="9" fill="#4a2e2e"/>
<rect x="972" y="791" width="3" height="9" fill="#784b4b"/>
<rect x="968" y="791" width="4" height="5" fill="#4a2e2e"/>
<rect x="969" y="791" width="2" height="5" fill="#784b4b"/>
<rect x="965" y="790" width="4" height="1" fill="#00502f"/>
<rect x="966" y="790" width="2" height="1" fill="#007846"/>
<rect x="962" y="782" width="4" height="9" fill="#00502f"/>
<rect x="963" y="782" width="2" height="9" fill="#007846"/>
<rect x="959" y="768" width="4" height="23" fill="#00502f"/>
<rect x="960" y="768" width="2" height="23" fill="#007846"/>
<rect x="956" y="750" width="4" height="41" fill="#00502f"/>
<rect x="957" y="750" width="2" height="41" fill="#007846"/>
<rect x="953" y="745" width="4" height="46" fill="#00502f"/>
<rect x="954" y="745" width="2" height="46" fill="#007846"/>
<rect x="950" y="748" width="4" height="43" fill="#00502f"/>
<rect x="951" y="748" width="2" height="43" fill="#007846"/>
<rect x="947" y="757" width="4" height="34" fill="#00502f"/>
<rect x="948" y="757" width="2" height="34" fill="#007846"/>
<rect x="944" y="773" width="4" height="18" fill="#00502f"/>
<rect x="945" y="773" width="2" height="18" fill="#007846"/>
<rect x="941" y="775" width="4" height="16" fill="#00502f"/>
<rect x="942" y="775" width="2" height="16" fill="#007846"/>
<rect x="938" y="785" width="4" height="6" fill="#00502f"/>
<rect x="939" y="785" width="2" height="6" fill="#007846"/>
<rect x="935" y="786" width="4" height="5" fill="#00502f"/>
<rect x="936" y="786" width="2" height="5" fill="#007846"/>
<rect x="926" y="791" width="4" height="6" fill="#4a2e2e"/>
<rect x="927" y="791" width="2" height="6" fill="#784b4b"/>
<rect x="922" y="791" width="5" height="11" fill="#4a2e2e"/>
<rect x="923" y="791" width="3" height="11" fill="#784b4b"/>
<rect x="919" y="791" width="4" height="7" fill="#4a2e2e"/>
<rect x="920" y="791" width="2" height="7" fill="#784b4b"/>
<rect x="916" y="791" width="4" height="6" fill="#4a2e2e"/>
<rect x="917" y="791" width="2" height="6" fill="#784b4b"/>
<rect x="913" y="791" width="4" height="16" fill="#4a2e2e"/>
<rect x="914" y="791" width="2" height="16" fill="#784b4b"/>
<rect x="910" y="791" width="4" height="22" fill="#4a2e2e"/>
<rect x="911" y="791" width="2" height="22" fill="#784b4b"/>
<rect x="907" y="791" width="4" height="24" fill="#4a2e2e"/>
<rect x="908" y="791" width="2" height="24" fill="#784b4b"/>
<rect x="904" y="791" width="4" height="38" fill="#4a2e2e"/>
<rect x="905" y="791" width="2" height="38" fill="#784b4b"/>
<rect x="901" y="791" width="4" height="57" fill="#4a2e2e"/>
<rect x="902" y="791" width="2" height="57" fill="#784b4b"/>
<rect x="898" y="791" width="4" height="86" fill="#4a2e2e"/>
<rect x="899" y="791" width="2" height="86" fill="#784b4b"/>
<rect x="895" y="791" width="4" height="85" fill="#4a2e2e"/>
<rect x="896" y="791" width="2" height="85" fill="#784b4b"/>
<rect x="892" y="791" width="4" height="82" fill="#4a2e2e"/>
<rect x="893" y="791" width="2" height="82" fill="#784b4b"/>
<rect x="889" y="791" width="4" height="59" fill="#4a2e2e"/>
<rect x="890" y="791" width="2" height="59" fill="#784b4b"/>
<rect x="886" y="791" width="4" height="42" fill="#4a2e2e"/>
<rect x="887" y="791" width="2" height="42" fill="#784b4b"/>
<rect x="883" y="791" width="4" height="29" fill="#4a2e2e"/>
<rect x="884" y="791" width="2" height="29" fill="#784b4b"/>
<rect x="880" y="791" width="4" height="10" fill="#4a2e2e"/>
<rect x="881" y="791" width="2" height="10" fill="#784b4b"/>
<rect x="877" y="791" width="4" height="4" fill="#4a2e2e"/>
<rect x="878" y="791" width="2" height="4" fill="#784b4b"/>
<rect x="873" y="782" width="5" height="9" fill="#00502f"/>
<rect x="874" y="782" width="3" height="9" fill="#007846"/>
<rect x="870" y="772" width="4" height="19" fill="#00502f"/>
<rect x="871" y="772" width="2" height="19" fill="#007846"/>
<rect x="867" y="762" width="4" height="29" fill="#00502f"/>
<rect x="868" y="762" width="2" height="29" fill="#007846"/>
<rect x="864" y="760" width="4" height="31" fill="#00502f"/>
<rect x="865" y="760" width="2" height="31" fill="#007846"/>
<rect x="861" y="758" width="4" height="33" fill="#00502f"/>
<rect x="862" y="758" width="2" height="33" fill="#007846"/>
<rect x="858" y="758" width="4" height="33" fill="#00502f"/>
<rect x="859" y="758" width="2" height="33" fill="#007846"/>
<rect x="855" y="749" width="4" height="42" fill="#00502f"/>
<rect x="856" y="749" width="2" height="42" fill="#007846"/>
<rect x="852" y="735" width="4" height="56" fill="#00502f"/>
<rect x="853" y="735" width="2" height="56" fill="#007846"/>
<rect x="849" y="722" width="4" height="69" fill="#00502f"/>
<rect x="850" y="722" width="2" height="69" fill="#007846"/>
<rect x="846" y="717" width="4" height="74" fill="#00502f"/>
<rect x="847" y="717" width="2" height="74" fill="#007846"/>
<rect x="843" y="720" width="4" height="71" fill="#00502f"/>
<rect x="844" y="720" width="2" height="71" fill="#007846"/>
<rect x="840" y="722" width="4" height="69" fill="#00502f"/>
<rect x="841" y="722" width="2" height="69" fill="#007846"/>
<rect x="837" y="729" width="4" height="62" fill="#00502f"/>
<rect x="838" y="729" width="2" height="62" fill="#007846"/>
<rect x="834" y="728" width="4" height="63" fill="#00502f"/>
<rect x="835" y="728" width="2" height="63" fill="#007846"/>
<rect x="831" y="730" width="4" height="61" fill="#00502f"/>
<rect x="832" y="730" width="2" height="61" fill="#007846"/>
<rect x="828" y="744" width="4" height="47" fill="#00502f"/>
<rect x="829" y="744" width="2" height="47" fill="#007846"/>
<rect x="824" y="767" width="5" height="24" fill="#00502f"/>
<rect x="825" y="767" width="3" height="24" fill="#007846"/>
<rect x="821" y="780" width="4" height="11" fill="#00502f"/>
<rect x="822" y="780" width="2" height="11" fill="#007846"/>
<rect x="818" y="790" width="4" height="1" fill="#00502f"/>
<rect x="819" y="790" width="2" height="1" fill="#007846"/>
<rect x="815" y="791" width="4" height="5" fill="#4a2e2e"/>
<rect x="816" y="791" width="2" height="5" fill="#784b4b"/>
<rect x="812" y="791" width="4" height="9" fill="#4a2e2e"/>
<rect x="813" y="791" width="2" height="9" fill="#784b4b"/>
<rect x="809" y="791" width="4" height="15" fill="#4a2e2e"/>
<rect x="810" y="791" width="2" height="15" fill="#784b4b"/>
<rect x="806" y="791" width="4" height="25" fill="#4a2e2e"/>
<rect x="807" y="791" width="2" height="25" fill="#784b4b"/>
<rect x="803" y="791" width="4" height="28" fill="#4a2e2e"/>
<rect x="804" y="791" width="2" height="28" fill="#784b4b"/>
<rect x="800" y="791" width="4" height="23" fill="#4a2e2e"/>
<rect x="801" y="791" width="2" height="23" fill="#784b4b"/>
<rect x="797" y="791" width="4" height="26" fill="#4a2e2e"/>
<rect x="798" y="791" width="2" height="26" fill="#784b4b"/>
<rect x="794" y="791" width="4" height="18" fill="#4a2e2e"/>
<rect x="795" y="791" width="2" height="18" fill="#784b4b"/>
<rect x="791" y="791" width="4" height="5" fill="#4a2e2e"/>
<rect x="792" y="791" width="2" height="5" fill="#784b4b"/>
<rect x="788" y="791" width="4" height="1" fill="#4a2e2e"/>
<rect x="789" y="791" width="2" height="1" fill="#784b4b"/>
<rect x="785" y="791" width="4" height="5" fill="#4a2e2e"/>
<rect x="786" y="791" width="2" height="5" fill="#784b4b"/>
<rect x="782" y="791" width="4" height="15" fill="#4a2e2e"/>
<rect x="783" y="791" width="2" height="15" fill="#784b4b"/>
<rect x="779" y="791" width="4" height="27" fill="#4a2e2e"/>
<rect x="780" y="791" width="2" height="27" fill="#784b4b"/>
<rect x="775" y="791" width="5" height="32" fill="#4a2e2e"/>
<rect x="776" y="791" width="3" height="32" fill="#784b4b"/>
<rect x="772" y="791" width="4" height="33" fill="#4a2e2e"/>
<rect x="773" y="791" width="2" height="33" fill="#784b4b"/>
<rect x="769" y="791" width="4" height="39" fill="#4a2e2e"/>
<rect x="770" y="791" width="2" height="39" fill="#784b4b"/>
<rect x="766" y="791" width="4" height="39" fill="#4a2e2e"/>
<rect x="767" y="791" width="2" height="39" fill="#784b4b"/>
<rect x="763" y="791" width="4" height="42" fill="#4a2e2e"/>
<rect x="764" y="791" width="2" height="42" fill="#784b4b"/>
<rect x="760" y="791" width="4" height="32" fill="#4a2e2e"/>
<rect x="761" y="791" width="2" height="32" fill="#784b4b"/>
<rect x="757" y="791" width="4" height="30" fill="#4a2e2e"/>
<rect x="758" y="791" width="2" height="30" fill="#784b4b"/>
<rect x="754" y="791" width="4" height="32" fill="#4a2e2e"/>
<rect x="755" y="791" width="2" height="32" fill="#784b4b"/>
<rect x="751" y="791" width="4" height="32" fill="#4a2e2e"/>
<rect x="752" y="791" width="2" height="32" fill="#784b4b"/>
<rect x="748" y="791" width="4" height="33" fill="#4a2e2e"/>
<rect x="749" y="791" width="2" height="33" fill="#784b4b"/>
<rect x="745" y="791" width="4" height="32" fill="#4a2e2e"/>
<rect x="746" y="791" width="2" height="32" fill="#784b4b"/>
<rect x="742" y="791" width="4" height="29" fill="#4a2e2e"/>
<rect x="743" y="791" width="2" height="29" fill="#784b4b"/>
<rect x="739" y="791" width="4" height="32" fill="#4a2e2e"/>
<rect x="740" y="791" width="2" height="32" fill="#784b4b"/>
<rect x="736" y="791" width="4" height="33" fill="#4a2e2e"/>
<rect x="737" y="791" width="2" height="33" fill="#784b4b"/>
<rect x="733" y="791" width="4" height="31" fill="#4a2e2e"/>
<rect x="734" y="791" width="2" height="31" fill="#784b4b"/>
<rect x="730" y="791" width="4" height="25" fill="#4a2e2e"/>
<rect x="731" y="791" width="2" height="25" fill="#784b4b"/>
<rect x="726" y="791" width="5" height="18" fill="#4a2e2e"/>
<rect x="727" y="791" width="3" height="18" fill="#784b4b"/>
<rect x="723" y="791" width="4" height="16" fill="#4a2e2e"/>
<rect x="724" y="791" width="2" height="16" fill="#784b4b"/>
<rect x="720" y="791" width="4" height="6" fill="#4a2e2e"/>
<rect x="721" y="791" width="2" height="6" fill="#784b4b"/>
<rect x="717" y="791" width="4" height="3" fill="#4a2e2e"/>
<rect x="718" y="791" width="2" height="3" fill="#784b4b"/>
<rect x="714" y="791" width="4" height="1" fill="#4a2e2e"/>
<rect x="715" y="791" width="2" height="1" fill="#784b4b"/>
<rect x="711" y="788" width="4" height="3" fill="#00502f"/>
<rect x="712" y="788" width="2" height="3" fill="#007846"/>
<rect x="708" y="783" width="4" height="8" fill="#00502f"/>
<rect x="709" y="783" width="2" height="8" fill="#007846"/>
<rect x="705" y="785" width="4" height="6" fill="#00502f"/>
<rect x="706" y="785" width="2" height="6" fill="#007846"/>
<rect x="702" y="791" width="4" height="1" fill="#4a2e2e"/>
<rect x="703" y="791" width="2" height="1" fill="#784b4b"/>
<rect x="699" y="791" width="4" height="9" fill="#4a2e2e"/>
<rect x="700" y="791" width="2" height="9" fill="#784b4b"/>
<rect x="696" y="791" width="4" height="11" fill="#4a2e2e"/>
<rect x="697" y="791" width="2" height="11" fill="#784b4b"/>
<rect x="693" y="791" width="4" height="9" fill="#4a2e2e"/>
<rect x="694" y="791" width="2" height="9" fill="#784b4b"/>
<rect x="690" y="791" width="4" height="6" fill="#4a2e2e"/>
<rect x="691" y="791" width="2" height="6" fill="#784b4b"/>
<rect x="684" y="788" width="4" height="3" fill="#00502f"/>
<rect x="685" y="788" width="2" height="3" fill="#007846"/>
<rect x="681" y="779" width="4" height="12" fill="#00502f"/>
<rect x="682" y="779" width="2" height="12" fill="#007846"/>
<rect x="677" y="771" width="5" height="20" fill="#00502f"/>
<rect x="678" y="771" width="3" height="20" fill="#007846"/>
<rect x="674" y="767" width="4" height="24" fill="#00502f"/>
<rect x="675" y="767" width="2" height="24" fill="#007846"/>
<rect x="671" y="760" width="4" height="31" fill="#00502f"/>
<rect x="672" y="760" width="2" height="31" fill="#007846"/>
<rect x="668" y="756" width="4" height="35" fill="#00502f"/>
<rect x="669" y="756" width="2" height="35" fill="#007846"/>
<rect x="665" y="748" width="4" height="43" fill="#00502f"/>
<rect x="666" y="748" width="2" height="43" fill="#007846"/>
<rect x="662" y="737" width="4" height="54" fill="#00502f"/>
<rect x="663" y="737" width="2" height="54" fill="#007846"/>
<rect x="659" y="731" width="4" height="60" fill="#00502f"/>
<rect x="660" y="731" width="2" height="60" fill="#007846"/>
<rect x="656" y="733" width="4" height="58" fill="#00502f"/>
<rect x="657" y="733" width="2" height="58" fill="#007846"/>
<rect x="653" y="750" width="4" height="41" fill="#00502f"/>
<rect x="654" y="750" width="2" height="41" fill="#007846"/>
<rect x="650" y="747" width="4" height="44" fill="#00502f"/>
<rect x="651" y="747" width="2" height="44" fill="#007846"/>
<rect x="647" y="751" width="4" height="40" fill="#00502f"/>
<rect x="648" y="751" width="2" height="40" fill="#007846"/>
<rect x="644" y="761" width="4" height="30" fill="#00502f"/>
<rect x="645" y="761" width="2" height="30" fill="#007846"/>
<rect x="641" y="767" width="4" height="24" fill="#00502f"/>
<rect x="642" y="767" width="2" height="24" fill="#007846"/>
<rect x="638" y="784" width="4" height="7" fill="#00502f"/>
<rect x="639" y="784" width="2" height="7" fill="#007846"/>
<rect x="635" y="783" width="4" height="8" fill="#00502f"/>
<rect x="636" y="783" width="2" height="8" fill="#007846"/>
<rect x="632" y="790" width="4" height="1" fill="#00502f"/>
<rect x="633" y="790" width="2" height="1" fill="#007846"/>
<rect x="625" y="788" width="4" height="3" fill="#00502f"/>
<rect x="626" y="788" width="2" height="3" fill="#007846"/>
<rect x="622" y="783" width="4" height="8" fill="#00502f"/>
<rect x="623" y="783" width="2" height="8" fill="#007846"/>
<rect x="619" y="788" width="4" height="3" fill="#00502f"/>
<rect x="620" y="788" width="2" height="3" fill="#007846"/>
<rect x="616" y="783" width="4" height="8" fill="#00502f"/>
<rect x="617" y="783" width="2" height="8" fill="#007846"/>
<rect x="613" y="782" width="4" height="9" fill="#00502f"/>
<rect x="614" y="782" width="2" height="9" fill="#007846"/>
<rect x="610" y="785" width="4" height="6" fill="#00502f"/>
<rect x="611" y="785" width="2" height="6" fill="#007846"/>
<rect x="607" y="791" width="4" height="5" fill="#4a2e2e"/>
<rect x="608" y="791" width="2" height="5" fill="#784b4b"/>
<rect x="604" y="791" width="4" height="20" fill="#4a2e2e"/>
<rect x="605" y="791" width="2" height="20" fill="#784b4b"/>
<rect x="601" y="791" width="4" height="35" fill="#4a2e2e"/>
<rect x="602" y="791" width="2" height="35" fill="#784b4b"/>
<rect x="598" y="791" width="4" height="32" fill="#4a2e2e"/>
<rect x="599" y="791" width="2" height="32" fill="#784b4b"/>
<rect x="595" y="791" width="4" height="18" fill="#4a2e2e"/>
<rect x="596" y="791" width="2" height="18" fill="#784b4b"/>
<rect x="592" y="791" width="4" height="9" fill="#4a2e2e"/>
<rect x="593" y="791" width="2" height="9" fill="#784b4b"/>
<rect x="589" y="791" width="4" height="11" fill="#4a2e2e"/>
<rect x="590" y="791" width="2" height="11" fill="#784b4b"/>
<rect x="586" y="791" width="4" height="10" fill="#4a2e2e"/>
<rect x="587" y="791" width="2" height="10" fill="#784b4b"/>
<rect x="583" y="791" width="4" height="8" fill="#4a2e2e"/>
<rect x="584" y="791" width="2" height="8" fill="#784b4b"/>
<rect x="579" y="791" width="5" height="5" fill="#4a2e2e"/>
<rect x="580" y="791" width="3" height="5" fill="#784b4b"/>
<rect x="576" y="791" width="4" height="5" fill="#4a2e2e"/>
<rect x="577" y="791" width="2" height="5" fill="#784b4b"/>
<rect x="573" y="791" width="4" height="2" fill="#4a2e2e"/>
<rect x="574" y="791" width="2" height="2" fill="#784b4b"/>
<rect x="570" y="791" width="4" height="11" fill="#4a2e2e"/>
<rect x="571" y="791" width="2" height="11" fill="#784b4b"/>
<rect x="567" y="791" width="4" height="25" fill="#4a2e2e"/>
<rect x="568" y="791" width="2" height="25" fill="#784b4b"/>
<rect x="564" y="791" width="4" height="35" fill="#4a2e2e"/>
<rect x="565" y="791" width="2" height="35" fill="#784b4b"/>
<rect x="561" y="791" width="4" height="47" fill="#4a2e2e"/>
<rect x="562" y="791" width="2" height="47" fill="#784b4b"/>
<rect x="558" y="791" width="4" height="54" fill="#4a2e2e"/>
<rect x="559" y="791" width="2" height="54" fill="#784b4b"/>
<rect x="555" y="791" width="4" height="61" fill="#4a2e2e"/>
<rect x="556" y="791" width="2" height="61" fill="#784b4b"/>
<rect x="552" y="791" width="4" height="52" fill="#4a2e2e"/>
<rect x="553" y="791" width="2" height="52" fill="#784b4b"/>
<rect x="549" y="791" width="4" height="50" fill="#4a2e2e"/>
<rect x="550" y="791" width="2" height="50" fill="#784b4b"/>
<rect x="546" y="791" width="4" height="40" fill="#4a2e2e"/>
<rect x="547" y="791" width="2" height="40" fill="#784b4b"/>
<rect x="543" y="791" width="4" height="37" fill="#4a2e2e"/>
<rect x="544" y="791" width="2" height="37" fill="#784b4b"/>
<rect x="540" y="791" width="4" height="18" fill="#4a2e2e"/>
<rect x="541" y="791" width="2" height="18" fill="#784b4b"/>
<rect x="537" y="791" width="4" height="6" fill="#4a2e2e"/>
<rect x="538" y="791" width="2" height="6" fill="#784b4b"/>
<rect x="534" y="791" width="4" height="6" fill="#4a2e2e"/>
<rect x="535" y="791" width="2" height="6" fill="#784b4b"/>
<rect x="530" y="791" width="5" height="11" fill="#4a2e2e"/>
<rect x="531" y="791" width="3" height="11" fill="#784b4b"/>
<rect x="527" y="791" width="4" height="9" fill="#4a2e2e"/>
<rect x="528" y="791" width="2" height="9" fill="#784b4b"/>
<rect x="524" y="791" width="4" height="21" fill="#4a2e2e"/>
<rect x="525" y="791" width="2" height="21" fill="#784b4b"/>
<rect x="521" y="791" width="4" height="27" fill="#4a2e2e"/>
<rect x="522" y="791" width="2" height="27" fill="#784b4b"/>
<rect x="518" y="791" width="4" height="33" fill="#4a2e2e"/>
<rect x="519" y="791" width="2" height="33" fill="#784b4b"/>
<rect x="515" y="791" width="4" height="34" fill="#4a2e2e"/>
<rect x="516" y="791" width="2" height="34" fill="#784b4b"/>
<rect x="512" y="791" width="4" height="39" fill="#4a2e2e"/>
<rect x="513" y="791" width="2" height="39" fill="#784b4b"/>
<rect x="509" y="791" width="4" height="29" fill="#4a2e2e"/>
<rect x="510" y="791" width="2" height="29" fill="#784b4b"/>
<rect x="506" y="791" width="4" height="10" fill="#4a2e2e"/>
<rect x="507" y="791" width="2" height="10" fill="#784b4b"/>
<rect x="503" y="791" width="4" height="6" fill="#4a2e2e"/>
<rect x="504" y="791" width="2" height="6" fill="#784b4b"/>
<rect x="500" y="791" width="4" height="12" fill="#4a2e2e"/>
<rect x="501" y="791" width="2" height="12" fill="#784b4b"/>
<rect x="497" y="791" width="4" height="11" fill="#4a2e2e"/>
<rect x="498" y="791" width="2" height="11" fill="#784b4b"/>
<rect x="494" y="791" width="4" height="13" fill="#4a2e2e"/>
<rect x="495" y="791" width="2" height="13" fill="#784b4b"/>
<rect x="491" y="791" width="4" height="22" fill="#4a2e2e"/>
<rect x="492" y="791" width="2" height="22" fill="#784b4b"/>
<rect x="488" y="791" width="4" height="29" fill="#4a2e2e"/>
<rect x="489" y="791" width="2" height="29" fill="#784b4b"/>
<rect x="485" y="791" width="4" height="43" fill="#4a2e2e"/>
<rect x="486" y="791" width="2" height="43" fill="#784b4b"/>
<rect x="481" y="791" width="5" height="64" fill="#4a2e2e"/>
<rect x="482" y="791" width="3" height="64" fill="#784b4b"/>
<rect x="478" y="791" width="4" height="78" fill="#4a2e2e"/>
<rect x="479" y="791" width="2" height="78" fill="#784b4b"/>
<rect x="475" y="791" width="4" height="77" fill="#4a2e2e"/>
<rect x="476" y="791" width="2" height="77" fill="#784b4b"/>
<rect x="472" y="791" width="4" height="70" fill="#4a2e2e"/>
<rect x="473" y="791" width="2" height="70" fill="#784b4b"/>
<rect x="469" y="791" width="4" height="67" fill="#4a2e2e"/>
<rect x="470" y="791" width="2" height="67" fill="#784b4b"/>
<rect x="466" y="791" width="4" height="74" fill="#4a2e2e"/>
<rect x="467" y="791" width="2" height="74" fill="#784b4b"/>
<rect x="463" y="791" width="4" height="47" fill="#4a2e2e"/>
<rect x="464" y="791" width="2" height="47" fill="#784b4b"/>
<rect x="460" y="791" width="4" height="38" fill="#4a2e2e"/>
<rect x="461" y="791" width="2" height="38" fill="#784b4b"/>
<rect x="457" y="791" width="4" height="30" fill="#4a2e2e"/>
<rect x="458" y="791" width="2" height="30" fill="#784b4b"/>
<rect x="451" y="772" width="4" height="19" fill="#00502f"/>
<rect x="452" y="772" width="2" height="19" fill="#007846"/>
<rect x="448" y="761" width="4" height="30" fill="#00502f"/>
<rect x="449" y="761" width="2" height="30" fill="#007846"/>
<rect x="445" y="761" width="4" height="30" fill="#00502f"/>
<rect x="446" y="761" width="2" height="30" fill="#007846"/>
<rect x="442" y="756" width="4" height="35" fill="#00502f"/>
<rect x="443" y="756" width="2" height="35" fill="#007846"/>
<rect x="439" y="760" width="4" height="31" fill="#00502f"/>
<rect x="440" y="760" width="2" height="31" fill="#007846"/>
<rect x="436" y="755" width="4" height="36" fill="#00502f"/>
<rect x="437" y="755" width="2" height="36" fill="#007846"/>
<rect x="433" y="749" width="4" height="42" fill="#00502f"/>
<rect x="434" y="749" width="2" height="42" fill="#007846"/>
<rect x="429" y="747" width="5" height="44" fill="#00502f"/>
<rect x="430" y="747" width="3" height="44" fill="#007846"/>
<rect x="426" y="743" width="4" height="48" fill="#00502f"/>
<rect x="427" y="743" width="2" height="48" fill="#007846"/>
<rect x="423" y="738" width="4" height="53" fill="#00502f"/>
<rect x="424" y="738" width="2" height="53" fill="#007846"/>
<rect x="420" y="724" width="4" height="67" fill="#00502f"/>
<rect x="421" y="724" width="2" height="67" fill="#007846"/>
<rect x="417" y="738" width="4" height="53" fill="#00502f"/>
<rect x="418" y="738" width="2" height="53" fill="#007846"/>
<rect x="414" y="737" width="4" height="54" fill="#00502f"/>
<rect x="415" y="737" width="2" height="54" fill="#007846"/>
<rect x="411" y="735" width="4" height="56" fill="#00502f"/>
<rect x="412" y="735" width="2" height="56" fill="#007846"/>
<rect x="408" y="741" width="4" height="50" fill="#00502f"/>
<rect x="409" y="741" width="2" height="50" fill="#007846"/>
<rect x="405" y="750" width="4" height="41" fill="#00502f"/>
<rect x="406" y="750" width="2" height="41" fill="#007846"/>
<rect x="402" y="777" width="4" height="14" fill="#00502f"/>
<rect x="403" y="777" width="2" height="14" fill="#007846"/>
<rect x="396" y="791" width="4" height="9" fill="#4a2e2e"/>
<rect x="397" y="791" width="2" height="9" fill="#784b4b"/>
<rect x="393" y="791" width="4" height="6" fill="#4a2e2e"/>
<rect x="394" y="791" width="2" height="6" fill="#784b4b"/>
<rect x="390" y="791" width="4" height="2" fill="#4a2e2e"/>
<rect x="391" y="791" width="2" height="2" fill="#784b4b"/>
<rect x="387" y="784" width="4" height="7" fill="#00502f"/>
<rect x="388" y="784" width="2" height="7" fill="#007846"/>
<rect x="384" y="775" width="4" height="16" fill="#00502f"/>
<rect x="385" y="775" width="2" height="16" fill="#007846"/>
<rect x="380" y="767" width="5" height="24" fill="#00502f"/>
<rect x="381" y="767" width="3" height="24" fill="#007846"/>
<rect x="377" y="761" width="4" height="30" fill="#00502f"/>
<rect x="378" y="761" width="2" height="30" fill="#007846"/>
<rect x="374" y="753" width="4" height="38" fill="#00502f"/>
<rect x="375" y="753" width="2" height="38" fill="#007846"/>
<rect x="371" y="748" width="4" height="43" fill="#00502f"/>
<rect x="372" y="748" width="2" height="43" fill="#007846"/>
<rect x="368" y="741" width="4" height="50" fill="#00502f"/>
<rect x="369" y="741" width="2" height="50" fill="#007846"/>
<rect x="365" y="739" width="4" height="52" fill="#00502f"/>
<rect x="366" y="739" width="2" height="52" fill="#007846"/>
<rect x="362" y="739" width="4" height="52" fill="#00502f"/>
<rect x="363" y="739" width="2" height="52" fill="#007846"/>
<rect x="359" y="744" width="4" height="47" fill="#00502f"/>
<rect x="360" y="744" width="2" height="47" fill="#007846"/>
<rect x="356" y="745" width="4" height="46" fill="#00502f"/>
<rect x="357" y="745" width="2" height="46" fill="#007846"/>
<rect x="353" y="751" width="4" height="40" fill="#00502f"/>
<rect x="354" y="751" width="2" height="40" fill="#007846"/>
<rect x="350" y="755" width="4" height="36" fill="#00502f"/>
<rect x="351" y="755" width="2" height="36" fill="#007846"/>
<rect x="347" y="762" width="4" height="29" fill="#00502f"/>
<rect x="348" y="762" width="2" height="29" fill="#007846"/>
<rect x="344" y="771" width="4" height="20" fill="#00502f"/>
<rect x="345" y="771" width="2" height="20" fill="#007846"/>
<rect x="341" y="776" width="4" height="15" fill="#00502f"/>
<rect x="342" y="776" width="2" height="15" fill="#007846"/>
<rect x="338" y="781" width="4" height="10" fill="#00502f"/>
<rect x="339" y="781" width="2" height="10" fill="#007846"/>
<rect x="335" y="781" width="4" height="10" fill="#00502f"/>
<rect x="336" y="781" width="2" height="10" fill="#007846"/>
<rect x="331" y="779" width="5" height="12" fill="#00502f"/>
<rect x="332" y="779" width="3" height="12" fill="#007846"/>
<rect x="328" y="776" width="4" height="15" fill="#00502f"/>
<rect x="329" y="776" width="2" height="15" fill="#007846"/>
<rect x="325" y="775" width="4" height="16" fill="#00502f"/>
<rect x="326" y="775" width="2" height="16" fill="#007846"/>
<rect x="322" y="776" width="4" height="15" fill="#00502f"/>
<rect x="323" y="776" width="2" height="15" fill="#007846"/>
<rect x="319" y="778" width="4" height="13" fill="#00502f"/>
<rect x="320" y="778" width="2" height="13" fill="#007846"/>
<rect x="316" y="779" width="4" height="12" fill="#00502f"/>
<rect x="317" y="779" width="2" height="12" fill="#007846"/>
<rect x="313" y="783" width="4" height="8" fill="#00502f"/>
<rect x="314" y="783" width="2" height="8" fill="#007846"/>
<rect x="310" y="791" width="4" height="1" fill="#4a2e2e"/>
<rect x="311" y="791" width="2" height="1" fill="#784b4b"/>
<rect x="307" y="791" width="4" height="6" fill="#4a2e2e"/>
<rect x="308" y="791" width="2" height="6" fill="#784b4b"/>
<rect x="304" y="791" width="4" height="15" fill="#4a2e2e"/>
<rect x="305" y="791" width="2" height="15" fill="#784b4b"/>
<rect x="301" y="791" width="4" height="25" fill="#4a2e2e"/>
<rect x="302" y="791" width="2" height="25" fill="#784b4b"/>
<rect x="298" y="791" width="4" height="28" fill="#4a2e2e"/>
<rect x="299" y="791" width="2" height="28" fill="#784b4b"/>
<rect x="295" y="791" width="4" height="30" fill="#4a2e2e"/>
<rect x="296" y="791" width="2" height="30" fill="#784b4b"/>
<rect x="292" y="791" width="4" height="30" fill="#4a2e2e"/>
<rect x="293" y="791" width="2" height="30" fill="#784b4b"/>
<rect x="289" y="791" width="4" height="24" fill="#4a2e2e"/>
<rect x="290" y="791" width="2" height="24" fill="#784b4b"/>
<rect x="286" y="791" width="4" height="26" fill="#4a2e2e"/>
<rect x="287" y="791" width="2" height="26" fill="#784b4b"/>
<rect x="282" y="791" width="5" height="27" fill="#4a2e2e"/>
<rect x="283" y="791" width="3" height="27" fill="#784b4b"/>
<rect x="279" y="791" width="4" height="27" fill="#4a2e2e"/>
<rect x="280" y="791" width="2" height="27" fill="#784b4b"/>
<rect x="276" y="791" width="4" height="23" fill="#4a2e2e"/>
<rect x="277" y="791" width="2" height="23" fill="#784b4b"/>
<rect x="273" y="791" width="4" height="23" fill="#4a2e2e"/>
<rect x="274" y="791" width="2" height="23" fill="#784b4b"/>
<rect x="270" y="791" width="4" height="25" fill="#4a2e2e"/>
<rect x="271" y="791" width="2" height="25" fill="#784b4b"/>
<rect x="267" y="791" width="4" height="22" fill="#4a2e2e"/>
<rect x="268" y="791" width="2" height="22" fill="#784b4b"/>
<rect x="264" y="791" width="4" height="12" fill="#4a2e2e"/>
<rect x="265" y="791" width="2" height="12" fill="#784b4b"/>
<rect x="261" y="791" width="4" height="2" fill="#4a2e2e"/>
<rect x="262" y="791" width="2" height="2" fill="#784b4b"/>
<rect x="258" y="777" width="4" height="14" fill="#00502f"/>
<rect x="259" y="777" width="2" height="14" fill="#007846"/>
<rect x="255" y="777" width="4" height="14" fill="#00502f"/>
<rect x="256" y="777" width="2" height="14" fill="#007846"/>
<rect x="252" y="780" width="4" height="11" fill="#00502f"/>
<rect x="253" y="780" width="2" height="11" fill="#007846"/>
<rect x="249" y="782" width="4" height="9" fill="#00502f"/>
<rect x="250" y="782" width="2" height="9" fill="#007846"/>
<rect x="246" y="791" width="4" height="3" fill="#4a2e2e"/>
<rect x="247" y="791" width="2" height="3" fill="#784b4b"/>
<rect x="243" y="791" width="4" height="2" fill="#4a2e2e"/>
<rect x="244" y="791" width="2" height="2" fill="#784b4b"/>
<rect x="240" y="791" width="4" height="2" fill="#4a2e2e"/>
<rect x="241" y="791" width="2" height="2" fill="#784b4b"/>
<rect x="237" y="791" width="4" height="4" fill="#4a2e2e"/>
<rect x="238" y="791" width="2" height="4" fill="#784b4b"/>
<rect x="233" y="791" width="5" height="7" fill="#4a2e2e"/>
<rect x="234" y="791" width="3" height="7" fill="#784b4b"/>
<rect x="230" y="791" width="4" height="3" fill="#4a2e2e"/>
<rect x="231" y="791" width="2" height="3" fill="#784b4b"/>
<rect x="227" y="791" width="4" height="11" fill="#4a2e2e"/>
<rect x="228" y="791" width="2" height="11" fill="#784b4b"/>
<rect x="224" y="791" width="4" height="19" fill="#4a2e2e"/>
<rect x="225" y="791" width="2" height="19" fill="#784b4b"/>
<rect x="221" y="791" width="4" height="20" fill="#4a2e2e"/>
<rect x="222" y="791" width="2" height="20" fill="#784b4b"/>
<rect x="218" y="791" width="4" height="18" fill="#4a2e2e"/>
<rect x="219" y="791" width="2" height="18" fill="#784b4b"/>
<rect x="215" y="791" width="4" height="14" fill="#4a2e2e"/>
<rect x="216" y="791" width="2" height="14" fill="#784b4b"/>
<rect x="212" y="791" width="4" height="12" fill="#4a2e2e"/>
<rect x="213" y="791" width="2" height="12" fill="#784b4b"/>
<rect x="209" y="791" width="4" height="13" fill="#4a2e2e"/>
<rect x="210" y="791" width="2" height="13" fill="#784b4b"/>
<rect x="206" y="791" width="4" height="8" fill="#4a2e2e"/>
<rect x="207" y="791" width="2" height="8" fill="#784b4b"/>
<rect x="203" y="791" width="4" height="8" fill="#4a2e2e"/>
<rect x="204" y="791" width="2" height="8" fill="#784b4b"/>
<rect x="200" y="791" width="4" height="5" fill="#4a2e2e"/>
<rect x="201" y="791" width="2" height="5" fill="#784b4b"/>
<rect x="197" y="791" width="4" height="5" fill="#4a2e2e"/>
<rect x="198" y="791" width="2" height="5" fill="#784b4b"/>
<rect x="194" y="791" width="4" height="8" fill="#4a2e2e"/>
<rect x="195" y="791" width="2" height="8" fill="#784b4b"/>
<rect x="191" y="791" width="4" height="12" fill="#4a2e2e"/>
<rect x="192" y="791" width="2" height="12" fill="#784b4b"/>
<rect x="188" y="791" width="4" height="17" fill="#4a2e2e"/>
<rect x="189" y="791" width="2" height="17" fill="#784b4b"/>
<rect x="184" y="791" width="5" height="17" fill="#4a2e2e"/>
<rect x="185" y="791" width="3" height="17" fill="#784b4b"/>
<rect x="181" y="791" width="4" height="19" fill="#4a2e2e"/>
<rect x="182" y="791" width="2" height="19" fill="#784b4b"/>
<rect x="178" y="791" width="4" height="14" fill="#4a2e2e"/>
<rect x="179" y="791" width="2" height="14" fill="#784b4b"/>
<rect x="175" y="791" width="4" height="11" fill="#4a2e2e"/>
<rect x="176" y="791" width="2" height="11" fill="#784b4b"/>
<rect x="172" y="791" width="4" height="6" fill="#4a2e2e"/>
<rect x="173" y="791" width="2" height="6" fill="#784b4b"/>
<rect x="169" y="791" width="4" height="4" fill="#4a2e2e"/>
<rect x="170" y="791" width="2" height="4" fill="#784b4b"/>
<rect x="166" y="791" width="4" height="3" fill="#4a2e2e"/>
<rect x="167" y="791" width="2" height="3" fill="#784b4b"/>
<rect x="163" y="784" width="4" height="7" fill="#00502f"/>
<rect x="164" y="784" width="2" height="7" fill="#007846"/>
<rect x="160" y="769" width="4" height="22" fill="#00502f"/>
<rect x="161" y="769" width="2" height="22" fill="#007846"/>
<rect x="157" y="765" width="4" height="26" fill="#00502f"/>
<rect x="158" y="765" width="2" height="26" fill="#007846"/>
<rect x="154" y="760" width="4" height="31" fill="#00502f"/>
<rect x="155" y="760" width="2" height="31" fill="#007846"/>
<rect x="151" y="761" width="4" height="30" fill="#00502f"/>
<rect x="152" y="761" width="2" height="30" fill="#007846"/>
<rect x="148" y="759" width="4" height="32" fill="#00502f"/>
<rect x="149" y="759" width="2" height="32" fill="#007846"/>
<rect x="145" y="764" width="4" height="27" fill="#00502f"/>
<rect x="146" y="764" width="2" height="27" fill="#007846"/>
<rect x="142" y="777" width="4" height="14" fill="#00502f"/>
<rect x="143" y="777" width="2" height="14" fill="#007846"/>
<rect x="139" y="786" width="4" height="5" fill="#00502f"/>
<rect x="140" y="786" width="2" height="5" fill="#007846"/>
<rect x="132" y="791" width="4" height="4" fill="#4a2e2e"/>
<rect x="133" y="791" width="2" height="4" fill="#784b4b"/>
<rect x="129" y="791" width="4" height="8" fill="#4a2e2e"/>
<rect x="130" y="791" width="2" height="8" fill="#784b4b"/>
<rect x="126" y="791" width="4" height="8" fill="#4a2e2e"/>
<rect x="127" y="791" width="2" height="8" fill="#784b4b"/>
<rect x="123" y="791" width="4" height="9" fill="#4a2e2e"/>
<rect x="124" y="791" width="2" height="9" fill="#784b4b"/>
<rect x="120" y="791" width="4" height="10" fill="#4a2e2e"/>
<rect x="121" y="791" width="2" height="10" fill="#784b4b"/>
<rect x="117" y="791" width="4" height="8" fill="#4a2e2e"/>
<rect x="118" y="791" width="2" height="8" fill="#784b4b"/>
<rect x="114" y="791" width="4" height="8" fill="#4a2e2e"/>
<rect x="115" y="791" width="2" height="8" fill="#784b4b"/>
<rect x="111" y="791" width="4" height="9" fill="#4a2e2e"/>
<rect x="112" y="791" width="2" height="9" fill="#784b4b"/>
<rect x="108" y="791" width="4" height="12" fill="#4a2e2e"/>
<rect x="109" y="791" width="2" height="12" fill="#784b4b"/>
<rect x="105" y="791" width="4" height="13" fill="#4a2e2e"/>
<rect x="106" y="791" width="2" height="13" fill="#784b4b"/>
<rect x="102" y="791" width="4" height="15" fill="#4a2e2e"/>
<rect x="103" y="791" width="2" height="15" fill="#784b4b"/>
<rect x="99" y="791" width="4" height="9" fill="#4a2e2e"/>
<rect x="100" y="791" width="2" height="9" fill="#784b4b"/>
<rect x="96" y="791" width="4" height="11" fill="#4a2e2e"/>
<rect x="97" y="791" width="2" height="11" fill="#784b4b"/>
<rect x="93" y="791" width="4" height="13" fill="#4a2e2e"/>
<rect x="94" y="791" width="2" height="13" fill="#784b4b"/>
<rect x="90" y="791" width="4" height="12" fill="#4a2e2e"/>
<rect x="91" y="791" width="2" height="12" fill="#784b4b"/>
<rect x="86" y="791" width="5" height="11" fill="#4a2e2e"/>
<rect x="87" y="791" width="3" height="11" fill="#784b4b"/>
<rect x="83" y="791" width="4" height="6" fill="#4a2e2e"/>
<rect x="84" y="791" width="2" height="6" fill="#784b4b"/>
<rect x="80" y="791" width="4" height="10" fill="#4a2e2e"/>
<rect x="81" y="791" width="2" height="10" fill="#784b4b"/>
<rect x="77" y="791" width="4" height="3" fill="#4a2e2e"/>
<rect x="78" y="791" width="2" height="3" fill="#784b4b"/>
<rect x="74" y="790" width="4" height="1" fill="#00502f"/>
<rect x="75" y="790" width="2" height="1" fill="#007846"/>
<rect x="71" y="789" width="4" height="2" fill="#00502f"/>
<rect x="72" y="789" width="2" height="2" fill="#007846"/>
<rect x="68" y="790" width="4" height="1" fill="#00502f"/>
<rect x="69" y="790" width="2" height="1" fill="#007846"/>
<rect x="65" y="791" width="4" height="2" fill="#4a2e2e"/>
<rect x="66" y="791" width="2" height="2" fill="#784b4b"/>
<rect x="62" y="791" width="4" height="4" fill="#4a2e2e"/>
<rect x="63" y="791" width="2" height="4" fill="#784b4b"/>
<rect x="59" y="791" width="4" height="4" fill="#4a2e2e"/>
<rect x="60" y="791" width="2" height="4" fill="#784b4b"/>
<rect x="56" y="791" width="4" height="2" fill="#4a2e2e"/>
<rect x="57" y="791" width="2" height="2" fill="#784b4b"/>
<rect x="50" y="787" width="4" height="4" fill="#00502f"/>
<rect x="51" y="787" width="2" height="4" fill="#007846"/>
<rect x="47" y="784" width="4" height="7" fill="#00502f"/>
<rect x="48" y="784" width="2" height="7" fill="#007846"/>
<rect x="44" y="778" width="4" height="13" fill="#00502f"/>
<rect x="45" y="778" width="2" height="13" fill="#007846"/>
<rect x="41" y="773" width="4" height="18" fill="#00502f"/>
<rect x="42" y="773" width="2" height="18" fill="#007846"/>
<rect x="37" y="771" width="5" height="20" fill="#00502f"/>
<rect x="38" y="771" width="3" height="20" fill="#007846"/>
<rect x="34" y="767" width="4" height="24" fill="#00502f"/>
<rect x="35" y="767" width="2" height="24" fill="#007846"/>
<rect x="31" y="763" width="4" height="28" fill="#00502f"/>
<rect x="32" y="763" width="2" height="28" fill="#007846"/>
<rect x="28" y="759" width="4" height="32" fill="#00502f"/>
<rect x="29" y="759" width="2" height="32" fill="#007846"/>
<rect x="25" y="755" width="4" height="36" fill="#00502f"/>
<rect x="26" y="755" width="2" height="36" fill="#007846"/>
<rect x="22" y="751" width="4" height="40" fill="#00502f"/>
<rect x="23" y="751" width="2" height="40" fill="#007846"/>
<rect x="19" y="750" width="4" height="41" fill="#00502f"/>
<rect x="20" y="750" width="2" height="41" fill="#007846"/>
<rect x="16" y="755" width="4" height="36" fill="#00502f"/>
<rect x="17" y="755" width="2" height="36" fill="#007846"/>
</g>
<g fill="#808080" shape-rendering="crispEdges">
<rect x="1151" y="45" width="2" height="1"/>
<rect x="1151" y="68" width="2" height="1"/>
<rect x="1151" y="90" width="2" height="1"/>
<rect x="1151" y="112" width="2" height="1"/>
<rect x="1151" y="135" width="2" height="1"/>
<rect x="1151" y="157" width="2" height="1"/>
<rect x="1151" y="179" width="2" height="1"/>
<rect x="1151" y="202" width="2" height="1"/>
<rect x="1151" y="224" width="2" height="1"/>
<rect x="1151" y="246" width="2" height="1"/>
<rect x="1151" y="269" width="2" height="1"/>
<rect x="1151" y="291" width="2" height="1"/>
<rect x="1151" y="313" width="2" height="1"/>
<rect x="1151" y="335" width="2" height="1"/>
<rect x="1151" y="358" width="2" height="1"/>
<rect x="1151" y="380" width="2" height="1"/>
<rect x="1151" y="402" width="2" height="1"/>
<rect x="1151" y="425" width="2" height="1"/>
<rect x="1151" y="447" width="2" height="1"/>
<rect x="1151" y="469" width="2" height="1"/>
<rect x="1151" y="491" width="2" height="1"/>
<rect x="1151" y="513" width="2" height="1"/>
<rect x="1151" y="49" width="1" height="1"/>
<rect x="1151" y="54" width="1" height="1"/>
<rect x="1151" y="58" width="1" height="1"/>
<rect x="1151" y="63" width="1" height="1"/>
<rect x="1151" y="72" width="1" height="1"/>
<rect x="1151" y="76" width="1" height="1"/>
<rect x="1151" y="81" width="1" height="1"/>
<rect x="1151" y="85" width="1" height="1"/>
<rect x="1151" y="94" width="1" height="1"/>
<rect x="1151" y="99" width="1" height="1"/>
<rect x="1151" y="103" width="1" height="1"/>
<rect x="1151" y="107" width="1" height="1"/>
<rect x="1151" y="116" width="1" height="1"/>
<rect x="1151" y="121" width="1" height="1"/>
<rect x="1151" y="125" width="1" height="1"/>
<rect x="1151" y="130" width="1" height="1"/>
<rect x="1151" y="139" width="1" height="1"/>
<rect x="1151" y="143" width="1" height="1"/>
<rect x="1151" y="148" width="1" height="1"/>
<rect x="1151" y="152" width="1" height="1"/>
<rect x="1151" y="161" width="1" height="1"/>
<rect x="1151" y="165" width="1" height="1"/>
<rect x="1151" y="170" width="1" height="1"/>
<rect x="1151" y="174" width="1" height="1"/>
<rect x="1151" y="183" width="1" height="1"/>
<rect x="1151" y="188" width="1" height="1"/>
<rect x="1151" y="192" width="1" height="1"/>
<rect x="1151" y="197" width="1" height="1"/>
<rect x="1151" y="206" width="1" height="1"/>
<rect x="1151" y="210" width="1" height="1"/>
<rect x="1151" y="214" width="1" height="1"/>
<rect x="1151" y="219" width="1" height="1"/>
<rect x="1151" y="228" width="1" height="1"/>
<rect x="1151" y="232" width="1" height="1"/>
<rect x="1151" y="237" width="1" height="1"/>
<rect x="1151" y="241" width="1" height="1"/>
<rect x="1151" y="250" width="1" height="1"/>
<rect x="1151" y="255" width="1" height="1"/>
<rect x="1151" y="259" width="1" height="1"/>
<rect x="1151" y="264" width="1" height="1"/>
<rect x="1151" y="272" width="1" height="1"/>
<rect x="1151" y="277" width="1" height="1"/>
<rect x="1151" y="281" width="1" height="1"/>
<rect x="1151" y="286" width="1" height="1"/>
<rect x="1151" y="295" width="1" height="1"/>
<rect x="1151" y="299" width="1" height="1"/>
<rect x="1151" y="304" width="1" height="1"/>
<rect x="1151" y="308" width="1" height="1"/>
<rect x="1151" y="317" width="1" height="1"/>
<rect x="1151" y="322" width="1" height="1"/>
<rect x="1151" y="326" width="1" height="1"/>
<rect x="1151" y="330" width="1" height="1"/>
<rect x="1151" y="339" width="1" height="1"/>
<rect x="1151" y="344" width="1" height="1"/>
<rect x="1151" y="348" width="1" height="1"/>
<rect x="1151" y="353" width="1" height="1"/>
<rect x="1151" y="362" width="1" height="1"/>
<rect x="1151" y="366" width="1" height="1"/>
<rect x="1151" y="371" width="1" height="1"/>
<rect x="1151" y="375" width="1" height="1"/>
<rect x="1151" y="384" width="1" height="1"/>
<rect x="1151" y="388" width="1" height="1"/>
<rect x="1151" y="393" width="1" height="1"/>
<rect x="1151" y="397" width="1" height="1"/>
<rect x="1151" y="406" width="1" height="1"/>
<rect x="1151" y="411" width="1" height="1"/>
<rect x="1151" y="415" width="1" height="1"/>
<rect x="1151" y="420" width="1" height="1"/>
<rect x="1151" y="429" width="1" height="1"/>
<rect x="1151" y="433" width="1" height="1"/>
<rect x="1151" y="437" width="1" height="1"/>
<rect x="1151" y="442" width="1" height="1"/>
<rect x="1151" y="451" width="1" height="1"/>
<rect x="1151" y="455" width="1" height="1"/>
<rect x="1151" y="460" width="1" height="1"/>
<rect x="1151" y="464" width="1" height="1"/>
<rect x="1151" y="473" width="1" height="1"/>
<rect x="1151" y="478" width="1" height="1"/>
<rect x="1151" y="482" width="1" height="1"/>
<rect x="1151" y="487" width="1" height="1"/>
<rect x="1151" y="495" width="1" height="1"/>
<rect x="1151" y="500" width="1" height="1"/>
<rect x="1151" y="504" width="1" height="1"/>
<rect x="1151" y="509" width="1" height="1"/>
<rect x="1151" y="518" width="1" height="1"/>
<rect x="1151" y="553" width="2" height="1"/>
<rect x="1151" y="579" width="2" height="1"/>
<rect x="1151" y="605" width="2" height="1"/>
<rect x="1151" y="631" width="2" height="1"/>
<rect x="1151" y="657" width="2" height="1"/>
<rect x="1151" y="683" width="2" height="1"/>
<rect x="1151" y="704" width="1" height="1"/>
<rect x="1151" y="699" width="1" height="1"/>
<rect x="1151" y="693" width="1" height="1"/>
<rect x="1151" y="688" width="1" height="1"/>
<rect x="1151" y="678" width="1" height="1"/>
<rect x="1151" y="673" width="1" height="1"/>
<rect x="1151" y="667" width="1" height="1"/>
<rect x="1151" y="662" width="1" height="1"/>
<rect x="1151" y="652" width="1" height="1"/>
<rect x="1151" y="647" width="1" height="1"/>
<rect x="1151" y="641" width="1" height="1"/>
<rect x="1151" y="636" width="1" height="1"/>
<rect x="1151" y="626" width="1" height="1"/>
<rect x="1151" y="621" width="1" height="1"/>
<rect x="1151" y="615" width="1" height="1"/>
<rect x="1151" y="610" width="1" height="1"/>
<rect x="1151" y="600" width="1" height="1"/>
<rect x="1151" y="595" width="1" height="1"/>
<rect x="1151" y="589" width="1" height="1"/>
<rect x="1151" y="584" width="1" height="1"/>
<rect x="1151" y="574" width="1" height="1"/>
<rect x="1151" y="569" width="1" height="1"/>
<rect x="1151" y="563" width="1" height="1"/>
<rect x="1151" y="558" width="1" height="1"/>
<rect x="1151" y="548" width="1" height="1"/>
<rect x="1151" y="543" width="1" height="1"/>
<rect x="1151" y="716" width="2" height="1"/>
<rect x="1151" y="731" width="2" height="1"/>
<rect x="1151" y="746" width="2" height="1"/>
<rect x="1151" y="761" width="2" height="1"/>
<rect x="1151" y="776" width="2" height="1"/>
<rect x="1151" y="791" width="2" height="1"/>
<rect x="1151" y="806" width="2" height="1"/>
<rect x="1151" y="821" width="2" height="1"/>
<rect x="1151" y="836" width="2" height="1"/>
<rect x="1151" y="851" width="2" height="1"/>
<rect x="1151" y="865" width="2" height="1"/>
<rect x="1151" y="880" width="2" height="1"/>
<rect x="1151" y="877" width="1" height="1"/>
<rect x="1151" y="874" width="1" height="1"/>
<rect x="1151" y="871" width="1" height="1"/>
<rect x="1151" y="868" width="1" height="1"/>
<rect x="1151" y="863" width="1" height="1"/>
<rect x="1151" y="860" width="1" height="1"/>
<rect x="1151" y="857" width="1" height="1"/>
<rect x="1151" y="854" width="1" height="1"/>
<rect x="1151" y="848" width="1" height="1"/>
<rect x="1151" y="845" width="1" height="1"/>
<rect x="1151" y="842" width="1" height="1"/>
<rect x="1151" y="839" width="1" height="1"/>
<rect x="1151" y="833" width="1" height="1"/>
<rect x="1151" y="830" width="1" height="1"/>
<rect x="1151" y="827" width="1" height="1"/>
<rect x="1151" y="824" width="1" height="1"/>
<rect x="1151" y="818" width="1" height="1"/>
<rect x="1151" y="815" width="1" height="1"/>
<rect x="1151" y="812" width="1" height="1"/>
<rect x="1151" y="809" width="1" height="1"/>
<rect x="1151" y="803" width="1" height="1"/>
<rect x="1151" y="800" width="1" height="1"/>
<rect x="1151" y="797" width="1" height="1"/>
<rect x="1151" y="794" width="1" height="1"/>
<rect x="1151" y="788" width="1" height="1"/>
<rect x="1151" y="785" width="1" height="1"/>
<rect x="1151" y="782" width="1" height="1"/>
<rect x="1151" y="779" width="1" height="1"/>
<rect x="1151" y="773" width="1" height="1"/>
<rect x="1151" y="770" width="1" height="1"/>
<rect x="1151" y="767" width="1" height="1"/>
<rect x="1151" y="764" width="1" height="1"/>
<rect x="1151" y="758" width="1" height="1"/>
<rect x="1151" y="755" width="1" height="1"/>
<rect x="1151" y="752" width="1" height="1"/>
<rect x="1151" y="749" width="1" height="1"/>
<rect x="1151" y="743" width="1" height="1"/>
<rect x="1151" y="740" width="1" height="1"/>
<rect x="1151" y="737" width="1" height="1"/>
<rect x="1151" y="734" width="1" height="1"/>
<rect x="1151" y="728" width="1" height="1"/>
<rect x="1151" y="725" width="1" height="1"/>
<rect x="1151" y="722" width="1" height="1"/>
<rect x="1151" y="719" width="1" height="1"/>
<rect x="1151" y="714" width="1" height="1"/>
</g>
<g font-size="10.2" fill="#ddddaa">
<text x="1153.7" y="48.4" textLength="29" lengthAdjust="spacingAndGlyphs">74000</text>
<text x="1153.7" y="71.4" textLength="29" lengthAdjust="spacingAndGlyphs">72000</text>
<text x="1153.7" y="93.4" textLength="29" lengthAdjust="spacingAndGlyphs">70000</text>
<text x="1153.7" y="115.4" textLength="29" lengthAdjust="spacingAndGlyphs">68000</text>
<text x="1153.7" y="138.4" textLength="29" lengthAdjust="spacingAndGlyphs">66000</text>
<text x="1153.7" y="160.4" textLength="29" lengthAdjust="spacingAndGlyphs">64000</text>
<text x="1153.7" y="182.4" textLength="29" lengthAdjust="spacingAndGlyphs">62000</text>
<text x="1153.7" y="205.4" textLength="29" lengthAdjust="spacingAndGlyphs">60000</text>
<text x="1153.7" y="227.4" textLength="29" lengthAdjust="spacingAndGlyphs">58000</text>
<text x="1153.7" y="249.4" textLength="29" lengthAdjust="spacingAndGlyphs">56000</text>
<text x="1153.7" y="272.4" textLength="29" lengthAdjust="spacingAndGlyphs">54000</text>
<text x="1153.7" y="294.4" textLength="29" lengthAdjust="spacingAndGlyphs">52000</text>
<text x="1153.7" y="316.4" textLength="29" lengthAdjust="spacingAndGlyphs">50000</text>
<text x="1153.7" y="338.4" textLength="29" lengthAdjust="spacingAndGlyphs">48000</text>
<text x="1153.7" y="361.4" textLength="29" lengthAdjust="spacingAndGlyphs">46000</text>
<text x="1153.7" y="383.4" textLength="29" lengthAdjust="spacingAndGlyphs">44000</text>
<text x="1153.7" y="405.4" textLength="29" lengthAdjust="spacingAndGlyphs">42000</text>
<text x="1153.7" y="428.4" textLength="29" lengthAdjust="spacingAndGlyphs">40000</text>
<text x="1153.7" y="450.4" textLength="29" lengthAdjust="spacingAndGlyphs">38000</text>
<text x="1153.7" y="472.4" textLength="29" lengthAdjust="spacingAndGlyphs">36000</text>
<text x="1153.7" y="494.4" textLength="29" lengthAdjust="spacingAndGlyphs">34000</text>
<text x="1153.7" y="516.4" textLength="29" lengthAdjust="spacingAndGlyphs">32000</text>
<text x="1184" y="556.3" text-anchor="end">120K</text>
<text x="1184" y="582.3" text-anchor="end">100K</text>
<text x="1153.7" y="608.3" textLength="29" lengthAdjust="spacingAndGlyphs">80000</text>
<text x="1153.7" y="634.3" textLength="29" lengthAdjust="spacingAndGlyphs">60000</text>
<text x="1153.7" y="660.3" textLength="29" lengthAdjust="spacingAndGlyphs">40000</text>
<text x="1153.7" y="686.3" textLength="29" lengthAdjust="spacingAndGlyphs">20000</text>
<text x="1180" y="719.4" text-anchor="end">1250</text>
<text x="1180" y="734.4" text-anchor="end">1000</text>
<text x="1180" y="749.4" text-anchor="end">750</text>
<text x="1180" y="764.4" text-anchor="end">500</text>
<text x="1180" y="779.4" text-anchor="end">250</text>
<text x="1180" y="794.4" text-anchor="end">0</text>
<text x="1180" y="809.4" text-anchor="end">-250</text>
<text x="1180" y="824.4" text-anchor="end">-500</text>
<text x="1180" y="839.4" text-anchor="end">-750</text>
<text x="1180" y="854.4" text-anchor="end">-1000</text>
<text x="1180" y="868.4" text-anchor="end">-1250</text>
<text x="1180" y="883.4" text-anchor="end">-1500</text>
</g>
<text x="42.5" y="533.6" font-size="9.5" fill="#ddddaa" text-anchor="middle" letter-spacing="0.4">Nov</text>
<text x="133.5" y="533.6" font-size="9.5" fill="#ddddaa" text-anchor="middle" letter-spacing="0.4">Dec</text>
<text x="228.5" y="533.6" font-size="10.5" font-weight="bold" fill="#ddddaa" text-anchor="middle">2024</text>
<text x="323.5" y="533.6" font-size="9.5" fill="#ddddaa" text-anchor="middle" letter-spacing="0.4">Feb</text>
<text x="412.5" y="533.6" font-size="9.5" fill="#ddddaa" text-anchor="middle" letter-spacing="0.4">Mar</text>
<text x="507.5" y="533.6" font-size="9.5" fill="#ddddaa" text-anchor="middle" letter-spacing="0.4">Apr</text>
<text x="599.5" y="533.6" font-size="9.5" fill="#ddddaa" text-anchor="middle" letter-spacing="0.4">May</text>
<text x="694.5" y="533.6" font-size="9.5" fill="#ddddaa" text-anchor="middle" letter-spacing="0.4">Jun</text>
<text x="786.5" y="533.6" font-size="9.5" fill="#ddddaa" text-anchor="middle" letter-spacing="0.4">Jul</text>
<text x="881.5" y="533.6" font-size="9.5" fill="#ddddaa" text-anchor="middle" letter-spacing="0.4">Aug</text>
<text x="976.5" y="533.6" font-size="9.5" fill="#ddddaa" text-anchor="middle" letter-spacing="0.4">Sep</text>
<text x="1067.5" y="533.6" font-size="9.5" fill="#ddddaa" text-anchor="middle" letter-spacing="0.4">Oct</text>
<text x="42.5" y="893.6" font-size="9.5" fill="#ddddaa" text-anchor="middle" letter-spacing="0.4">Nov</text>
<text x="133.5" y="893.6" font-size="9.5" fill="#ddddaa" text-anchor="middle" letter-spacing="0.4">Dec</text>
<text x="228.5" y="893.6" font-size="10.5" font-weight="bold" fill="#ddddaa" text-anchor="middle">2024</text>
<text x="323.5" y="893.6" font-size="9.5" fill="#ddddaa" text-anchor="middle" letter-spacing="0.4">Feb</text>
<text x="412.5" y="893.6" font-size="9.5" fill="#ddddaa" text-anchor="middle" letter-spacing="0.4">Mar</text>
<text x="507.5" y="893.6" font-size="9.5" fill="#ddddaa" text-anchor="middle" letter-spacing="0.4">Apr</text>
<text x="599.5" y="893.6" font-size="9.5" fill="#ddddaa" text-anchor="middle" letter-spacing="0.4">May</text>
<text x="694.5" y="893.6" font-size="9.5" fill="#ddddaa" text-anchor="middle" letter-spacing="0.4">Jun</text>
<text x="786.5" y="893.6" font-size="9.5" fill="#ddddaa" text-anchor="middle" letter-spacing="0.4">Jul</text>
<text x="881.5" y="893.6" font-size="9.5" fill="#ddddaa" text-anchor="middle" letter-spacing="0.4">Aug</text>
<text x="976.5" y="893.6" font-size="9.5" fill="#ddddaa" text-anchor="middle" letter-spacing="0.4">Sep</text>
<text x="1067.5" y="893.6" font-size="9.5" fill="#ddddaa" text-anchor="middle" letter-spacing="0.4">Oct</text>
<path d="M1148.5 130 L1153.5 124.5 L1199.5 124.5 L1199.5 135.5 L1153.5 135.5 Z" fill="#2a2a2a" stroke="#00b000" stroke-width="1"/>
<text x="1153" y="133.7" font-size="10.2" font-weight="bold" fill="#ddddaa" textLength="44.5" lengthAdjust="spacingAndGlyphs">66401.23</text>
<path d="M1148.5 696.5 L1153 691.5 L1178.5 691.5 L1178.5 701.5 L1153 701.5 Z" fill="#2a2a2a" stroke="#00b000" stroke-width="1"/>
<text x="1153" y="700" font-size="10" fill="#ddddaa" textLength="22" lengthAdjust="spacingAndGlyphs">9467</text>
<path d="M1149.5 781.5 L1154 776.5 L1193.5 776.5 L1193.5 786.5 L1154 786.5 Z" fill="#3a3a3a" stroke="#808080" stroke-width="1"/>
<text x="1154" y="785.3" font-size="10.5" fill="#ddddaa" textLength="37.5" lengthAdjust="spacingAndGlyphs">144.484</text>
<rect x="492.5" y="336.5" width="344" height="29" fill="#fff" stroke="#888" stroke-width="1" shape-rendering="crispEdges"/>
<text transform="translate(0,358) scale(1,1.05)" font-size="19" fill="#000" stroke="#000" stroke-width="0.25"><tspan x="496.2" y="0">Bitcoin</tspan><tspan x="559.0" y="0">-</tspan><tspan x="571.5" y="0">the</tspan><tspan x="605.3" y="0">father</tspan><tspan x="662.2" y="0">of</tspan><tspan x="685.8" y="0">crypto,</tspan><tspan x="752.3" y="0">daily,</tspan><tspan x="805.8" y="0">1yr</tspan></text>
<text x="16" y="14" font-family="Liberation Serif, serif" font-weight="bold" font-size="16" fill="#ddddaa" textLength="59" lengthAdjust="spacingAndGlyphs">$BTCUSD</text>
<text x="80" y="13.5" font-size="11" fill="#ddddaa" textLength="89" lengthAdjust="spacingAndGlyphs">Bitcoin to US Dollar</text>
<text x="176" y="13.5" font-size="9.5" fill="#ddddaa" textLength="33" lengthAdjust="spacing">CRYPT</text>
<text x="16" y="26.5" font-size="10" fill="#ddddaa" textLength="103" lengthAdjust="spacing">23-Oct-2024 11:53am</text>
<g fill="#00c800" shape-rendering="crispEdges"><rect x="19" y="32" width="3" height="5"/><rect x="20" y="31" width="1" height="7"/><rect x="20" y="33" width="1" height="3" fill="#000"/><rect x="22" y="34" width="3" height="3"/><rect x="23" y="33" width="1" height="6"/><rect x="25" y="32" width="3" height="5"/><rect x="26" y="31" width="1" height="8"/><rect x="26" y="33" width="1" height="3" fill="#000"/></g>
<text x="32" y="39" font-size="10" fill="#ddddaa" textLength="148" lengthAdjust="spacing">$BTCUSD (Daily) 66401.23</text>
<g shape-rendering="crispEdges"><rect x="19" y="543" width="4" height="5" fill="#14be7d"/><rect x="22" y="539" width="4" height="9" fill="#14be7d"/><rect x="25" y="541" width="3" height="7" fill="#14be7d"/><rect x="20" y="544" width="2" height="4" fill="#0a7850"/><rect x="23" y="540" width="2" height="8" fill="#0a7850"/><rect x="26" y="542" width="1" height="6" fill="#0a7850"/></g>
<text x="31" y="548" font-size="10" fill="#ddddaa" textLength="77" lengthAdjust="spacing">Volume 9,467</text>
<g shape-rendering="crispEdges"><rect x="19" y="717" width="4" height="4" fill="#a0a0a0"/><rect x="22" y="712" width="4" height="9" fill="#a0a0a0"/><rect x="25" y="715" width="3" height="6" fill="#a0a0a0"/><rect x="20" y="718" width="2" height="3" fill="#006030"/><rect x="23" y="713" width="2" height="8" fill="#006030"/><rect x="26" y="716" width="1" height="5" fill="#006030"/></g>
<text x="32" y="721" font-size="10" fill="#ddddaa" textLength="158" lengthAdjust="spacing">MACD(12,26,9) Hist 144.484</text>
<text x="1060.75" y="13" font-size="11" fill="#808070" textLength="89" lengthAdjust="spacingAndGlyphs">© StockCharts.com</text>
<text x="640.75" y="26" font-size="11.5" font-weight="bold" fill="#ddddaa" textLength="28.50" lengthAdjust="spacingAndGlyphs">Open</text>
<text x="672.50" y="26" font-size="10.5" fill="#ddddaa" textLength="44.50" lengthAdjust="spacingAndGlyphs">67390.32</text>
<text x="723.75" y="26" font-size="11.5" font-weight="bold" fill="#ddddaa" textLength="23.25" lengthAdjust="spacingAndGlyphs">High</text>
<text x="750.50" y="26" font-size="10.5" fill="#ddddaa" textLength="44.50" lengthAdjust="spacingAndGlyphs">67436.29</text>
<text x="801.75" y="26" font-size="11.5" font-weight="bold" fill="#ddddaa" textLength="22.75" lengthAdjust="spacingAndGlyphs">Low</text>
<text x="828.75" y="26" font-size="10.5" fill="#ddddaa" textLength="44.25" lengthAdjust="spacingAndGlyphs">66153.85</text>
<text x="880.00" y="26" font-size="11.5" font-weight="bold" fill="#ddddaa" textLength="23.00" lengthAdjust="spacingAndGlyphs">Last</text>
<text x="906.25" y="26" font-size="10.5" fill="#ddddaa" textLength="45.00" lengthAdjust="spacingAndGlyphs">66401.23</text>
<text x="958.00" y="26" font-size="11.5" font-weight="bold" fill="#ddddaa" textLength="41.50" lengthAdjust="spacingAndGlyphs">Volume</text>
<text x="1003.75" y="26" font-size="10.5" fill="#ddddaa" textLength="25.75" lengthAdjust="spacingAndGlyphs">9,467</text>
<text x="1037.00" y="26" font-size="11.5" font-weight="bold" fill="#ddddaa" textLength="21.00" lengthAdjust="spacingAndGlyphs">Chg</text>
<text x="1062.50" y="26" font-size="10.5" fill="#ddddaa" textLength="77.50" lengthAdjust="spacingAndGlyphs">-989.09 (-1.47%)</text>
<path d="M1143 21 L1150 21 L1146.5 25.5 Z" fill="#ff0000"/>
<g fill="#555548" shape-rendering="crispEdges"><rect x="42" y="898" width="1" height="1"/><rect x="133" y="898" width="1" height="1"/><rect x="228" y="898" width="1" height="1"/><rect x="323" y="898" width="1" height="1"/><rect x="412" y="898" width="1" height="1"/><rect x="507" y="898" width="1" height="1"/><rect x="599" y="898" width="1" height="1"/><rect x="694" y="898" width="1" height="1"/><rect x="786" y="898" width="1" height="1"/><rect x="881" y="898" width="1" height="1"/><rect x="976" y="898" width="1" height="1"/><rect x="1067" y="898" width="1" height="1"/></g>
</svg></body></html>
